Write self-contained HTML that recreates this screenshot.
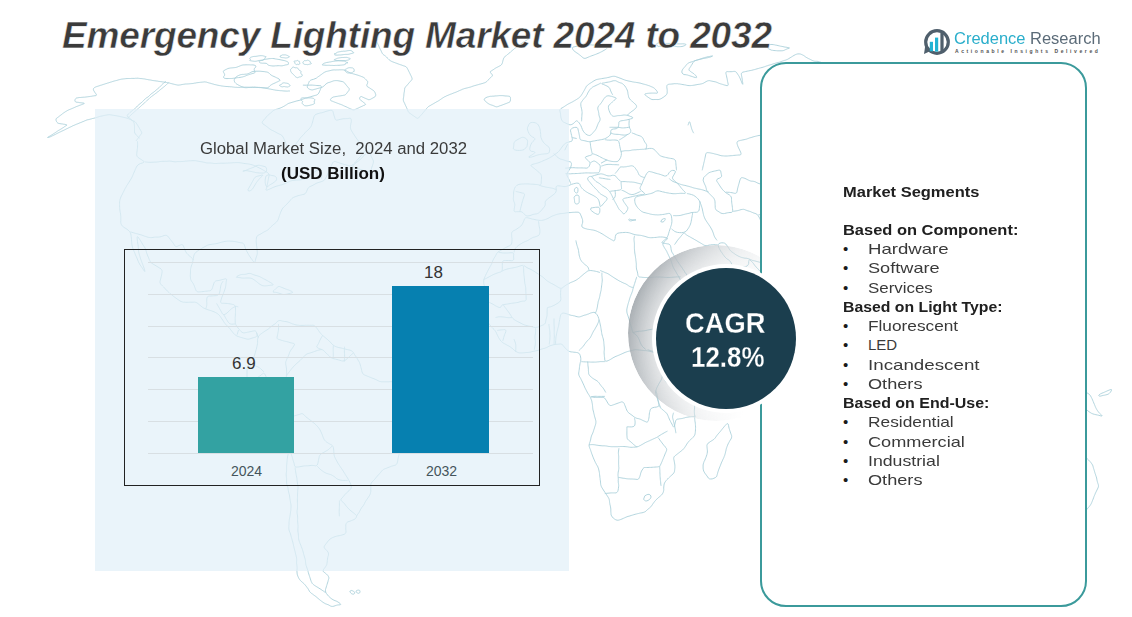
<!DOCTYPE html>
<html>
<head>
<meta charset="utf-8">
<style>
html,body{margin:0;padding:0;}
body{width:1132px;height:617px;position:relative;overflow:hidden;background:#ffffff;font-family:"Liberation Sans",sans-serif;}
.a{position:absolute;white-space:nowrap;}
#map{position:absolute;left:0;top:0;}
#panel{position:absolute;left:95px;top:109px;width:474px;height:462px;background:rgba(225,239,248,0.7);}
#title{left:62px;top:15px;font-size:37px;letter-spacing:-0.15px;-webkit-text-stroke:0.5px #fff;font-weight:bold;font-style:italic;color:#3b3b3b;}
#frame{position:absolute;left:124px;top:249px;width:414px;height:235px;border:1px solid #222;}
.grid{position:absolute;left:148px;width:385px;height:1px;background:#d8dfe3;}
.bar{position:absolute;}
#card{position:absolute;left:760px;top:62px;width:323px;height:541px;border:2px solid #3b9a9b;border-radius:26px;background:#fff;}
.seg{font-size:15px;color:#1a1a1a;}
.segb{font-weight:bold;}
.bul{display:inline-block;width:25px;}
.it{color:#3a3a3a;display:inline-block;transform-origin:0 50%;}
.it.b{color:#202020;}
#shade{position:absolute;left:628px;top:245px;width:176px;height:176px;border-radius:50%;background:linear-gradient(105deg, rgba(150,157,162,0.95) 0%, rgba(185,190,194,0.9) 25%, rgba(225,228,230,0.7) 50%, rgba(255,255,255,0) 72%);-webkit-mask-image:radial-gradient(circle at 98px 94px, rgba(0,0,0,0.45) 72px, rgba(0,0,0,1) 100px);}
#cagr{position:absolute;left:656px;top:268px;width:140px;height:141px;border-radius:50%;background:#1b3e4e;box-shadow:0 0 0 4px #fff;}
</style>
</head>
<body>
<svg id="map" width="1132" height="617" viewBox="0 0 1132 617"><path d="M302.9 85.2l.3 0 .7 0 1 0 1.3 0 1.3 0 1.2 0 1.2-.1 1.1 0 1.2 0 1.1 .1 1.2 .1 1.2 .1 1.2 .1 1.1 .1 1.2 0 1.1 0 .7 .3 .3 .6 0 .8 -.5 1.1 -.4 1.1 -.5 1.1 -.5 1.2 -.5 1.1 -.7 1 -.8 .7 -1 .5 -1.1 .3 -1.1 .3 -1.1 .3 -1.1 .3 -1.2 .4 -1.1 .3 -1.1 .3 -1.1 .3 -1 .3 -1.1 .3 -1 .4 -1.1 .4 -1 .4 -1 .4 -1.1 .4 -1.1 .2 -1.1 .3 -1.1 .2 -1 .3 -1 .3 -1 .3 -1 .3 -1 .3 -1 .3 -1 .3 -1 .3 -.8 .3 -.6 .4 -.6 .4 -.6 .5 -.8 .4 -.9 .6 -.9 .5 -1 .5 -.9 .5 -1 .4 -.9 .4 -1 .3 -1 .4 -1.1 .3 -1.2 .3 -1 .4 -1 .5 -.8 .6 -.7 .7 -.8 .7 -.8 .7 -.9 .7 -.9 .8 -.9 .8 -.8 .8 -.8 .9 -.7 .9 -.7 .9 -.8 .9 -.8 .8 -.7 .9 -.3 .8 .1 .8 .7 .8 1.2 .8 1.1 .8 1.1 .8 1.2 .9 1.1 .9 1 .8 1.1 .7 1 .6 1 .4 1 .5 1 .6 1 .5 1 .6 1 .5 1 .5 .9 .4 1 .4 .9 .6 .8 .9 .7 1 .6 1.2 .6 1.3 .5 1.2 .5 1.2 .4 1.2 .6 1.3 .8 1.4 1 1.5 1.2 1.7 1 1 .8 .3 .6-.3 .5-1 .5-1 .6-.9 .7-1 .7-.9 .8-.9 .7-.8 .6-.9 .7-.9 .6-.8 .6-.8 .6-.8 .5-.8 .6-.8 .7-.7 .7-.8 .8-.7 .7-.8 .7-.7 .6-.7 .6-.8 .7-.7 .7-.7 .8-.8 .8-.6 .8-.8 .7-.8 .6-.8 .6-.8 .5-1 .4-1.1 .4-1.2 .4-1.3 .3-1.3 .4-1.4 .3-1.3 .4-1.3 .5-1 .6-.8 .9-.6 1-.3 1.1-.4 1.1-.3 1.1-.3 1.2-.2 1.2-.3 1.1-.3 1.1-.4 1-.4 1.1-.3 1.1-.3 1.2-.3 1.3-.2 1.1 .1 .7 .3 .5 .7 .3 .9 .2 1 .3 .9 .2 1 .3 .9 .3 .9 .3 .9 .2 .8 .3 .7 .5 .5 .6 .2 .8 0 1-.2 .9-.3 1-.2 .9-.2 1-.2 .9-.2 .9-.1 .9 0 .9 0 1-.1 1 0 1-.2 1-.2 .8 .1 .6 .4 .2 .7 .1 1 0 1 -.1 .9 -.2 .8 -.2 .8 -.1 .8 -.2 .9 0 .9 -.1 .9 .2 1 .2 .9 .5 1 .5 1 .7 1 .6 1.1 .8 1.1 .8 1.2 .7 1.1 .7 1 .6 .9 .6 .8 .6 .8 .6 .7 .7 .8 .7 .8 .7 .8 .7 .8 .7 .8 .6 .7 .7 .7 .7 .7 .8 .7 .9 .6 .4 .7 0 .8 -.5 .8 -.9 .8 -.8 .8 -.7 .8 -.5 .7 -.5 .7 -.5 .7 -.8 .9 -.8 .9 -1 1 -.9 1 -.8 .8 -.7 .8 -.6 .8 -.7 .8 -.8 .8 -.9 .9 -1 1 -1 .6 -1 .3 -1.1 .1 -1-.3 -1.1-.3 -1.1-.3 -1.1-.3 -1.1-.3 -1.1-.3 -1.1-.3 -1.1-.4 -1.2-.4 -1.1-.4 -1.1-.3 -1.1-.4 -1.1-.4 -1 0 -.8 .4 -.7 .7 -.6 1.2 -.5 1.1 -.5 1 -.5 1.1 -.4 1 -.5 1 -.4 1 -.4 1 -.5 1 -.4 1 -.4 .9 -.4 .9 -.4 .9 -.4 .8 -.5 .9 -.4 .8 -.4 .9 -.6 .7 -.7 .6 -.8 .5 -.9 .4 -1 .4 -1 .3 -1 .3 -1 .3 -1.1 .4 -1 .4 -1 .6 -1 .6 -1.1 .6 -1 .5 -1.1 .5 -1.2 .5 -1 .8 -.8 1 -.7 1.4 -.6 1.6 -.8 1.3 -.8 1 -1 .5 -1.2 .2 -1.1 .3 -1.2 .3 -1.2 .3 -1.2 .3 -1.2 .4 -1.1 .4 -1 .4 -1.1 .4 -.9 .5 -.9 .7 -.8 .8 -.7 .9 -.8 .9 -.8 .9 -.8 .9 -.8 .9 -.9 .8 -.8 .9 -.9 .8 -.9 .8 -.8 .9 -.7 1 -.5 1 -.5 1.1 -.5 1.1 -.4 1.1 -.4 1.1 -.4 1.1 -.4 1.1 -.3 1.1 -.4 1 -.3 1 -.5 .9 -.6 .8 -.7 .8 -.8 .7 -.8 .7 -.8 .6 -.7 .6 -.7 .6 -.8 .7 -.8 .7 -.8 .9 -.9 1 -.9 .8 -.9 .7 -.9 .5 -.9 .5 -.9 .4 -.9 .5 -1 .6 -1 .6 -.9 .6 -1 .5 -.9 .5 -1 .4 -.7 .6 -.5 .9 -.4 1.2 -.1 1.4 -.1 1.3 0 1.1 .1 1.1 .1 1 .1 1 .1 1 .2 1 .1 1.1 .1 1.1 .1 1 .1 1.1 .1 1.2 0 1.1 -.2 1.1 -.3 1.1 -.4 1.1 -.4 1.1 -.3 1.2 -.3 1.2 -.3 1.3 -.4 .7 -.5 0 -.7-.6 -.9-1.2 -.8-1.2 -.9-1.2 -.8-1.2 -.7-1.1 -.8-1.2 -.7-1.3 -.7-1.3 -.7-1.3 -.6-1.4 -.6-1.3 -.4-1.4 -.5-1.4 -.5-1.1 -.7-.7 -.9-.5 -1-.1 -1-.1 -1-.2 -1-.2 -1-.3 -1.1-.2 -1-.2 -1-.1 -1.1-.2 -1-.1 -1.1 0 -1.2-.1 -1.2 0 -1.2 0 -1.1 .2 -1.2 .1 -1.2 .3 -1.1 .2 -1.2 .3 -1.2 .3 -1.2 .4 -1.1 .3 -1.2 .3 -1.2 .2 -1.1 .2 -1.2 .2 -1.1 .1 -1.2 .2 -1.2 .1 -1.2 .3 -1.2 .4 -1.2 .6 -1.2 .7 -1.2 .7 -1.2 .6 -1.1 .7 -1.2 .7 -1.2 .7 -1.1 .7 -1 .8 -1.1 .8 -.8 .8 -.6 .9 -.5 1 -.3 1 -.2 1.2 -.3 1.1 -.2 1.3 -.2 1.3 -.3 1.3 -.3 1.4 -.5 1.2 -.5 1.3 -.3 1.3 -.3 1.2 -.2 1.2 0 1.1 0 1.1 -.1 1.1 0 1.1 -.1 1 0 1 .1 1 .1 .9 .1 .9 .2 .8 .4 .9 .6 1 .7 .9 .6 .9 .5 1 .5 .9 .3 1 .4 1 .4 1 .4 1 .4 1.1 .6 .8 .8 .5 .9 .2 1 0 1.2-.1 1.2-.1 1.3-.1 1.4-.2 1.3-.2 1.4-.1 1.3-.2 1.3-.1 1.1-.4 .8-.7 .6-1 .4-1.2 .3-1.2 .4-1.2 .4-1.2 .4-1.2 .6-.9 .7-.6 .8-.4 .9-.1 1-.1 1-.2 1-.2 1-.3 1.1-.3 1-.2 1-.3 1.1-.3 .7 0 .5 .4 .1 .6 -.2 .9 -.2 1 -.1 .9 -.1 1 -.1 1 -.1 1 -.2 1.1 -.2 1.1 -.4 1.1 -.3 1.1 -.4 1.2 -.5 1.2 -.5 1.3 -.4 1.2 -.5 1.1 -.4 1 -.4 1 -.3 1 -.3 1 -.2 1 -.2 .9 .2 .7 .6 .5 .9 .2 1.2 0 1.3 0 1.3 .1 1.3 .1 1.4 .2 1.3 .2 1.2 .2 1.2 .3 1.1 .2 .8 .4 .6 .8 .4 .9 .1 1.2 0 1.2 0 1.2 0 1.2 0 1.1 -.1 1.2 0 1.2 -.1 1.1 -.1 1.2 0 1.2 0 1.2 0 1.2 0 1.2 .2 1.3 .4 1.2 .7 1.2 .9 1.2 .8 1.2 1 1.1 .9 1.1 1 1.2 1 .7 1.1 .5 1 .1 1.1-.2 1.2-.2 1.1-.3 1.2-.2 1.3-.3 1.1-.2 1.2-.3 1-.2 1.1-.2 .9 .2 .7 .6 .5 1.1 .5 1.5 0 1.2 -.5 .9 -.9 .7 -1.3 .4 -1.2 .4 -1.2 .3 -1.1 .4 -1 .4 -1 .2 -1 .1 -1-.1 -1-.3 -1-.3 -1.1-.3 -1-.3 -1.1-.3 -1.2-.3 -1.1-.4 -1.2-.4 -1.3-.5 -1.1-.7 -1-.7 -.9-.9 -.8-.9 -.8-1 -.8-1 -.8-1 -.8-1.1 -.8-.9 -.8-.9 -.8-.7 -.8-.7 -.8-.9 -.8-1 -.8-1 -.8-1.3 -.8-1.2 -.8-1.2 -.8-1.2 -.8-1.2 -.9-1.1 -.9-.9 -1-.8 -1.1-.7 -1.1-.6 -1.2-.6 -1.2-.4 -1.2-.5 -1.3-.4 -1.2-.4 -1.2-.3 -1.1-.4 -1.1-.4 -.9-.4 -.9-.4 -.7-.4 -.8-.5 -.7-.6 -.8-.6 -.7-.6 -.8-.6 -.7-.6 -.8-.7 -.8-.6 -.8-.4 -1-.3 -1-.2 -1.1 .1 -1.2 0 -1.2 0 -1.2 0 -1.3 .1 -1.3 0 -1.2 0 -1.2-.1 -1.2 0 -1.2-.3 -1.2-.4 -1.2-.6 -1.1-.8 -1.1-.7 -.9-.7 -.9-.6 -.8-.6 -.8-.6 -.8-.6 -.9-.7 -.9-.8 -.9-.7 -.9-.7 -.8-.8 -.9-.8 -.9-.8 -.9-1 -1-1 -.9-1.1 -1-1 -.9-.9 -.9-.9 -.8-.8 -.6-.9 -.3-.9 0-1.1 .3-1.2 .3-1.1 .3-1.1 .2-1.1 .3-1 .2-1 .2-1.1 .2-1.1 .1-1.2 -.1-1 -.4-.9 -.6-.7 -1-.6 -.9-.6 -1-.6 -1.1-.7 -1-.6 -1-.6 -1.1-.6 -.9-.6 -1-.6 -.9-.7 -.7-.9 -.6-1.1 -.6-1.3 -.5-1.2 -.4-1.1 -.5-1.1 -.4-1 -.4-1.1 -.4-1.1 -.3-1.2 -.4-1.4 -.4-1.1 -.5-1.1 -.5-1 -.7-.9 -.6-.9 -.7-1.1 -.7-1.3 -.8-1.3 -.7-1.2 -.8-1.2 -.7-1 -.7-1 -.6-.4 -.3 .2 -.1 .7 .1 1.2 .1 1.3 .2 1.4 .2 1.5 .3 1.6 .2 1.5 .1 1.4 .1 1.4 .1 1.3 .1 1.2 .2 1.2 .3 1.1 .3 1 .3 1 .3 1 .3 1.1 .3 1 .4 1 .3 1 .4 .9 .3 1 .4 1 .4 1 .4 1.1 .4 1.1 .4 1.1 .3 1.1 .3 1 .3 1 0 .4 -.3-.1 -.5-.6 -.8-1.2 -.8-1.1 -.7-1.2 -.8-1.1 -.8-1.1 -.6-1.1 -.6-1 -.5-1.1 -.4-.9 -.4-1 -.4-1 -.4-1 -.4-1 -.5-.9 -.4-1 -.4-.9 -.3-.9 -.4-1 -.5-1 -.4-1.1 -.5-1 -.3-1.1 -.4-1 -.2-1.1 -.2-1 -.2-1.1 -.1-1.3 -.1-1.4 -.1-1.6 -.1-1.5 -.2-1.5 -.2-1.4 -.2-1.3 -.5-1.2 -.6-1 -.8-.9 -.9-.8 -1-.7 -.9-.7 -1-.6 -1-.5 -.8-.7 -.8-.6 -.6-.8 -.5-.8 -.4-.9 -.2-1 -.1-.9 .1-1.1 0-1 0-1.1 0-1.2 0-1.1 -.1-1.1 -.1-1.1 -.2-1 -.2-.9 -.2-1.1 -.1-1.1 -.2-1.3 0-1.4 -.1-1.4 0-1.4 0-1.3 0-1.4 .2-1.3 .3-1.3 .4-1.1 .4-1.1 .5-1.1 .6-1 .5-1.1 .5-1.1 .6-1 .5-1.1 .5-1 .5-1 .6-1 .6-1.1 .6-1.1 .8-1.1 .7-1.2 .7-1 .6-1.1 .7-1 .6-1 .6-1.1 .6-1.1 .5-1.2 .5-1.2 .5-1.2 .5-1.2 .6-1.3 .5-1.2 .5-1.2 .6-1.2 .6-1.1 .9-1 1.2-.8 1.5-.7 1.9-.5 1.1-.5 .4-.7 -.3-.6 -1.1-.7 -1.1-.8 -1.1-.7 -1.1-.7 -1.1-.7 -.9-.9 -.4-.9 -.2-1.2 .1-1.2 .1-1.2 .2-1.3 .1-1.2 .2-1.3 .1-1.2 .1-1.3 0-1.3 0-1.3 -.1-1 0-.6 0-.4 M353.5 167.9l1.3 .1 1.2 .2 1.3 .2 1.1 .3 1.1 .4 1.2 .4 1.2 .4 1.2 .4 1.2 .4 1.2 .4 1.1 .2 1.1 .3 1.1 .1 1-.2 .7-.7 .6-1 .4-1.4 .4-1.3 .5-1.3 .4-1.3 .4-1.2 .2-1.1 0-1.1 -.3-1 -.5-.9 -.4-.9 -.5-.9 -.4-.9 -.4-.9 -.4-.9 -.5-.9 -.4-.9 -.4-.9 -.5-.4 -.7 0 -.7 .5 -.8 .9 -.9 .9 -.9 1 -.9 .9 -.9 1 -.9 .9 -.8 .8 -.8 .8 -.7 .7 -.8 .6 -.8 .7 -1 .7 -1 .6 -.9 .8 -.9 .9 -.8 .9 -.8 1Z M237.0 276.4l1.1-.6 1-.5 .9-.4 .7-.2 .6-.1 .7-.1 .7-.1 .8 0 .9 0 .8-.1 1-.2 .9-.2 1-.4 1.1-.1 1.1 .1 1.2 .3 1.2 .6 1.2 .4 1.1 .4 1.1 .3 1.1 .3 1 .3 1.1 .4 1.1 .5 1.1 .6 1.1 .6 1.1 .6 1.2 .6 1.1 .6 1.3 .7 1.4 .8 1.5 .9 1.7 1 .9 .8 .4 .5 -.4 .4 -1 0 -1.1 .1 -1 .2 -1.1 .1 -1.1 .2 -1.1 .1 -1 .1 -.9 0 -.8-.1 -.9-.1 -.9-.3 -.9-.5 -.9-.5 -.9-.6 -.9-.7 -.8-.7 -.9-.7 -.9-.7 -.9-.7 -.9-.6 -1-.7 -.9-.4 -.9-.4 -1-.1 -1-.1 -1.1 0 -1 0 -1.2 0 -1.2 .1 -1.2 0 -1.1 0 -1.2-.2 -1.2-.2 -1.1-.2 -.9-.1 -.8-.1 -.7 0Z M273.2 291.1l.8-.7 .8-.8 .8-.8 .9-.7 .8-.8 .8-.5 .8-.3 .7 0 .7 .3 .8 .4 .9 .3 1 .4 1.1 .5 1.1 .4 1.1 .4 1 .4 1.1 .3 1 .4 1 .5 1 .4 .9 .5 .4 .4 -.2 .5 -.8 .3 -1.3 .4 -1.4 .3 -1.3 .3 -1.2 .3 -1.3 .2 -1.1 .1 -1.1 0 -1.1-.3 -1-.4 -.9-.3 -1-.3 -.9-.3 -.8-.2 -.9-.2 -1-.2 -.9 0 -1 0Z M258.8 335.7l.9-.7 .9-.8 .9-.6 .9-.7 .9-.6 .9-.7 1-.6 .9-.6 1-.5 .9-.7 .9-.6 .9-.8 .8-.8 .8-.7 .9-.6 .8-.6 .9-.5 .8-.6 .9-.7 .8-.8 .8-1 1-.6 .9-.3 1.1-.1 1.1 .3 1.1 .3 1.1 .2 1.2 .2 1.2 .1 1.1 .2 1.1 .3 1.1 .4 1.1 .5 1.1 .4 1.1 .5 1.1 .3 1.1 .4 1.2 .3 1.2 .2 1.2 .1 1.2 .2 1.2 0 1.2 0 1.1 0 1.1 0 1.1-.1 1.1 0 1.1 0 1 0 1.1 0 1.1 0 1 0 1-.1 1 .2 .8 .4 .8 .6 .7 .9 .7 .8 .7 .8 .6 .9 .6 .8 .5 .8 .6 .8 .6 .8 .6 .7 .7 .8 .8 .7 .8 .8 .9 .7 1 .8 1 .9 1.1 .8 1 1 1.1 .9 .9 .9 .9 1 .8 .9 .9 .9 1 .7 .9 .6 1.1 .5 1 .4 1.1 .3 1 .3 1.1 .2 1.1 .2 1.2 .3 1.2 .3 1.3 .3 1.3 .4 1.4 .3 1.3 .3 1.3 .3 1.2 .5 1 .7 .8 .8 .7 1.1 .6 1 .6 1 .7 .9 .6 .9 .6 1 .6 1 .6 1.1 .7 1.1 .6 1.1 .5 1.3 .4 1.3 .4 1.4 .3 1.3 .4 1.4 .3 1.4 .3 1.4 .5 1.1 .5 .9 .7 .6 .7 .4 .8 .3 .8 .4 .8 .3 .9 .4 .8 .3 .9 .4 .9 .3 .9 .4 .9 .4 1 .3 .9 .4 1.1 .4 1 .5 .9 .4 .9 .5 .8 .4 .8 .4 1 .2 1 .2 1 0 1 0 1.1 0 1.1 0 1 0 1.1 0 1 0 1-.1 1 0 1 0 1 0 1.1 .1 1.1 .1 1 .3 1 .3 .8 .5 .7 .6 .9 .6 .8 .6 1 .6 1 .6 1 .6 .9 .6 .8 .7 .7 .6 .7 .7 .8 .6 .9 .7 .9 .6 .8 .7 .9 .6 .9 .6 .8 .7 .7 .8 .6 .9 .3 1.2 .2 1.3 .2 1.3 .2 1.2 .1 1.2 .1 1.2 .1 1.2 .1 1.2 0 1.2 -.1 1.3 -.2 1.2 -.4 1 -.5 .9 -.6 .7 -.7 .8 -.6 .9 -.6 .9 -.6 .9 -.6 .9 -.6 .9 -.6 .8 -.5 .8 -.5 .9 -.6 .8 -.5 .8 -.6 .8 -.6 .9 -.6 .9 -.6 1 -.5 1 -.5 1.1 -.2 1.1 -.1 1.1 0 1.1 .1 1.2 0 1.2 .1 1.2 0 1.3 .1 1.2 -.1 1.2 -.1 1.1 -.1 1.2 -.2 1.1 -.1 1.2 -.1 1.3 -.1 1.3 -.2 1.1 -.3 1.1 -.4 1 -.5 .8 -.4 .9 -.4 .9 -.3 1 -.2 .9 -.3 1 -.3 1 -.3 1.1 -.3 1 -.3 1.1 -.2 1 -.2 .9 -.1 1 -.1 .9 -.2 .9 -.3 .9 -.3 .8 -.5 .7 -.7 .6 -.9 .3 -1.1 .3 -1.1 .3 -1.1 .3 -1.2 .5 -1.2 .5 -1.2 .4 -1.1 .5 -1.1 .4 -1.1 .4 -1.1 .5 -.8 .6 -.8 .8 -.7 .9 -.7 .9 -.8 .9 -.7 .8 -.8 .8 -.7 .9 -.8 .8 -.8 1 -.7 .9 -.8 .9 -.8 .9 -.8 .8 -.9 .8 -.6 .9 -.4 1 -.2 1.1 .1 1.3 0 1.2 0 1.2 0 1.3 0 1.2 -.2 1.2 -.3 1.2 -.4 1.1 -.6 1 -.7 1.1 -.6 .9 -.7 1 -.6 .9 -.6 .9 -.6 .9 -.5 .9 -.4 1 -.5 .9 -.6 1 -.6 .9 -.8 .9 -.7 1 -.5 .9 -.6 .9 -.4 1 -.5 .9 -.5 .9 -.6 .8 -.6 .8 -.6 .9 -.4 .8 -.3 .8 -.2 .7 -.5 .8 -.7 .6 -1 .7 -1.3 .5 -1.2 .5 -1.3 .5 -1.2 .4 -1.3 .4 -.9 .7 -.6 .9 -.4 1.3 0 1.4 0 1.5 0 1.4 .1 1.3 .1 1.3 -.2 1.1 -.6 .8 -.9 .7 -1.3 .4 -1.3 .4 -1.2 .3 -1.3 .3 -1.3 .2 -1.4 .3 -1.3 .4 -1.4 .5 -1.4 .6 -1.3 .7 -1.1 .8 -1 .9 -.8 .9 -.9 1.1 -.8 1.1 -.9 1.1 -.9 1.3 -.5 1 0 .9 .3 .8 .7 .6 .7 .6 .7 .8 .7 .8 .7 1 .4 1 .1 1 -.1 1.2 -.4 1.2 -.3 1.2 -.2 1.4 -.2 1.4 -.1 1.5 -.2 1.4 -.2 1.1 -.4 .9 -.4 .7 -.5 .7 -.6 .9 -.7 .9 -.7 1 -.3 1 .1 .8 .5 .7 .9 .5 .8 .7 .9 .7 .8 .8 .8 .9 .5 .9 .3 .9 0 1 -.3 1 -.3 1.1 -.3 1.2 -.4 1.2 -.4 1.3 -.4 1.3 -.4 1.3 -.4 1.3 -.4 1.4 -.1 1.3 .4 1.4 .7 1.3 1.1 1.4 1.1 1.3 1.1 1 1.1 1 1 .7 1.1 .7 1 .5 1.1 .5 1 .3 1 .5 1 .6 1.1 .7 1 .8 .5 .6 -.1 .4 -.6 .2 -1.2 .1 -1.2 .1 -1.2 .3 -1.2 .4 -1.3 .5 -1.2 .2 -1 0 -1-.3 -.9-.5 -.9-.5 -.8-.4 -.9-.3 -.8-.3 -.8-.3 -.9-.5 -.8-.4 -.9-.6 -.8-.6 -.8-.6 -.8-.6 -.9-.7 -.8-.7 -1-.8 -1-.9 -1.1-.9 -1.1-.8 -1.1-.8 -1-.8 -1.1-.7 -.9-.8 -.7-.7 -.6-.8 -.4-.9 -.5-.8 -.4-.7 -.5-.7 -.5-.6 -.5-.7 -.5-.7 -.6-.7 -.6-.7 -.7-.8 -.8-.7 -.9-.8 -1-.8 -.9-.9 -.8-1 -.7-1 -.6-1.2 -.5-1.1 -.4-1.1 -.3-1 -.1-1.1 -.1-1.1 -.1-1.1 .1-1.1 .1-1.2 0-1 -.1-1.1 -.1-.9 -.1-.9 -.2-1 0-1 0-1 .1-1.1 0-1.1 -.1-1 -.1-1.1 -.3-1 -.2-1 -.3-1 -.2-.9 -.2-.9 -.2-.9 -.3-1 -.2-1 -.3-1.1 -.3-1 -.2-1.1 -.3-1.1 -.2-1.1 -.3-1.1 -.2-1.1 -.4-1.2 -.3-1.1 -.3-1.1 -.4-1.2 -.3-1.2 -.3-1.2 -.3-1.1 -.4-1.1 -.4-1 -.4-.9 -.3-1 -.1-1.1 -.1-1.1 .1-1.1 0-1.2 .1-1 0-1 0-1 .1-1 .1-1 .1-1 .2-1 .2-.9 .2-1 .1-.9 .2-1 .1-1 .2-1 .1-1.1 .2-1.1 .1-1.1 0-1.1 .1-1.1 0-1.1 0-1.1 -.2-1.2 -.2-1.1 -.2-1.1 -.2-1.2 -.2-1.1 -.2-1.1 -.1-1.1 -.1-1.1 -.2-1.1 -.3-1 -.3-1 -.2-1 -.2-1.1 -.2-1 -.1-1.1 -.2-1 -.2-.9 -.3-.9 -.4-.9 -.2-.9 -.2-1.1 0-1.1 0-1.2 0-1.1 0-1.2 -.2-1.1 -.1-1.1 -.1-1.2 0-1.1 .1-1.2 .2-1.1 .1-1.1 0-1 0-1 0-.9 0-.9 0-.9 .1-1 .1-1 .1-1.1 .1-1.1 .1-1.1 .1-1.2 .2-1.1 .1-1.2 .2-1.1 .3-1.1 .1-1.1 .2-1.1 .1-1 .1-1 -.2-.9 -.5-.7 -.8-.5 -1.1-.3 -1.1-.5 -1-.5 -1.1-.6 -1.1-.6 -1.1-.7 -1-.6 -1.1-.7 -1-.6 -1-.6 -.9-.7 -.9-.7 -.8-.7 -.9-.7 -1-.6 -1-.5 -1-.5 -1-.6 -.8-.6 -.6-.8 -.6-.8 -.5-.9 -.6-.9 -.6-.9 -.6-1 -.6-.9 -.5-1 -.5-1 -.5-.9 -.4-1 -.4-1.1 -.4-1 -.4-1.1 -.4-.9 -.4-.9 -.4-.8 -.4-.8 -.5-.8 -.4-.9 -.5-1 -.5-1.1 -.5-1.1 -.6-1.1 -.6-1 -.7-1.1 -.7-1.1 -.6-1.1 -.7-1.2 -.6-1.2 -.7-1.1 -.6-1 -.6-.9 -.7-.9 -.6-.8 -.6-.9 -.6-.8 -.7-.9 -.5-.9 -.5-.8 -.3-.8 -.3-.7 -.3-.8 -.3-.8 -.4-.9 -.3-.9 -.1-.9 .1-.9 .3-.9 .6-.9 .4-1 .4-1.1 .1-1.2 .1-1.2 .1-1.3 .1-1.2 .1-1.2 .2-1.2 .1-1.1 .1-1.2 0-1.2 0-1.1 0-1.2 0-1.1 0-1 0-1 0-1 .1-1.1 0-1.1 .1-1.1 .2-1 .5-1 .5-1 .8-.8 .8-.9 .7-.9 .8-.9 .7-1 .6-.9 .6-1 .4-1 .4-1 .4-1.2 .4-1.3 .4-1.4 .4-1.5 .4-1.5 .4-1.4 .3-1.4 .3-1.4 .3-1.5 .1-1.4 0-1.5 0-1.6Z M351.3 590.5l1.5 .4 1 .6 .7 .5 .2 .7 -.2 .7 -.3 .4 -.5 .3 -.6 .1 -.8-.2 -.7-.3 -.7-.6 -.6-.8 -.5-1Z M357.6 590.2l1.1-.1 .8 .2 .4 .5 .1 .7 -.2 .9 -.3 .6 -.5 .3 -.7 0 -.8-.3 -.7-.3 -.4-.5 -.3-.5 -.1-.6Z M525.8 217.7l.6 0 .7 0 .9 .2 1 .2 1.2 .3 1.1 .4 1.2 .3 1.3 .2 1.2 .3 1.3 .3 1.3 .2 1.3 .2 1.4 .1 1.3 0 1.3-.2 1.3-.3 1.3-.5 1.3-.5 1.2-.5 1.1-.6 1-.6 1-.6 1.1-.5 1.1-.4 1.1-.4 1-.4 1-.3 .9-.3 .9-.2 .9-.2 1-.2 1.1-.1 1.1-.1 1-.1 1-.1 .9-.2 .9-.1 .9-.2 1-.1 1-.1 1.1 0 1.1-.1 1-.1 1-.1 1 0 .9-.1 1 0 1 0 1 0 .9 .3 .7 .5 .5 .8 .5 1 .4 1.1 .5 1.1 .4 1.2 .5 1.3 .2 1.3 0 1.3 -.3 1.4 -.5 1.4 -.1 1.2 .3 .9 .9 .7 1.2 .5 1.2 .4 1.1 .3 1 .3 .8 .1 1 .2 1.1 .1 1.1 .2 1.2 .2 1.1 .2 1.1 .3 .9 .3 .8 .3 .9 .4 1 .5 1.2 .5 1.2 .7 1.2 .6 1.1 .7 1.1 .7 1 .7 1 .6 1 .7 1.1 .6 1.1 .7 1 .6 1 .6 1 .5 .9 .6 .8-.1 .5-.7 .4-1.4 .2-2 .5-1.6 .8-1.1 1.3-.7 1.5-.3 1.6-.2 1.5-.1 1.5-.1 1.4-.1 1.4 .1 1.4 .1 1.3 .3 1.3 .4 1.1 .4 1.1 .4 1 .3 .9 .2 1 .2 1 .2 1.1 .1 1.2 .1 1.1 .1 1.1 .2 1.2 .3 1.2 .3 1.1 .3 1.1 .3 1.1 .4 1.1 .3 1.1 .2 1.3 .1 1.3 0 1.4-.1 1.4-.1 1.5-.1 1.4-.2 1.4-.2 1.5 0 1.7 0 1.7 .2 1.9 .3 1.1 .4 .6 .5 -.2 .6 -.8 .8 -.8 .7 -.7 .8 -.8 .7 -.7 .8 -.5 .8 -.1 .8 .1 .7 .4 .7 .4 .8 .5 .9 .6 1 .7 1 .6 1 .6 1 .4 1 .5 1 .5 1 .5 1.1 .6 1.2 .7 1.3 .5 1.2 .5 1.1 .3 1 .3 1 .3 .9 .3 1 .3 1.1 .4 1 .4 1 .5 1 .5 .9 .6 .9 .6 1 .6 1 .6 1.1 .7 1.2 .7 1.1 .6 1.1 .7 1.2 .5 1.1 .6 1.1 .6 1.2 .5 1.1 .6 1.2 .5 1.2 .5 1.1 .4 1 .5 1 .5 1 .5 1 .6 .9 .6 1 .6 1 .6 1.1 .5 1.3 .4 1.3 .5 1.3 .5 1.4 .6 1.4 .6 1.3 .6 1.4 .7 1.2 .6 1.2 .8 1.1 .7 1 .9 .9 .8 .8 1 .7 .9 .8 .8 .8 .9 .8 .8 .8 .8 .7 .9 .7 1 .6 1 .5 1.1 .4 1.1 .3 1 .2 1.2 .1 1 .2 1.1 .1 1.1 .2 1.1 .1 1.1 .2 1.1 .2 1.1 .2 1.2 .2 1.1 .3 1.1 .2 1 .3 1 .3 .9 .3 1.1 .2 1 .1 1 .1 1 .1 1 .1 1 .2 .9 .2 1 .1 1 .1 1.1 0 1.1 0 .9 .3 .5 .6 .3 1 .1 1.3 -.1 1.1 -.2 1.1 -.3 1 -.4 .8 -.4 .9 -.5 .9 -.5 .9 -.5 1 -.5 1 -.5 1.1 -.5 1.1 -.5 1.1 -.5 1.1 -.5 1.1 -.5 1.1 -.5 1.1 -.5 1.1 -.4 1.1 -.3 1 -.3 1 -.4 1 -.4 1 -.4 1 -.5 1 -.6 .9 -.6 .8 -.6 .6 -.6 .6 -.7 .6 -.7 .7 -.8 .8 -.8 .8 -.8 .8 -.8 .7 -.7 .7 -.7 .7 -.8 .7 -.7 .9 -.8 .9 -.9 1 -.7 .9 -.7 .9 -.7 .9 -.5 .8 -.6 .8 -.5 .8 -.4 .8 -.5 .9 -.4 .8 -.5 .9 -.5 .9 -.6 .9 -.6 .9 -.7 .9 -.7 .9 -.8 .8 -.8 .9 -.9 .8 -.8 .9 -.9 .8 -.8 .8 -.6 .8 -.5 .8 -.3 .7 -.3 .8 -.4 .9 -.5 1 -.5 1 -.4 1 -.5 .9 -.5 .9 -.4 .8 -.5 .9 -.6 .8 -.6 .7 -.7 .8 -.4 .8 -.2 .9 .1 1.1 .4 1.1 .3 1.1 .4 1.2 .3 1.2 .3 1.2 .2 1.3 .3 1.3 .2 1.3 .1 1.4 .1 1.2 0 1.2 -.1 1.2 -.1 1 -.1 1 0 1 .1 1 .1 1 .1 1 .1 1.1 0 1.1 0 1.1 .1 1.1 .1 1.2 .2 1.2 .2 1.2 .1 1.3 .1 1.3 .1 1.4 -.1 1.4 0 1.3 -.1 1.3 -.1 1.3 -.2 1.2 -.3 1.1 -.5 1 -.6 .9 -.8 .7 -.8 .8 -.8 .8 -.8 .8 -.9 .8 -.8 .8 -.7 .9 -.6 .8 -.6 .9 -.6 .9 -.5 .9 -.6 .9 -.6 .9 -.6 .8 -.7 .8 -.7 .7 -.8 .6 -.8 .7 -.8 .6 -.9 .7 -.9 .7 -.9 .7 -.9 .7 -.9 .7 -.9 .7 -.7 .8 -.3 .9 -.1 1 .2 1.1 .3 1.1 .1 1 .2 1 .2 1 .1 1 .1 .9 0 .9 0 .9 -.1 .9 -.1 .9 -.1 1 -.1 .9 -.3 .9 -.5 .9 -.7 .9 -.9 .8 -.9 .8 -.9 .8 -.8 .8 -.9 .8 -.8 .8 -.8 .8 -.7 .8 -.7 .9 -.6 .9 -.5 .9 -.3 .9 -.2 1 -.1 1 -.1 1 -.1 1.1 .1 1.2 -.1 1.1 -.2 1 -.3 1 -.4 .8 -.5 .9 -.7 .8 -.9 .8 -.9 .8 -1 .8 -.9 .8 -.8 .8 -.9 .8 -.7 .8 -.8 .9 -.6 .8 -.6 .8 -.6 .8 -.5 .8 -.5 .7 -.5 .8 -.6 .7 -.6 .6 -.7 .6 -.8 .6 -.7 .6 -.7 .6 -.7 .6 -.6 .7 -.8 .6 -.9 .4 -1.1 .4 -1.3 .3 -1.2 .2 -1.1 .2 -1.1 .3 -1 .2 -1.1 .3 -1.3 .3 -1.3 .4 -1.3 .4 -1.3 .4 -1.2 .4 -1 .3 -1 .2 -1 .4 -1.1 .4 -1.3 .6 -1.3 .6 -1.3 .6 -1.3 .5 -1.2 .4 -1.2 .3 -1.2 0 -1.3-.4 -1.2-.7 -1.3-1 -1-1.1 -.7-1.1 -.5-1.1 -.1-1.2 -.1-1.2 -.1-1.1 0-1.1 0-1.1 -.1-1.1 -.2-1.1 -.2-1.1 -.3-1.1 -.2-1.1 -.2-1.1 -.1-1 -.1-1 -.2-1.1 -.4-1 -.6-1.1 -.7-1.1 -.7-1 -.7-1.1 -.7-1 -.6-1 -.7-1 -.7-1.1 -.7-1.1 -.7-1.1 -.6-1.1 -.4-1.2 -.3-1.1 -.1-1.2 -.1-1.1 -.1-1.2 -.2-1.2 -.1-1.2 -.2-1.2 -.1-1.3 -.2-1.2 -.1-1.3 -.2-1.2 -.2-1.2 -.3-1.1 -.2-1.1 -.4-1 -.3-1 -.5-.9 -.5-.8 -.5-.8 -.4-.9 -.5-.8 -.4-.9 -.4-.9 -.4-.9 -.5-1 -.4-1.1 -.4-1 -.4-.9 -.3-1 -.4-.9 -.3-.9 -.3-.9 -.3-.9 -.3-.9 -.3-.9 -.4-.9 -.3-.9 -.4-1 -.2-1 .1-1 .2-1.2 .4-1.2 .4-1.1 .3-1.2 .3-1.1 .1-1 .3-1.1 .3-1 .4-1 .5-1 .4-.9 .3-.9 .3-.8 .2-.7 .2-.7 .3-.8 .3-.9 .3-1 .3-1 .3-.9 .3-1 .2-.9 .1-1 0-1.1 -.2-1 -.3-1.1 -.3-1.1 -.3-1 -.3-.9 -.2-1 -.2-.9 -.3-1.1 -.2-1 -.3-1.2 -.3-1.1 -.2-1.1 -.1-1.1 -.1-1.1 -.1-1.1 -.1-1.1 -.2-1.1 -.2-1 -.2-1.1 -.3-1 -.4-1 -.4-1 -.4-.9 -.5-.9 -.5-.9 -.5-.8 -.6-.9 -.6-.9 -.5-1 -.6-1.1 -.5-1 -.5-1 -.5-.9 -.4-.9 -.4-1 -.4-.9 -.5-1.1 -.5-1 -.4-1 -.5-1 -.4-.8 -.4-.8 -.4-.9 -.5-.8 -.5-.8 -.5-.9 -.3-.9 -.2-1 0-1.2 .2-1.2 .2-1.3 .2-1.3 .1-1.3 .2-1.4 .2-1.3 .2-1.3 .3-1.3 .4-1.2 .1-1.4 0-1.4 -.2-1.5 -.4-1.6 -.6-1.3 -.8-.9 -1.1-.5 -1.2-.2 -1.3-.2 -1.3-.1 -1.4-.2 -1.4-.1 -1.3-.3 -1.2-.6 -1.1-.7 -1-.9 -.9-.9 -.9-1 -.8-1 -.7-1 -.9-.8 -.9-.5 -.9-.2 -1.1 .1 -1.1 .1 -1 .1 -1.1 .1 -1.1 .1 -1.1 .2 -1 .2 -1 .3 -1 .3 -1 .3 -.9 .4 -.9 .5 -.9 .5 -1 .5 -.9 .3 -1 .4 -1.1 .2 -1 .3 -1.1 .3 -1 .4 -1.1 .4 -1 .3 -1 .3 -1.1 .2 -.9 .2 -1 .2 -1 .2 -1 .2 -.9 .3 -1 .3 -.9 .1 -.8 .1 -.9 .1 -.9 0 -1 .1 -1 .1 -1.1 .1 -1.1 .1 -1 0 -1 0 -.9 0 -1-.2 -1-.4 -1-.5 -1-.6 -1-.7 -.9-.8 -1-.8 -.9-.9 -1-.7 -1-.7 -1-.6 -1.1-.5 -1-.6 -1.1-.6 -1.1-.6 -1.1-.6 -1-.7 -.8-.7 -.8-.7 -.6-.9 -.5-.8 -.6-.9 -.6-1 -.5-1 -.5-1.1 -.5-1 -.5-1 -.4-1.1 -.6-.9 -.7-1 -.8-.9 -.9-.8 -.8-.9 -.9-.9 -.7-1 -.8-.9 -.7-1 -.8-.8 -.7-.8 -.8-.8 -.7-.7 -.7-.7 -.6-.8 -.5-.8 -.5-.8 -.3-.9 -.3-.9 -.1-1 -.2-1 -.1-1 -.1-1 -.2-1 0-1.1 0-1.1 0-1.1 .2-1.1 .1-1 .2-1.1 .2-.9 .3-1 .2-1 .2-1 .1-1.2 .2-1.2 .1-1.2 0-1 .1-.9 .1-.8 0-.9 .1-1 0-1.1 .1-1.3 -.1-1.3 -.1-1.5 -.3-1.6 -.5-1.7 -.1-1.6 0-1.5 .3-1.5 .5-1.3 .5-1.2 .5-1.2 .5-1.1 .5-1 .5-1 .5-1 .5-1 .6-1 .5-1 .6-1 .5-1 .6-1 .5-1 .5-1 .4-1.1 .4-1 .4-1.1 .5-.9 .5-1 .6-.9 .6-.9 .5-1 .5-.9 .4-.9 .6-.8 .8-.8 .9-.7 1.2-.6 1.1-.7 1.1-.6 1.1-.6 1.1-.7 1.1-.6 1.3-.6 1.3-.6 1.3-.6 1.1-.7 .8-.9 .4-1.2 .1-1.3 .1-1.2 0-1.1 0-1 -.2-.9 -.1-.9 0-1 -.1-1 0-1.1 .2-.9 .6-.9 .8-.7 1.2-.6 1.2-.7 1.3-.8 1.3-.9 1.5-1 1.2-1 .9-1.1 .7-1.1 .5-1.1 .5-1 .4-1 .3-.9 .2-.8Z M728.4 424.4l.2 1.3 .2 1.3 .3 1.3 .4 1.2 .4 1.3 .4 1.2 .4 1.2 .4 1.1 .5 1.2 .1 1.1 -.2 1.2 -.5 1.2 -.8 1.2 -.8 1.3 -.6 1.2 -.7 1.2 -.5 1.3 -.5 1.2 -.4 1.2 -.4 1.1 -.2 1 -.2 1.1 -.3 1 -.2 1 -.2 .9 -.3 1 -.3 .9 -.4 .9 -.3 .9 -.4 .9 -.5 .9 -.4 1 -.4 .9 -.5 1 -.4 1 -.4 1 -.4 1.1 -.4 1 -.4 .9 -.4 1 -.3 .9 -.4 .9 -.3 1 -.3 .9 -.3 1 -.2 .9 -.3 .9 -.2 .8 -.2 .8 -.6 .8 -.9 .6 -1.4 .7 -1.7 .6 -1.5 .1 -1.3-.2 -1-.7 -.7-1.1 -.8-1.1 -.7-1 -.8-1 -.7-1 -.6-1 -.4-.9 -.3-1 -.2-.9 -.1-1 0-1 0-1 0-1.1 .2-1.1 .4-1.2 .4-1.2 .7-1.3 .5-1.3 .6-1.4 .5-1.4 .5-1.5 .3-1.3 .2-1.3 0-1.1 -.1-1.1 -.1-1 -.1-1 -.1-1.1 -.1-1 .2-.9 .4-.8 .6-.8 .9-.6 .9-.7 .9-.6 1-.6 1-.6 1-.7 .8-.8 .8-.9 .7-1.1 .7-1 .7-.9 .7-.8 .7-.8 .7-.8 .7-.8 .7-.9 .8-1 .7-.9 .8-.9 .6-.8 .7-.8 .6-.7 .7-.7 .6-.7 .6-.6Z M515.1 187.1l-.1 .3 -.2 .5 -.3 .7 -.3 1.1 -.3 1 -.2 1.2 -.1 1.1 0 1.2 -.1 1.1 0 1.1 -.1 1.1 -.1 1 .1 1 .2 1 .3 1 .4 1 .3 .9 .2 1 0 1 -.2 1 -.1 1 -.2 1 -.1 1 -.2 1 .2 .8 .5 .4 .8 .2 1.1-.1 1.2 0 1 0 1.1 0 1.1 0 1 .3 .9 .6 .8 .8 .8 1 .8 .8 .8 .5 1 .3 .9-.1 1-.1 1-.2 1.1-.4 1-.4 1.1-.4 1.1-.2 1-.2 1.1-.1 1.1-.3 1.1-.6 1-.8 1-1 1-1.1 .9-1.1 .9-1.1 .9-1 .6-1.1 .3-1 .1-.9 -.2-1 .1-.9 .3-.9 .6-.8 1-.8 .9-.8 1-.8 1-.7 1-.7 1-.8 1.1-.8 1-.8 1-.9 .7-1.1 .4-1.2 .1-1.4 -.3-1.6 .2-1.1 .5-.7 .9-.3 1.4 .1 1.2 .1 1.3 .2 1.2 .2 1.2 .2 1.3 0 1.4-.3 1.6-.5 1.8-.8 1.7-.7 1.7-.5 1.7-.4 1.6-.3 1.4 .1 1 .4 .7 .8 .4 1.1 .5 1.1 .7 .9 .7 .9 .8 .8 .9 .8 .9 .7 .8 .6 .9 .6 .9 .5 .9 .6 .9 .4 .9 .5 1 .5 .9 .4 1 .5 .9 .5 1 .6 .8 .5 .9 .6 .8 .7 .6 .7 .6 .9 .4 1 .4 1.2 .2 1.1 .2 1 .2 1 .1 1 .3 .5 .5-.1 .6-.5 .9-1 .9-1.1 1-1.1 1.1-1.3 1.1-1.2 .6-1.1 .1-1 -.4-.7 -.9-.6 -1-.5 -1-.6 -1.1-.6 -1.1-.6 -1.1-.7 -.9-.8 -.8-.8 -.7-.9 -.7-.9 -.8-.8 -.8-.8 -.8-.8 -.8-.8 -.8-.8 -.7-.8 -.7-.8 -.8-1 -.9-1.1 -1-1.2 -1.1-1.3 -.5-1.2 0-1 .6-.8 1.1-.7 1.1-.2 1.1 .4 1.1 .9 1 1.4 1.1 1.2 1 1 1 .7 1 .5 1 .6 .9 .6 .9 .7 .8 .8 .8 .7 .9 .6 .9 .6 .9 .5 .9 .6 .9 .6 .9 .8 .9 .8 .8 .9 .7 .9 .7 1.1 .6 1.1 .6 1.2 .6 1.2 .6 1.2 .6 1.2 .5 1.2 .6 1.1 .6 1.1 .6 1 .5 1 .6 1 .5 1 .5 1 .5 .9 .6 .9 .7 .7 .7 .6 .7 .7 .7 .7 .6 .8 .6 .8 .7 .2 .8-.4 1-1 1.1-1.6 .8-1.4 .2-1.2 -.1-1 -.5-.7 -.6-.8 -.6-.8 -.5-.8 -.6-.8 -.6-.8 -.5-.8 -.5-.9 -.4-.9 0-.7 .6-.6 1-.4 1.4-.3 1.6-.3 1.5-.3 1.7-.4 1.6-.4 1.6-.4 1.6-.3 1.4-.3 1.4-.4 1.3-.2 1.4-.3 1.4-.1 1.5-.2 .6-.4 -.1-.7 -.9-1 -1.7-1.3 -1.2-1.2 -.5-1.1 0-1.1 .5-1.1 .6-1.2 .7-1.4 .7-1.7 .7-1.8 .8-1.7 .8-1.7 .8-1.7 .9-1.6 .9-1.2 .9-.7 1-.3 .9 .2 1 .2 .9 .2 .9 .3 .9 .3 1 .3 1.1 .3 1.3 .4 1.4 .3 1.4 .4 1.4 .5 1.4 .5 1.5 .6 1.3 0 1.2-.5 1.1-1.1 1-1.7 1.1-1.2 1.2-.8 1.2-.3 1.4 .1 .9 .4 .5 .5 0 .7 -.5 .9 -.5 1 -.5 .9 -.6 1 -.6 1 -.2 .9 .2 1 .6 .9 1.1 .9 1 .9 1 .9 .9 1 .9 .9 .9 1 .9 1 .8 1.1 .8 1 .9 1 .8 1 .9 .9 .9 .9 .3 .7 -.2 .4 -.7 .2 -1.2-.1 -1.1-.1 -1.1 0 -.9 0 -.9 .1 -.9 .1 -1 0 -1 .1 -1.1 .1 -1.1 0 -1.1 0 -1.1-.1 -1.2-.2 -1.2-.1 -1.3-.3 -1.4-.2 -1.4-.3 -1.5-.4 -1.5-.3 -1.5-.4 -1.6-.4 -1.4-.2 -1.3 .2 -1.3 .4 -1.2 .8 -1.1 .6 -1.2 .4 -1.2 .4 -1.2 .2 -1.1 .3 -1.2 .3 -1.2 .2 -1.3 .3 -1.1 .2 -1.1 .2 -1 .2 -.9 .2 -1 .2 -1 .3 -1.2 .4 -1.1 .4 -.9 .7 -.5 1 -.2 1.2 .1 1.4 .2 1.3 .4 1.3 .6 1.2 .6 1.1 .8 1.1 .9 1.1 1.1 1.1 1.1 1 1.1 .9 1.2 .6 1.1 .5 1.2 .2 1.1 .3 1.1 .3 1.1 .2 1 .3 1 .3 1 .2 1 .2 .9 .1 1 .1 1 .1 1 0 1 .1 1.2 0 1.2-.1 1.5-.1 1.5-.2 1.5-.2 1.5-.3 1.5-.3 1.5-.3 1.2 .2 .9 .9 .6 1.6 .3 2.1 .2 1.9 0 1.7 -.2 1.4 -.2 1.1 -.3 1.1 -.4 1.1 -.3 1.1 -.4 1.1 -.4 1.3 -.5 1.5 -.5 1.7 -.6 2 -.7 1.6 -.7 1.2 -.8 1 -.9 .6 -.7 .6 -.8 .6 -.7 .6 -.7 .6 -.2 .5 .3 .4 .8 .3 1.2 .1 1.2 .2 1.2 .2 1.1 .2 1.2 .2 .9 .6 .6 .9 .4 1.3 .2 1.6 .2 1.4 .3 1.2 .4 1 .5 .9 .6 .8 .5 .9 .6 1 .5 1 .6 .9 .5 .9 .6 .9 .5 .9 .6 .9 .6 .8 .6 .9 .6 .9 .6 .8 .5 .8 .6 .8 .6 .8 .6 .8 .5 .9 .6 .9 .7 1 .6 .9 .5 .9 .6 .8 .6 .8 .5 .8 .5 .9 .5 .8 .5 .9 .5 .9 .6 1 .5 1 .6 1 .5 1.1 .5 1.1 .5 1.1 .5 1.1 .4 1.2 .4 1.1 .3 1.2 .3 1.1 .4 1.2 .3 1.2 .4 1.1 .4 1.2 .4 1.2 .4 1.1 .5 1.2 .4 1.1 .6 1 .6 1 .7 .9 .8 .8 .7 .9 .7 .9 .7 .9 .6 .9 .5 .9 .6 .8 .5 .9 .5 .8 .5 .8 .4 1 .3 .9 .3 1.1 .5 .7 .8 .4 .9 0 1.3-.2 1.1-.3 1.2-.2 1.2-.3 1.1-.2 1.1-.2 1.2-.2 1.2-.2 1.2-.2 1.2-.2 1.2-.3 1.2-.3 1.2-.4 1.1-.5 1-.5 .9-.5 .8-.6 .8-.7 .9-.7 .9-.8 1-.8 1-.7 1-.7 1-.6 1.1-.6 1-.6 1.1-.6 1-.6 1.1-.6 1-.6 1.1-.5 1-.5 1-.5 1.1-.6 1-.5 .9-.6 1-.5 1-.7 1-.7 1.1-.8 1-.8 1.1-.9 1-.9 1-.8 1-.9 .8-.9 .7-.9 .5-.9 .3-1 .4-.9 .3-.9 .4-.9 .3-.9 .4-.9 .3-1 .3-1 .4-1 .3-1.1 .3-1.1 .4-1.1 .3-1.2 0-1.2 -.5-1.2 -.8-1.2 -1.2-1.2 -1.1-1.2 -.9-1 -.9-.9 -.7-.7 -.7-.8 -.6-.8 -.6-.9 -.6-.8 -.7-.9 -.8-.8 -.8-.9 -1-.9 -.7-.2 -.4 .4 -.3 1.2 0 1.9 -.5 1.5 -1 1.1 -1.4 .7 -1.9 .3 -1.7 .2 -1.4 .1 -1.2 0 -.9 0 -1-.1 -1-.1 -1.1-.2 -1.2-.2 -1-.5 -.9-.8 -.7-1 -.6-1.4 -.7-1.1 -.8-1 -1-.8 -1.1-.7 -1-.7 -.9-.9 -.9-.9 -.8-1.1 -.8-1 -.8-1.2 -.8-1.2 -.9-1.2 -.7-1.3 -.7-1.3 -.6-1.4 -.5-1.4 .1-1.1 .6-.9 1.2-.6 1.7-.3 1.6 .1 1.2 .3 1.1 .7 .8 1.1 .8 1 .7 1.1 .7 1.1 .6 1 .8 1 .8 .9 .9 .8 1 .7 1 .7 1 .7 1.1 .7 1.1 .7 1.1 .6 1.1 .5 1.2 .5 1.1 .4 1.2 .3 1.2 .3 1.1 .2 1.1 0 1.1 .2 1.1 .3 1.1 .4 1 .5 1.1 .4 .9 .4 1 .2 .9 .2 .9 .2 1 .3 1.1 .3 1.1 .3 1.1 .3 1.1 .2 1.1 .1 1.1 .1 1 .1 1.1 .1 1 .2 .9 .1 1 .1 1.1 .1 1-.1 1.1-.1 1.2-.1 1.1-.2 1.2-.2 1.2-.2 1.2-.2 1.2-.1 1.3-.1 1.3 0 1.2 0 1.3-.1 1.2-.1 1.2-.1 1 .2 .9 .6 .7 .9 .6 1.2 .6 1.1 .7 1.1 .7 .9 .8 .9 .7 .9 .8 .9 .7 .8 .7 .9 .8 .8 .7 .9 .8 .8 .8 .8 .8 .9 .7 .9 .6 1.1 .6 1.1 .5 1.2 .6 1.1 .5 1.1 .6 1 .5 1.1 .7 .9 .6 1 .7 .9 .7 .9 .7 .9 .8 .9 .8 1 .7 .8 .7 .8 .6 .7 .6 .7 .6 .7 .5 .8 .6 .9 .5 .9 .6 .8 .5 .9 .4 .8 .5 .8 .4 .8 .5 .9 .5 .8 .4 .9 .6 .9 .5 .8 .5 .9 .6 .8 .5 .9 .4 .9 .4 .9 .3 .9 .3 .9 .3 1 .4 1.1 .4 1 .4 1.1 .4 1 .3 1 .2 1 .3 1 .3 .9 .3 1 .3 .9 .4 .9 .3 1 .4 1 .3 1 .4 1 .4 1 .4 1.1 .4 1 .6 1 .6 .7 .8 .6 .9 .4 .9 .5 .9 .5 .9 .6 .9 .6 .7 .1 .5-.3 .3-.9 .1-1.3 .2-1.3 .3-1.1 .4-1 .4-.8 .3-1 .3-1.1 .2-1.1 .1-1.3 .1-1.2 .2-1.1 .2-1 .2-1 .1-1 .2-1 0-1 .1-1.1 .1-1 .2-1 .2-.9 .4-.9 .2-.9 .3-.9 .2-.9 .2-.9 .1-1 0-1 -.1-1.2 -.2-1.2 .1-1.1 .2-1.1 .3-1 .6-.9 .6-.9 .6-.8 .7-.8 .7-.8 .7-.8 .6-.7 .5-.7 .5-.6 .6-.6 .6-.7 .8-.6 .8-.6 .7-.6 .8-.7 .7-.8 .6-.8 .8-.7 .9-.8 1.1-.7 1.1-.8 1.1-.7 .9-.7 .9-.7 .8-.7 .8-.8 .8-.7 .7-.8 .8-.8 .9-.6 .9-.6 1-.4 1-.3 1.1-.3 1.1-.3 1.2-.3 1.2-.4 1.2-.1 1.1 .1 1 .4 1 .5 1.1 .5 1.2 .6 1.2 .5 1.3 .4 1.1 .6 1 .8 .8 .9 .7 1.1 .6 1 .5 1.1 .4 1.1 .4 1.1 .4 1.2 .4 1.2 .4 1.2 .4 1.2 .4 1.3 .5 1.1 .4 1.2 .5 1.1 .5 1.2 .5 1.1 .5 1.1 .5 1.2 .8 .8 .9 .4 1.1 .1 1.3-.2 1.2-.3 1.3-.3 1.3-.3 1.2-.3 1.2-.3 1.3-.4 1.2-.3 1.3-.3 .9 0 .7 .2 .2 .6 0 .9 0 .9 .1 1 .2 1.1 .2 1.1 .2 1.1 .2 1.1 .2 1.1 .2 1.1 .1 1.1 .1 1.2 .1 1.2 .1 1.3 0 1.2 .1 1.1 0 1 0 .8 .1 .9 0 .9 0 1 0 .9 0 1 0 1 .1 1 0 1 0 1.1 0 1.2 -.1 1.2 -.1 1.2 0 1.3 -.1 1.2 -.1 1.1 0 1.2 .1 1 .3 .8 .5 .7 .6 .5 .7 .5 .6 .7 .8 .7 .7 .8 .7 .8 .7 .8 .7 .8 .7 .9 .7 .9 .6 1 .5 1.1 .5 1.1 .6 1.1 .6 1.1 .6 1 .6 1 .7 1 .6 .9 .7 .9 .6 .8 .7 .9 .7 .8 .7 .9 .7 .8 .7 .8 .6 .9 .6 .8 .6 .7 .7 .7 .7 .5 .8 .3 .9 .2 .5-.1 .2-.4 -.2-.7 -.5-.9 -.6-1 -.5-1 -.6-1.1 -.7-1.1 -.6-1 -.5-1.1 -.5-1 -.4-1 -.5-1 -.7-1.1 -.7-1.1 -.8-1.2 -.8-1.1 -.6-1.1 -.6-1.1 -.5-1 -.5-1 -.4-1.1 -.4-1 -.3-1.1 -.2-1.1 -.2-1.1 0-1 .1-1.1 0-1 -.1-1.1 -.1-1.1 -.2-1 -.2-1.1 -.1-1 0-1 0-1 0-.9 0-.9 0-1 0-.9 .1-.9 -.1-.8 0-.9 0-.9 -.1-1 -.1-1 -.2-1 -.2-1.2 -.2-1.1 -.2-1.1 -.2-1.2 -.2-1.1 -.1-.7 .2-.1 .3 .4 .6 1 .6 .9 .6 .9 .8 .9 .7 .8 .9 .9 .8 .9 .8 .9 .8 1 .9 .9 .9 .8 .9 .9 1 .8 .9 .8 .9 .9 .9 .9 .8 1 .8 1 .8 1 .8 1.1 .7 1 .7 .6 .7 .2 .8-.3 .7-.8 .7-.8 .8-.9 .8-.9 .8-.9 .8-1 .9-1 .8-1 .8-1.1 .8-1 .9-1 .8-1 .9-.9 .5-1 .3-1.1 -.1-1.1 -.4-1.2 -.5-1.2 -.5-1.1 -.6-1.1 -.7-1 -.6-1 -.4-1 -.4-1.1 -.3-1 -.3-1.1 -.4-1 -.4-1 -.4-1 -.3-1 -.3-1 -.3-1 -.2-.9 -.3-1.1 -.3-1.1 -.3-1.1 -.4-1.3 -.4-1.1 -.4-1.1 -.4-1 -.5-1 -.4-1 -.4-1.1 -.4-1.1 -.4-1.2 -.1-1 .2-.8 .6-.7 .8-.5 .8-.5 1-.5 1-.6 1-.5 1.1-.5 1-.5 1-.5 1-.5 1.1-.4 1-.4 1.1-.4 1-.3 1.1-.3 1-.3 1-.3 1-.2 .9-.3 1-.3 .9-.3 .9-.4 .9-.4 .9-.3 1-.3 .9-.2 1-.3 1-.2 .9-.2 1-.3 .9-.2 .9-.2 .9-.2 .9-.2 .8-.4 .7-.7 .7-.9 .5-1.1 .6-1.2 .5-1.1 .5-1.2 .4-1.2 .5-1.1 .5-1.1 .5-1.1 .5-1.1 .5-1 .5-1 .4-.9 .4-.9 .3-1 .3-1.1 .3-1.2 .2-1.3 .3-1.2 .3-1.3 .2-1.3 .3-1.2 .2-1.3 .3-1.3 .3-1.2 .3-1.3 .1-1.2 -.3-1.1 -.5-1 -.7-.9 -.8-.9 -.8-.8 -.7-.9 -.8-.8 -.7-.9 -.8-.8 -.8-1 -.7-.9 -.8-.9 -.7-.8 -.6-.8 -.6-.6 -.6-.7 -.6-.7 -.7-.7 -.8-.7 -.7-.7 -.8-.8 -.7-.7 -.8-.7 -.4-.7 -.1-.6 .3-.5 .6-.5 .5-.5 .6-.6 .6-.7 .5-.7 .6-.8 .5-.7 .6-.8 .6-.8 .2-.7 -.2-.6 -.6-.6 -.9-.6 -.9-.5 -.9-.4 -.9-.5 -.9-.3 -.9-.4 -.9-.3 -.9-.3 -.9-.3 -1-.3 -1.1-.2 -1.2-.1 -1.3-.1 -.9-.3 -.4-.5 .1-.8 .6-.9 .5-1 .5-.9 .5-1 .5-1 .5-1.1 .6-1 .6-1.1 .7-1.1 .7-.7 .9-.3 .9 .2 1.1 .6 1.1 .6 1.1 .6 1.1 .6 1.2 .6 1.1 .5 1.1 .6 1.1 .6 1.1 .5 1.2 .5 1.2 .4 1.2 .3 1.3 .2 1.1 .4 .9 .7 .7 .8 .5 1.1 .6 1.1 .6 1 .6 .9 .7 .8 .7 .9 .7 1 .7 1 .6 1 .7 1.1 .7 1 .7 1.1 .8 1 .8 .7 1 .5 1 .3 1.1-.1 1.1-.1 1.1-.1 1.1-.3 1.1-.3 .7-.5 .3-.6 -.1-.8 -.5-.9 -.4-1 -.5-1 -.5-1 -.5-1 -.5-1 -.5-1 -.6-.9 -.6-.9 -.6-.9 -.6-1 -.5-1.1 -.5-1.1 -.5-1.1 -.5-1.1 -.4-1.1 -.4-1.1 -.1-1 .2-.9 .6-.8 .8-.7 .8-.7 .7-.6 .8-.7 .7-.6 .7-.7 .7-.6 .8-.6 .8-.6 .7-.7 .8-.6 .8-.7 .7-.8 .7-.8 .5-.8 .5-1 .4-1.1 .4-1 .3-1.1 .2-1.1 .1-1.2 .2-1 .2-1.1 .4-.9 .4-.9 .3-1 .3-1 .3-1 .3-1.1 .3-1.2 .2-1.1 .3-1.2 .3-1.2 0-1.1 -.1-1 -.4-1 -.7-.9 -.6-.8 -.7-.8 -.7-.7 -.8-.7 -.6-.7 -.7-.7 -.6-.7 -.5-.6 -.6-.7 -.6-.8 -.7-.8 -.7-.8 -.6-.8 -.7-.8 -.6-.8 -.5-.9 -.7-.8 -.6-.8 -.7-.8 -.8-.8 -.8-.7 -1-.5 -1-.3 -1.1-.3 -1.1-.3 -1.1-.3 -1.1-.4 -1.1-.5 -1-.4 -1-.3 -1-.4 -.9-.2 -.9-.3 -.9-.4 -.9-.3 -1-.4 -.9-.4 -1-.4 -1-.3 -1-.3 -1.1-.3 -1-.4 -1-.5 -1-.4 -.7-.7 -.4-.8 -.1-.9 .1-1.2 .3-1.1 .2-1.1 .4-1 .4-1.1 .3-1 .3-1 .2-1 .2-.9 .3-1 .2-.9 .3-.9 .4-1 .3-.8 .2-.8 .3-.8 .2-.8 .4-.5 .7-.4 .8-.1 1.2 .1 1.1 .1 1.3 .1 1.3 .1 1.4 .1 1.3 .1 1.3 0 1.2 0 1.2-.1 1.2 0 1.1 0 1.2 0 1.1 0 1.2 0 1-.1 1-.1 1-.2 1.1-.1 1.1-.1 1.1-.1 1.2-.1 1.2-.1 1.2-.1 1.2-.1 1.2-.1 1.1-.1 1.1-.1 1-.1 1-.1 .9 .2 .7 .3 .5 .6 .4 .7 .5 .8 .5 .7 .5 .7 .7 .8 .7 .7 .7 .7 .9 .7 .9 .8 .9 .7 1 .7 1 .7 1 .7 1.1 .7 .9 .8 1 .8 .9 .8 .9 .8 .8 .8 .6 .9 .6 .9 .7 .8 .8 .7 .8 .7 .9 .6 .9 .6 1 .6 .9 .6 .9 .6 .9 .7 .9 .6 1 .7 1 .7 .9 .8 .8 .8 .8 .9 .6 .9 .6 .8 .7 .9 .6 .8 .7 .8 .8 .8 .7 .8 .8 .7 .8 .7 .6 .2 .4-.2 .2-.6 -.1-1.1 -.1-1.1 -.1-1.1 -.2-1.2 -.2-1.1 -.1-1.1 -.3-1.1 -.2-1.1 -.2-1 -.2-1 -.2-1 -.2-.8 -.1-.9 -.2-.9 -.1-.9 -.1-1.1 -.1-1.1 -.2-1.1 -.4-1 -.4-.9 -.5-.8 -.5-.9 -.6-.9 -.6-.9 -.6-1 -.6-.9 -.7-.9 -.7-.7 -.7-.7 -.8-.6 -.8-.7 -.9-.6 -.9-.7 -.9-.7 -.8-.8 -.7-.8 -.8-.9 -.2-.7 .2-.4 .7-.2 1.2 .1 1.2 .1 1.1-.1 1-.1 1-.2 1-.1 1 0 1 0 1.1 .2 1 0 1.1 .1 1.1 0 1.1-.1 1.2 0 1.2 0 1.2 0 1.2 0 1-.3 .8-.6 .4-.9 .2-1.2 .1-1.2 .2-1.2 .1-1.2 0-1.2 .1-1.2 .1-1.3 .1-1.2 .2-1.3 .2-1.3 .2-1.1 .2-1.2 .2-1 .2-.8 .2-.6 0-.2 M515.1 187.1l.2-.2 .4-.3 .6-.6 .7-.7 .9-.5 1-.4 1.1-.2 1.1-.1 1.2-.1 1.1 0 1.1-.1 1.1 0 1.2 0 1.1 0 1.3 .1 1.3 .1 1.2 .1 1.2 0 1.2 .1 1.1 .1 1.1 .1 1.1 .1 1.1 .2 1 .3 .8-.2 .6-.5 .3-1 0-1.4 .1-1.3 .1-1.4 .1-1.3 0-1.3 -.2-1.2 -.4-1.1 -.7-.9 -.9-.9 -1-.8 -.9-.8 -.9-.8 -1-.7 -.9-.8 -1-.8 -1-.8 -1.1-.8 -.5-.7 .2-.6 .6-.4 1.3-.4 1.2-.3 1.2-.3 1.1-.3 1.1-.3 1.2-.4 1.2-.5 1.4-.5 1.4-.7 1.4-.6 1.4-.6 1.2-.5 1.2-.6 1.2-.6 1.2-.7 1.2-.7 1.2-.8 1.1-.8 1-.7 1.1-.7 .9-.7 1-.7 .8-.9 .9-1 .8-1.2 .8-1 .7-1.1 .8-1 .7-1 .8-.8 .9-.7 1-.6 1.1-.4 1-.3 1-.3 1-.3 1-.2 .7-.5 .3-1 0-1.2 -.4-1.7 -.3-1.6 -.4-1.5 -.3-1.5 -.4-1.5 .2-1.2 .8-1 1.3-.8 1.9-.5 1.4-.1 1.1 .4 .7 1 .3 1.4 .3 1.3 .3 1.2 .2 1 .2 1 .2 1 .2 .9 .1 1 .2 1 .3 .8 .6 .6 .8 .3 1.1 .2 1.1 .2 1.1 .2 1.2 .3 1.1 .3 1.2 .2 1.2 .1 1.2-.1 1.2-.3 1.2-.2 1.4-.2 1.4-.3 1.4-.3 1.5-.2 1.4-.3 1.4-.2 1.3-.3 1.4-.4 1.5-.7 1.4-.8 1.5-1.1 1.1-1.1 .7-1.2 .3-1.3 -.2-1.4 .3-1.1 .9-.7 1.3-.5 1.8-.1 1.4-.3 1.1-.5 .6-.7 .3-.8 .2-.9 .1-1 .1-1 0-1 .3-.8 .7-.6 1-.4 1.3-.2 1.3-.2 1.2-.2 1.1-.2 1.1-.2 1.2-.3 1.3-.3 1.3-.4 1.5-.4 .7-.5 -.1-.5 -.7-.5 -1.6-.6 -1.3-.5 -1.3-.4 -1.1-.3 -.9-.1 -.9-.1 -1 0 -.9 .1 -.8 .2 -.9 .1 -.9 .1 -1 .1 -.9 0 -1 .1 -1 .2 -1 .2 -1 .2 -1 0 -.9-.3 -.8-.6 -.8-.9 -.7-1.1 -.6-1.3 -.6-1.5 -.5-1.7 -.2-1.5 .1-1.3 .5-1 .8-.7 .8-.7 .7-.6 .7-.7 .6-.7 .7-.6 .7-.7 .8-.6 .9-.7 .4-.6 -.2-.6 -.7-.4 -1.3-.4 -1.2-.4 -1.2-.4 -1.3-.2 -1.2-.3 -1.1 0 -.9 .2 -.9 .4 -.7 .6 -.7 .8 -.6 .7 -.6 .9 -.6 .9 -.5 .9 -.5 .7 -.5 .8 -.5 .6 -.5 .7 -.6 .7 -.7 .8 -.7 .7 -.4 .9 -.2 1 0 1 .3 1.1 .3 1.1 .2 1 .2 1 0 .9 .2 .9 .2 1 .4 1 .4 1 .1 1 -.1 1.1 -.4 1 -.7 1 -.6 1.1 -.5 1.2 -.5 1.3 -.5 1.3 -.5 1.3 -.7 1.2 -.7 1 -.9 1 -.8 .9 -.8 .9 -.9 .9 -.8 .8 -1 .4 -1.1-.1 -1.4-.5 -1.5-1 -1.3-1.2 -1.1-1.5 -.9-1.7 -.7-1.9 -.7-1.8 -.9-1.5 -.9-1.4 -1-1.1 -.9-.7 -.8-.3 -.7 .3 -.6 .7 -.7 .7 -.7 .7 -.9 .6 -.9 .6 -.9 .3 -1 .1 -1-.2 -1.1-.5 -1-.4 -1.1-.5 -1.1-.5 -1.1-.5 -.9-.7 -.7-.7 -.5-.9 -.3-1.1 -.3-1 -.2-1 -.1-1 -.1-1.1 -.1-.9 -.2-1 -.2-1 -.3-.9 .1-.9 .4-.8 .7-.7 1.1-.6 1.2-.7 1.1-.7 1-.7 1.1-.7 1.1-.7 1-.6 1-.5 1-.5 1-.5 1-.5 1-.6 .9-.5 1-.6 1-.6 1-.7 1-.6 .9-.8 .9-.8 .8-1 .6-1 .7-1 .6-1.1 .6-1 .6-1 .5-1 .5-.9 .5-.9 .4-.9 .6-.8 .8-.8 .9-.7 1.1-.8 1.1-.7 1.1-.7 1.2-.8 1.1-.7 1.1-.6 1.1-.5 1.1-.3 1-.2 1.1-.2 1.1-.2 1.2-.2 1.3-.2 1.2-.2 1.3-.2 1.2-.2 1.1-.3 1.2-.2 1.1-.3 1.1-.3 1.1-.3 1-.1 1 0 1 .1 .9 .4 .9 .3 1 .3 .9 .4 1 .3 1 .4 1 .4 .9 .4 1 .4 .9 .3 1.1 .4 1 .2 1.1 .3 1 .2 1.1 .2 1.1 .2 1.1 .3 1.1 .2 1.1 .2 1.1 .1 1.2 .2 1.1 .2 1.1 .2 1.1 .2 1 .3 1 .3 1.1 .3 1.2 .3 1.1 .3 1.1 .3 1.1 .4 .9 .3 1 .3 .9 .4 .9 .4 1 .4 1 .5 1 .7 .9 .9 .9 1 .9 1.2 .4 1 0 .5 -.5 .3 -.9 0 -.8-.1 -.9 0 -.9 0 -.9 0 -.8 0 -.9 0 -.9 .1 -.8 0 -.9 .1 -.9 .1 -1 .2 -1 .2 -.5 .3 0 .5 .4 .6 1 .7 .9 .7 1 .7 .9 .6 1 .7 .9 .5 1 .4 1.1 .1 1-.1 1.1 0 1 0 .9 0 1 .1 1-.2 1-.3 1-.4 1-.7 1.1-.6 .9-.7 .9-.7 .9-.6 .6-.8 .5-.9 .2-1 0-1.1 0-1.2 -.1-1.2 -.2-1.3 -.1-1.3 .1-1 .6-.8 .8-.4 1.2-.2 1.2-.1 1.2-.1 1.2-.1 1.1-.2 1.1 0 1.1 0 1.1 0 1 .2 1.1 .1 1.1 .2 1.1 .2 1.2 .2 1.3 .2 1.2 .2 1.2 .3 1.2 .2 1.2 .1 1.2 0 1.2-.1 1.2-.1 1.2-.2 1.1-.2 1.1-.2 1-.2 1-.2 1.1-.1 1-.2 1.1-.2 1.1-.3 1.2-.5 1.2-.7 1.3-.8 1.2-.6 1.1-.3 1-.1 .9 .2 .9 .2 .9 .2 1 .2 1 .2 1.1 .2 1 .3 1 .4 1.1 .5 1 .4 1.1 .4 1.1 .3 1.1 .3 1.1 .4 1.1 .3 1.1 .3 1.1 .3 .7-.1 .4-.5 .1-.9 -.3-1.4 -.3-1.2 -.2-1.3 -.2-1.1 -.2-1.1 -.3-1.1 -.2-1.2 -.3-1.2 -.3-1.3 .1-.9 .4-.6 .9-.2 1.3 .1 1.2 0 1.3 0 1.3-.1 1.2-.2 1.1 0 .9 .3 .8 .6 .6 .8 .5 .8 .6 .9 .5 .7 .5 .8 .4 .9 .5 .9 .4 .9 .4 1.1 .4 1 .4 .9 .4 1 .4 .9 .3 .4 .1-.1 0-.6 -.1-1.1 -.2-1.1 -.2-1.1 -.1-1.2 -.2-1.2 -.2-1.1 -.2-1 -.2-1 -.1-.9 .2-.7 .6-.6 .9-.5 1.4-.3 1.3-.3 1.5-.3 1.5-.3 1.5-.3 1.5-.3 1.5-.4 1.3-.3 1.3-.4 1.3-.4 1.2-.3 1.3-.4 1.2-.3 1.2-.3 1.1-.3 1.2-.4 1.1-.4 1-.4 1.1-.3 1.1-.4 1.1-.3 1-.3 1.1-.3 1-.4 1-.3 1-.3 1-.3 1.1-.3 1.1-.3 1-.2 1-.3 .9-.3 .9-.4 .9-.3 .9-.3 .9-.3 .9-.2 1-.4 1.2-.5 1.2-.7 1.3-.8 1.3-.8 1.3-.8 1.3-.8 1.3-.7 1.3-.5 1.3-.3 1.2 0 1.2 .1 1.1 .4 1.1 .5 1.2 .6 1.1 .8 1 .8 1 .6 1 .5 .9 .5 1 .4 .9 .5 1 .5 1 .5 .9 .3 1 .3 .8 .1 .9 0 .9 0 1 .2 1.1 .3 1.1 .3 1.2 .4 1.2 .3 1.2 .3 1.2 .3 1.1 .4 1.2 .5 1.2 .7 1.2 .7 1.1 .6 1.1 .5 1 .4 .9 .3 .9 .3 .9 .2 .8 .2 .9 .1 .9 .1 1 0 1-.1 1-.1 1.1-.1 1 0 1 .1 1 .2 1.1 .2 1.1 .2 1.1 .2 1.3 .2 1 .1 1 .2 .8 .1 .7 0 .8 .1 .9 .1 .9 .1 1.1 .1 1 .1 .9 .1 .9 .1 .8 .2 1 .1 1.1 .2 1.2 .1 1.4 .2 1.3 .1 1.2 .1 1.2 0 1.2 0 1.1 .1 1.1 0 1.2 0 1.1 0 1 0 1.1 0 1 0 1.1 0 1-.1 1.1 0 1.1 0 1.1 .1 1.1-.1 1 0 1-.2 1-.1 1-.2 .9-.1 1 0 .9-.1 .9 0 .8 .1 .7 0 .7 .1 .8 0 .9 .1 .9 .1 1.1 0 1.1 .1 1.1 0 1.1 .1 1.2 .1 1.2 0 1.2-.1 1.3-.2 1.2-.3 1.3-.2 1.1 0 1.1 0 1.1 .2 1 .2 1.1 .2 1.2 .3 1.1 .2 1.2 .2 1.2 .3 1.1 .2 1.2 .3 1.2 .2 1 .1 1.1 .2 .9 .1 .9 .1 1 .1 1 .1 1 0 .9 .1 1 .2 1 .2 1 .2 1 .2 1.1 .2 1.1 .1 1.1 .2 1.2 .1 1.1 .1 1.1 .1 1 .1 1 .1 1.1 .1 1.1 .2 1.2 .1 1.1 .1 1.2 .2 1.2 .1 1.2 .1 1.2 .1 1.2 .2 1.2 .2 1.2 .1 1.1 .2 1.1 .1 1 .2 1 .1 1.1 .1 1.1 .2 1.1 .1 1.2 .2 1.2 .1 1.1 .2 1.1 .1 1.1 .2 1.1 .1 1.1 .2 1.1 .1 1.1 .2 1 .1 1 .1 1 .1 1 0 1 0 1.1-.1 1-.1 1.1-.1 1.1-.1 1.1 0 1.1 0 1.1 0 1.2 0 1.1-.1 1.3-.1 1.2-.2 1.2-.2 1.2-.1 1.1 0 1.1 .1 1.1 0 1.2 0 1.2 0 1.2 0 1.1 .1 1 .2 1 .3 .9 .4 1 .4 .9 .3 1 .3 1 .2 1 .2 1 .1 1 .1 1 .1 1 .1 1 0 1.1 0 1 0 1 0 1 0 .9 0 .9 .1 .9 .1 1 .2 .9 .2 1 .2 .9 .2 1 .2 1 .1 .9 .1 1 .1 1 .1 1.1 .1 1.1 .1 .8 .1 .6 0 .3 0 M529.1 157.4l1.3-.2 1.3-.2 1.2-.4 1.2-.3 1.1-.5 1.1-.4 1-.3 1.1-.3 1.1-.2 1.1-.2 1-.2 1-.1 1-.1 1.1-.1 1-.1 1-.1 1-.2 .9-.4 .6-.8 .3-1.2 .2-1.4 -.2-1.3 -.6-1.2 -.9-.9 -1.2-.8 -1.2-1 -1.2-1.1 -1.1-1.3 -1-1.5 -.7-1.5 -.6-1.5 -.3-1.5 0-1.6 -.1-1.5 -.2-1.4 -.2-1.5 -.3-1.4 -.4-1.4 -.6-1.2 -.6-1.1 -.8-1 -1-.7 -1.2-.5 -1.4-.3 -1.6-.1 -1.2 .2 -1 .4 -.7 .6 -.4 .7 -.4 .8 -.4 .9 -.3 .8 -.4 .9 -.1 1.1 .3 1.4 .5 1.5 .8 1.7 1 1.5 1.2 1.2 1.3 .9 1.5 .6 .7 .8 .2 .8 -.6 1 -1.3 1.2 -1.1 1.3 -.9 1.6 -.7 1.8 -.5 2 0 1.5 .6 1.1 1.2 .7 1.8 .1 1.1 .4 .4 .5 -.3 .6 -1.1 .8 -1.1 .8 -1.1 .7 -1.2 .7 -1.2 .7Z M526.9 146.6l.3-1.4 .2-1.3 .1-1.1 .1-1.1 -.1-.9 -.3-.8 -.5-.8 -.9-.8 -1.1-.6 -1.1-.4 -1.1-.1 -1.1 .3 -1 .5 -1.1 .6 -1.2 .6 -1.1 .7 -1.2 .6 -.9 .8 -.6 .9 -.4 .9 0 1 -.1 1.1 -.1 1 -.2 1 -.2 1 .3 .8 .8 .6 1.4 .5 1.9 .2 1.8 0 1.7-.1 1.6-.3 1.4-.5Z M683.9 74.6l1.2 0 1.2 .2 1.1 .2 1.2 .4 1.2 .4 1.3 .4 1.3 .4 1.4 .5 1.5 .4 1 .2 .4-.3 -.1-.5 -.5-.9 -.7-.8 -.7-.7 -.7-.7 -.8-.5 -.9-.6 -.8-.5 -.9-.7 -.9-.6 -.6-.7 -.1-.8 .3-.9 .7-1 .7-1 .7-1.2 .8-1.2 .7-1.4 .9-1.1 1-.8 1.2-.5 1.3-.3 1.3-.3 1.2-.3 1.2-.3 1.2-.3 1.2-.3 1.3-.2 1.3-.3 1.3-.2 1.3-.3 1.2-.3 1.2-.4 1-.5 .5-.2 0-.2 -.7 .1 -1.2 .2 -1.2 .3 -1.2 .2 -1.3 .3 -1.2 .3 -1.3 .4 -1.3 .3 -1.3 .5 -1.3 .4 -1.4 .5 -1.3 .4 -1.4 .5 -1.3 .4 -1.4 .5 -1.3 .4 -1.3 .4 -1.3 .4 -1.1 .5 -1.1 .7 -.9 .9 -.8 1 -.8 1 -.8 .9 -.8 .9 -.7 .9 -.5 .9 -.4 1 0 .9 .1 1Z M575.3 52.0l.8 .5 .9 .5 .9 .6 .8 .6 .9 .7 .9 .7 .9 .7 .8 .8 .8 .7 .9 .4 1 .2 1-.2 1.2-.5 1.1-.5 1.2-.5 1.3-.5 1.2-.5 1.3-.4 1.2-.5 1.2-.4 1.2-.5 1.2-.5 1.2-.5 1.2-.6 1.2-.6 1.3-.7 1.2-.7 1.3-.7 1.2-.9 .7-.7 0-.5 -.5-.5 -1.2-.3 -1.2-.3 -1.1-.2 -1.1-.2 -1.1-.2 -1-.2 -1-.1 -1-.1 -1-.1 -.9-.1 -1-.1 -.9 0 -.9-.1 -.9 0 -1-.1 -1.1-.1 -1-.1 -1.1-.1 -1.1 0 -1 0 -1.1 .1 -1.1 .2 -1 .1 -1.1 .2 -1 .2 -1 .2 -1 .2 -1 .2 -.9 .2 -1 .2 -1 .2 -.9 .3 -1 .2 -.5 .4 -.2 .6 .2 .8 .5 .9Z M771.3 50.1l1.3 .2 1.3 .2 1.3 .1 1.3 .1 1.2 .1 1.2 0 1 0 1.1 0 .9 0 .9-.1 .9-.2 .9-.4 .8-.4 .8-.4 .9-.4 .9-.3 .9-.2 .5-.3 0-.2 -.5-.2 -.9-.1 -.9-.2 -1-.2 -1-.1 -1.1-.2 -1.1-.3 -1.1-.2 -1.2-.2 -1.2-.3 -1.3-.3 -1.2-.3 -1.3-.2 -1.2-.3 -1.2-.2 -1.2-.1 -1 0 -1.1 .2 -1 .1 -.9 0 -.9 .1 -.8 0 -.8 0 -.8-.1 -.8 0 -.8 0 -.3 .1 .1 .2 .6 .3 1 .4 1 .5 .9 .6 .9 .7 .8 .9Z M658.2 46.4l1.1-.1 1-.1 1-.2 .9-.1 1-.1 1-.1 1.1 0 1.1 0 1.2 .1 1.1 0 1.1 .1 1.2 0 1.1 .1 1 0 1.1 .2 1 .1 1.1 .2 1 .2 1.2 0 1.1 0 1.2-.1 1.2-.1 1.1-.3 1.1-.4 1.1-.6 .6-.4 .1-.3 -.3-.3 -.8-.2 -.8-.1 -.9-.1 -.9 0 -1 .1 -1 0 -1.1 0 -1.2 0 -1.2-.1 -1.1-.1 -1.1-.1 -1.1-.1 -1.1 0 -1.1-.1 -1.1 0 -1.2 0 -1.3 0 -1.3 0 -1.2 0 -1.1-.2 -1.2-.1 -1.1-.1 -1.1-.1 -1.2 0 -1.1 0 -.9 .2 -.5 .5 -.3 .7 0 .9Z M591.1 207.9l1.6-.2 1.4-.2 1.5-.2 1.4-.1 1.3 0 .9 .5 .6 1 .1 1.5 -.2 2.1 -.6 1.3 -.8 .7 -1.1 0 -1.5-.7 -1.3-.7 -1.3-.9 -1.3-1 -1.2-1.1Z M575.7 195.3l1.3-.2 1 .1 .6 .4 .4 .7 .1 1 0 1 .1 1.1 0 1.1 0 1.2 -.2 1 -.5 .7 -.8 .4 -1.1 .2 -.8-.2 -.6-.4 -.4-.8 -.2-1.1 -.1-1 -.1-1.1 -.2-1.1 -.1-1.1Z M575.9 187.5l.9 0 .6 .3 .4 .8 .2 1.1 -.1 1.5 -.2 1.1 -.5 .6 -.7 .1 -.9-.4 -.6-.6 -.5-.7 -.1-1 .1-1.1Z M629.6 219.1l1.1 .4 1.1 .2 1.1 .2 1.2 0 1.1 0 .7 0 .1 0 -.3 0 -.9 .1 -.9 .2 -.9 .2 -.9 .2 -1 .3 -.8 0 -.7-.2 -.6-.4 -.4-.7Z M661.7 219.8l1.7-1 1.2-.3 .6 .1 0 .8 -.6 1.2 -.7 .9 -.9 .5 -1 0 -1.2-.3Z M843.5 329.8l.7 .5 .7 .6 .7 .6 .7 .8 .6 .8 .7 .9 .7 1 .7 1 .7 1.1 .3 1.3 0 1.4 -.4 1.5 -.8 1.8 -.9 1 -1 .4 -1.2-.3 -1.3-1 -.9-1.1 -.7-1.3 -.4-1.5 -.1-1.6 0-1.5 0-1.6 0-1.6 .1-1.5Z M1009.4 236.3l.1-1.4 .1-1.3 .1-1.5 .1-1.4 .1-1.5 .5-1.2 .8-.9 1.2-.6 1.6-.4 1.6-.3 1.6-.2 1.4-.2 1.5-.2 1.3-.2 1.3-.2 1.1-.2 1-.2 1-.2 1-.2 1-.2 1.1-.1 1-.2 1-.2 1-.3 .9-.4 .9-.3 .9-.2 .9-.2 .8-.2 .6-.4 .1-.6 -.1-.9 -.6-1 -.4-1 -.5-1.1 -.3-1 -.4-.9 -.3-1 -.2-1 -.2-1 -.2-1 -.1-1.1 -.2-1.1 -.1-1.2 0-1.3 -.1-1.2 -.1-1.3 -.1-1.2 -.1-1.2 -.1-1.1 -.3-1 -.4-1 -.4-.9 -.5-.8 -.4-.8 -.4-.8 -.5-.7 -.4-.8 -.5-.8 -.5-.8 -.5-.8 -.6-.9 -.6-.9 -.6-.9 -.7-.9 -.6-.8 -.7-.8 -.7-.7 -.8-.6 -.7-.7 -.6-.7 -.7-.8 -.6-.8 -.7-.8 -.7-.8 -.7-.8 -.8-.8 -.4-.5 .2-.2 .6 0 1.1 .4 1 .3 1.1 .3 .9 .2 1 .2 1 .3 1 .3 1.2 .5 1.1 .6 1.1 .5 1 .4 .9 .4 .9 .3 .5 .4 .3 .7 -.2 .7 -.4 .9 -.5 .9 -.7 .8 -.7 .8 -.9 .8 -.7 .7 -.6 .7 -.6 .8 -.5 .7 -.3 1 -.2 1.2 0 1.5 .1 1.7 .3 1.5 .3 1.5 .5 1.4 .6 1.2 .6 1.3 .6 1.3 .5 1.4 .6 1.5 .1 1.2 -.3 .9 -.7 .7 -1.1 .4 -1.1 .4 -1 .4 -1.1 .4 -1 .5 -1.1 .5 -1.1 .5 -1.2 .6 -1.3 .6 -1.2 .7 -1.2 .6 -1.2 .7 -1.1 .7 -1.1 .7 -1.1 .7 -1 .7 -.9 .8 -1 .7 -1 .7 -1.1 .8 -1 .7 -.7 .9 -.3 .9 .2 .9 .5 1.1 .5 1 .4 1.1 .4 1 .4 1.1 .3 1.1 .4 1.2 .4 1.3 .3 1.4Z M959.5 466.8l-.1 .9 -.1 1 -.1 1 -.1 1 0 1.1 0 1.1 0 1.2 .1 1.3 .1 1.4 .1 1.4 0 1.2 -.1 1.1 -.1 .9 -.1 1 -.2 1.1 -.2 1 -.2 1.1 -.3 1.1 -.3 1.1 -.3 1 -.4 1 -.3 1 -.2 1.1 -.2 1 -.1 1 -.1 1.1 -.3 1 -.2 1.1 -.4 1 -.3 1 -.2 1 -.3 1 -.2 1 -.3 1 -.3 1.1 -.3 1.1 -.3 1.2 -.3 1.2 -.3 1.1 -.2 1.2 -.2 1.1 -.2 1.1 -.3 1 -.3 1 -.4 .9 0 .9 .4 .7 .7 .6 1.1 .5 1.1 .6 1.1 .5 1.1 .7 1 .6 1.1 .5 1.1 .3 1.2 0 1.1-.1 1.1-.2 1.1-.2 1.1-.2 1.1-.2 1-.3 1.1-.4 1.1-.4 1.2-.4 1.1-.5 1.1-.4 1.1-.3 1.1-.4 1.1-.3 1-.4 1.1-.3 1-.3 1-.3 .9-.3 .9-.2 .9-.1 .9-.2 .9-.2 .9-.2 1-.3 .9-.2 1-.3 .9-.4 1-.3 1-.4 1-.3 1.1-.3 1.1-.3 1.2-.4 1.1-.4 1.1-.5 1.2-.5 1.2-.4 1.2-.5 1.2-.4 1.2-.4 1.1-.2 1 .1 .8 .3 .7 .5 .7 .6 .7 .5 .7 .6 .8 .6 .8 .6 .7 .6 .8 .6 .8 .7 .8 .6 .7 .7 .8 .7 .8 .7 .8 .7 .7 .6 .6 .7 .5 .7 .7 .6 .7 .6 .8 .5 .9 .4 1 .4 1 .3 1 .4 1.1 .2 .9 .5 .7 .8 .5 1.1 .4 1.4 .3 1.3 .3 1.3 .2 1.3 .2 1.2 .5 1 .8 .9 1 .6 1.4 .4 1.2 .5 1.2 .4 1.2 .5 1 .6 1.2 .5 1.1 .5 1.2 .5 1.3 .5 1.2 .4 1.2 .4 1.2 .4 1.2 .4 1.1 .1 1.1-.1 1.1-.5 1.1-.6 1.1-.7 1.1-.6 1.1-.6 1.1-.6 1-.5 1.1-.5 1-.5 1-.4 1-.4 1-.4 1-.4 .9-.4 .9-.5 .9-.6 .8-.7 .7-.8 .8-.8 .7-.8 .7-.8 .7-.8 .7-.9 .8-.7 .8-.8 .9-.7 .8-.7 .7-.7 .6-.7 .4-.7 .5-.7 .6-.7 .6-.7 .6-.7 .6-.7 .6-.7 .6-.8 .6-.7 .6-.8 .7-.7 .7-.8 .7-.7 .8-.7 .7-.8 .8-.8 .7-.8 .7-.9 .7-.8 .7-.8 .7-.9 .6-.9 .6-1 .5-1.1 .5-1.2 .4-1.1 .5-1.2 .5-1.3 .4-1.2 .5-1.2 .5-1.1 .4-1.1 .5-1 .5-1 .5-1.1 .6-1.1 .5-1.1 .4-1.1 .1-1.1 -.2-1.1 -.4-1.1 -.3-1 -.3-1.1 -.3-1.2 -.2-1.1 -.2-1.1 -.3-1.1 -.4-1.1 -.3-1 -.4-1.1 -.3-1 -.3-1 -.3-1 -.3-1.1 -.4-1.1 -.3-1.1 -.3-1.2 -.4-1.1 -.6-1 -.6-.9 -.7-.9 -.7-.8 -.7-.7 -.7-.8 -.7-.6 -.8-.7 -.8-.8 -.9-.7 -.9-.8 -.8-.8 -.9-.8 -.8-.8 -.7-.9 -.5-1 -.2-1.1 0-1.1 .3-1.3 .3-1.1 .3-1.1 .3-1 .3-1 .3-1 .3-.8 .2-.9 .2-.8 .1-.9 .1-.9 -.1-.9 -.2-1 -.3-1 -.4-1 -.5-1.1 -.6-1.1 -.5-1.1 -.5-1.2 -.4-1.2 -.4-1.2 -.4-1.1 -.4-1.1 -.5-.9 -.4-.9 -.6-.6 -.8-.1 -.8 .2 -1 .6 -.9 .6 -1 .6 -1 .6 -1 .5 -.8 .7 -.5 .8 -.4 .9 -.1 1 -.2 1 -.1 1.1 -.2 1 -.1 1.1 -.2 1.1 -.2 1.1 -.3 1.1 -.4 1.2 -.3 1.1 -.3 1 -.3 1 -.2 1 -.4 .7 -.6 .7 -.7 .4 -.9 .4 -.9 .3 -1 .3 -.9 .3 -1 .2 -.9 0 -.8-.3 -.7-.6 -.6-.9 -.7-.9 -.7-1 -.9-.9 -.9-1 -1-1 -1-.9 -.9-1 -1.1-.8 -.7-1 -.4-1 -.1-1.1 .2-1.1 .2-1.1 .3-1.1 .4-1.1 .4-1 .4-1.1 .5-1 .5-1.1 .6-1 .2-.8 -.2-.6 -.7-.3 -1-.2 -1.1-.1 -1.2-.1 -1.1-.1 -1.3-.1 -1.2-.2 -1.2-.3 -1.3-.4 -1.2-.5 -1.2-.4 -1.2-.3 -1.3-.2 -1.2-.1 -1 .1 -.9 .5 -.8 .7 -.5 1 -.6 1.1 -.6 1.1 -.5 1.2 -.6 1.2 -.6 1.1 -.6 1.1 -.6 .9 -.6 .9 -.6 .9 -.7 .8 -.7 .9 -.8 .9 -.8 .5 -.9 .2 -1-.2 -1.1-.4 -1-.5 -1.1-.3 -1.1-.4 -1.1-.2 -1.1-.3 -1-.4 -1-.3 -1-.3 -1-.1 -1 .2 -.9 .5 -.9 .7 -.9 .7 -.9 .7 -.9 .7 -.9 .6 -.9 .7 -.8 .8 -.9 .8 -.7 .8 -.8 .9 -.8 .8 -.8 .9 -.8 .9 -.8 .8 -.7 .8 -.7 .7 -.7 .6 -.7 .7 -.8 .8 -.8 .8 -.9 .9 -.8 .9 -.8 .9 -.7 .8 -.6 .9 -.7 .9 -.6 1 -.7 1.1 -.7 1.2 -.7 1 -.9 .7 -.9 .4 -1 .2 -1.1 .2 -1.1 .3 -1.2 .3 -1.3 .4 -1.3 .3 -1.2 .3 -1.2 .2 -1.2 .3 -1.2 .3 -1.1 .4 -1 .4 -1 .5 -1 .5 -1 .4 -1 .4 -1 .4 -1 .4 -1 .3 -1.1 .4 -1.2 .2Z M1036.0 376.7l1.4-.5 1.5-.4 1.5-.4 1.6-.2 1.5-.2 1.5 0 1.3 .1 1.2 .1 1.1 .3 1.1 .3 1 .4 1 .4 1 .4 1 .4 1.1 .5 1.1 .4 1.2 .4 1.1 .3 1.1 .3 .9 .3 .9 .3 .9 .2 1 .2 .9 .2 1.1 .2 1 .1 .9 .3 .8 .3 .8 .3 .8 .4 .9 .5 .9 .5 .9 .7 .9 .6 .9 .8 .9 .7 .8 .8 1 .8 1 .7 1.1 .6 1.1 .7 1.1 .5 1 .5 1 .5 .9 .4 .9 .4 1 .5 1.1 .5 1.2 .5 1 .7 .9 .9 .8 1.1 .7 1.3 .7 1.4 .6 1.4 .6 1.4 .6 1.5 .6 1.4 .5 1.2 .4 1 .4 .9 .5 1 .5 .9 .6 1 .7 1 .7 .9 .9 1 .9 .9 1.1 .9 .5 .6 -.1 .3 -.7 0 -1.2-.3 -1.3-.4 -1.4-.3 -1.5-.3 -1.6-.4 -1.4-.4 -1.4-.6 -1.3-.8 -1.2-.8 -1.1-.9 -1.1-.9 -1-.8 -.9-.9 -.8-.8 -.8-1 -.6-.9 -.6-1 -.7-.7 -.7-.2 -.8 .2 -.9 .6 -.9 .5 -.9 .6 -.8 .5 -.9 .6 -.9 .6 -1 .6 -1.2 .8 -1.2 .8 -1.3 .5 -1.2 .1 -1.2-.2 -1.2-.6 -1.2-.6 -1.3-.6 -1.4-.5 -1.4-.5 -1.2-.6 -.8-.9 -.5-1.1 -.3-1.3 -.2-1.2 -.3-1.2 -.3-1 -.3-1.1 -.3-1 -.4-1 -.3-1 -.3-1 -.5-.9 -.7-.7 -.9-.6 -1.2-.4 -1.1-.3 -1.2-.4 -1.2-.3 -1.2-.3 -1.2-.3 -1-.3 -1.1-.4 -.9-.4 -1-.3 -.9-.3 -1-.1 -1-.1 -.9-.4 -.7-.8 -.6-1.1 -.4-1.4 -.5-1.4 -.5-1.3 -.6-1.4 -.7-1.2Z M1100.5 393.8l1.4-.6 1.4-.5 1.3-.6 1.1-.5 1.1-.5 1.1-.5 1-.4 1-.4 1-.3 .6 .1 .1 .4 -.4 .9 -.8 1.4 -1 1 -1.1 .8 -1.2 .5 -1.3 .3 -1.3 .3 -1.2 .2 -1.2 .3 -1.1 .3 -.9 .2 -.7-.1 -.5-.3 -.2-.5Z M1042.9 545.6l1.4 .1 1.4 .2 1.5 0 1.5 .1 1.6 0 1 .2 .4 .4 -.2 .6 -.7 .9 -.7 .8 -.8 .8 -.7 .8 -.7 .7 -.7 .8 -.8 .8 -.7 .8 -.7 .9 -1 .6 -1.1 .4 -1.4 .2 -1.6 0 -1-.4 -.6-.7 -.1-1 .4-1.3 .4-1.3 .5-1.3 .4-1.2 .4-1.3Z M703.8 177.4l.8-.8 .8-.8 .9-.8 .9-.8 .9-.8 1-.7 1.2-.5 1.3-.4 1.4-.4 1.4-.3 1.4-.3 1.4-.3 1.3-.3 1.1 0 .7 .3 .4 .5 .1 .9 .2 .9 .2 1 .2 .9 .2 1.1 -.2 .9 -.7 .8 -1.1 .6 -1.6 .6 -1 .7 -.4 .9 .3 1 .8 1.2 .8 1.2 .7 1.1 .7 1.1 .7 1.1 .8 1.1 .8 1.1 .9 1 1 1 1.1 1 1.2 .9 1.4 .9 1.5 .8 1.1 1 .8 1.1 .3 1.2 0 1.4 .1 1.3 .1 1.3 .1 1.3 .2 1.2 .2 1.3 .2 1.4 .1 1.4 .2 1.5 -.1 1.1 -.5 .8 -.9 .4 -1.2 0 -1.2 .1 -1.4 .2 -1.3 .3 -1.5 .4 -1.3 .1 -1.2-.1 -1.2-.4 -1.1-.7 -.9-.6 -1-.6 -.8-.5 -.8-.5 -.5-.8 -.4-.9 -.2-1.2 0-1.5 -.1-1.3 0-1.3 -.1-1.3 -.1-1.1 -.4-1.1 -.5-1.1 -.8-1.1 -1-1 -1-1 -1-1 -1-1 -1-1 -.8-1 -.6-1 -.4-1.1 -.2-1.1 -.3-1 -.3-1.1 -.5-1 -.5-1 -.4-1 -.4-1 -.4-1.1 -.3-1Z M242.9 171.2l1.1-.3 1-.2 .9-.4 .9-.3 .9-.4 .9-.5 .9-.3 1.1-.4 1.1-.4 1.1-.4 1.1-.5 1.1-.6 1-.6 1.1-.4 1.2-.2 1.1 0 1.2 .3 1.2 .2 1.1 .3 1.2 .3 1.1 .3 .8 .6 .4 .9 .2 1.2 -.1 1.5 -.7 1.1 -1 .7 -1.6 .4 -2-.1 -1.8 0 -1.6-.2 -1.2-.1 -1.1-.2 -1-.3 -1.1-.2 -1-.2 -1.1-.3 -1.1-.2 -1.1-.2 -1.1-.2 -1-.2 -1.1 0 -1 0 -1.1 .2 -1 .2Z M247.9 189.9l.5-1 .5-.9 .5-1 .5-.9 .6-.9 .5-1 .5-.9 .5-.9 .5-.9 .5-.9 .4-.9 .6-.9 .5-.8 .6-.7 .8-.5 .9-.4 1-.3 1.1-.2 1.1-.3 1-.3 1.1-.3 .6 0 .1 .2 -.4 .6 -1 .9 -.9 1 -.9 .9 -.8 .9 -.8 1 -.8 1 -.8 1.1 -.7 1.1 -.7 1.2 -.7 1.2 -.7 1.1 -.6 1 -.7 1 -.8 .7 -.8 .6 -1 .4 -1 .2Z M268.3 174.8l1.1 .2 1.2 .2 1.2 .3 1.2 .2 1.2 .2 1 .4 .7 .6 .5 .8 .2 .9 0 .8 -.3 .8 -.6 .8 -.9 .7 -.9 .7 -.9 .6 -.9 .6 -.9 .5 -.9 .5 -.9 .6 -.7 .6 -.8 .7 -.7 .2 -.6-.2 -.5-.6 -.4-1.1 -.3-1.1 -.2-1.1 0-1.2 0-1.2 .1-1.1 .2-1.1 .2-1 .4-1.1Z M667.5 372.2l1.9 .1 1.3 .5 .9 .8 .4 1.1 -.1 1.4 0 1.5 .1 1.4 0 1.3 .1 1.4 -.4 .9 -.8 .6 -1.4 .2 -1.8-.3 -1.3-.6 -.9-.8 -.4-1.2 .1-1.5 .1-1.5 -.1-1.3 0-1.3 -.2-1.2Z M644.8 495.9l1.7-1 1.4-.5 1.2 0 1 .5 .8 1.1 .1 1.1 -.4 1.1 -.9 1.1 -1.6 1.1 -1.3 .5 -1.3 0 -1-.6 -.9-1.1Z M144.8 161.9l.3 0 .6 .1 .9 .1 1.1 .1 1.1 .1 1.1 0 1.1 0 1-.1 1 0 1-.1 1 0 1 0 .9-.1 .9-.1 .9-.1 .9-.2 1-.1 1.1-.1 1.2-.1 1.3 0 1.3 0 1.2 0 1.1-.1 1-.1 1 0 1.1 .1 1 .1 1 .3 1 .1 1 .1 .9 0 1-.1 .9-.1 1 0 .9 0 1 0 .9-.1 1 0 1-.1 1-.1 1-.2 1 0 1-.1 .9-.1 1-.1 1.2 0 1.1-.1 1.3 0 1.2 0 1.2 0 1.1 .2 1.1 .2 1.1 .2 1.1 .2 1 .2 1 .1 1 .2 .9 .2 1 .2 .9 .3 .9 .2 1 .1 .9 0 1 0 1 0 1 .1 1 .1 1 .2 1 .1 1 0 1.1 0 1-.1 1.1-.1 1.1 0 1.1-.1 1.1 0 1.1 0 1.1 0 1.2 0 1.2-.1 1.1 0 1.1-.1 .9 0 .8-.1 .9 0 1-.1 1-.1 1.1 0 1-.1 1 0 1 0 .9 0 .9 .1 1.1 .1 1.2 .2 1.2 .2 1.2 .2 1.2 .2 1.2 .1 1.1 .1 1.1 .2 1.2 .2 1.2 .3 1.2 .3 1.2 .4 1 .4 1 .4 .9 .4 .9 .5 .9 .5 1 .4 1 .5 1 .5 .9 .5 .9 .5 .8 .5 1 .6 .9 .6 1.1 .6 1.2 .7 .8 .8 .4 1 .1 1.1 -.3 1.3 -.3 1.2 -.2 1.2 -.2 1.1 -.2 1.1 -.2 1.1 -.2 1 -.2 1 -.2 1 -.2 1 -.3 .9 -.2 1 -.4 .9 .1 .5 .4 .2 .9-.2 1.2-.5 1.2-.5 1.1-.5 1.1-.5 .9-.5 1.1-.4 1-.4 1.1-.4 1.1-.3 1.1-.3 1-.3 1.1-.3 1-.2 1-.3 1-.4 1-.4 1.1-.4 1-.5 1-.5 1-.5 1-.5 1-.4 1.1-.3 1.1-.2 1.2-.2 1.2-.1 1.2-.1 1.2 0 1.2-.1 1.2-.1 1.3-.2 1.2-.2 1.3-.3 1.3-.5 1.2-.6 1.3-.9 1.2-1 1.2-.9 1.1-.9 1-.8 1-.7 1-.7 1-.6 1-.7 1-.7 1-.4 .9-.2 .8 .1 .8 .4 .6 .5 .4 .6 .2 .8 0 .9 0 1 0 1 0 1 -.1 1.1 0 .8 0 .6 0 .2 M165.9 81.1l-.2 .2 -.3 .3 -.6 .5 -.8 .6 -.7 .7 -.7 .7 -.7 .6 -.6 .7 -.7 .7 -.7 .7 -.8 .8 -.8 .7 -.8 .7 -.8 .6 -.8 .7 -.8 .7 -.7 .6 -.9 .7 -.8 .6 -.8 .5 -.8 .6 -.6 .6 -.7 .6 -.5 .6 -.6 .6 -.7 .5 -.8 .6 -.9 .5 -.8 .7 -.8 .6 -.7 .8 -.7 .7 -.8 .8 -.8 .8 -.9 .7 -.9 .7 -.9 .8 -.8 .7 -.8 .7 -.6 .8 -.7 .7 -.8 .7 -.8 .7 -.9 .6 -.8 .6 -.8 .7 -.7 .6 -.7 .6 -.7 .6 -.7 .7 -.8 .7 -.8 .8 -.4 .7 .2 .8 .5 .7 1.1 .7 1 .8 .9 .8 1 .8 .8 .8 .7 .8 .5 .9 .3 .9 .1 1 .1 .9 .1 1 0 1 0 1 0 1 0 .9 0 .9 0 .8 .3 1 .7 1.1 1 1.2 1.3 1.2 1 1 .6 .6 .4 .4 M130.4 231.9l.3 0 .5 .2 .8 .2 1 .4 .9 .2 .9 .3 .8 .2 .7 .2 .8 .2 .9 .2 1 .3 1.1 .3 1.1 .3 .9 .3 .9 .4 .8 .2 .9 .4 1 .3 1.2 .4 1.3 .4 1.2 .2 1.2 .1 1.2 0 1.2-.2 1.3-.2 1.3-.1 1.3 0 1.4 0 1.5-.2 1.5-.3 1.4-.5 1.5-.6 1.4-.2 1.1 .2 1 .6 .9 1.1 .8 1 .8 1.1 .8 1 .8 1 .8 1 .7 1.1 .7 1 .6 1.1 .7 .7 .8 .4 .8-.1 .9-.4 .9-.4 .9-.4 .9-.3 .9-.4 .9 .1 .6 .4 .6 .9 .4 1.2 .5 1.2 .4 1.2 .5 1.2 .6 1.1 .6 1 .7 .9 .8 .8 .9 .8 .9 .7 .8 .8 .9 .9 .9 .9 .6 .7 .5 .5 .2 .2 M205.7 309.0l.1-.3 .1-.4 .3-.8 .3-.9 .2-1 .1-1.1 0-1.1 0-1.1 -.1-1.1 .1-1.1 0-1.2 .2-1.1 .4-.9 .8-.6 1.1-.3 1.5 0 1.4-.1 1.5-.1 1.4-.1 1.4-.1 1.2-.4 .9-.7 .7-1 .4-1.3 .3-1.3 .2-1.3 .2-1.4 .2-1.3 .2-1.2 .4-1.2 .4-1 .6-1 .4-.7 .3-.4 .2-.3 M216.6 303.4l.1 .2 .3 .5 .4 .7 .5 .9 .5 .9 .6 1 .6 1 .6 1.1 .6 1.1 .6 1 .5 1 .6 1.1 .6 .6 .8 .2 1-.3 1.1-.7 1-.7 .9-.8 .9-.9 .9-.9 .9-.9 1-.8 1.1-.8 1.2-.7 1.1-.5 .9-.3 .8 0 .6 .2 .5 .1 .4 .1 .1 0 M223.7 314.5l.1 .3 .3 .5 .5 .8 .6 1.1 .6 1.2 .8 1.2 .8 1.3 .9 1.4 1 1 1.1 .6 1.3 .3 1.4-.1 1-.1 .7 0 .4 0 M237.1 334.7l1.4-4.7 M258.2 337.7l-1.7-5.2 M273.6 388.2l.3 .1 .6 .1 .9 .1 1.2 .2 1.2 .1 1.3 .1 1.4 .1 1.4 .1 1-.2 .8-.5 .4-.7 .1-.9 .2-1.1 .3-1.1 .3-1.1 .4-1.3 .3-1.2 .2-1.2 .2-1.2 0-1.2 .3-1.1 .4-1.1 .6-1.1 .8-.9 .8-1 .7-.9 .7-.9 .6-.8 .7-.9 .7-.8 .8-.9 .8-.9 .9-.9 .9-.9 1.1-1 1.1-.9 1.1-1 1-.9 .9-.9 .9-.9 .8-.9 .9-.9 .8-.9 .8-.8 .9-.7 1-.6 1.1-.4 1.2-.3 1.3-.4 1.2-.4 1.4-.5 1.4-.5 1.4-.5 1.4-.5 1.4-.4 1.5-.3 1.3-.1 1.1 .3 .9 .6 .7 .8 .8 .9 .8 .8 .8 .7 .8 .8 .8 .7 .8 .7 .7 .7 .7 .7 1 .6 1.1 .5 1.3 .4 1.5 .3 1.5 .4 1.5 .4 1.5 .4 1.5 .5 1.3 .2 1.2-.2 1.1-.4 1-.8 .9-.8 .8-.7 .7-.7 .6-.6 .7-.6 .7-.7 .8-.7 .8-.7 .6-.5 .4-.3 .2-.2 M273.6 388.2l.1 .4 .2 .6 .2 1 .4 1.4 .2 1.2 .2 1.2 .1 1.2 0 1.1 0 1 0 1.1 .1 1.1 .2 1 .1 1.1 .2 1.1 .1 1.1 .1 1.1 .2 1.2 .1 1.2 .1 1.3 .1 1.3 .4 1.1 .7 1.1 .9 1 1.2 .8 1.2 .9 1.2 .8 1.1 .8 1.1 .9 1.1 .5 1.1 .3 1.1-.1 1.2-.2 1.1-.3 1.1-.4 1.1-.4 1.1-.4 1.1-.3 1.1-.4 1.1-.3 1.1-.3 1-.3 1-.3 .9-.3 .9-.4 .9 0 .8 .2 .8 .6 .7 .8 .8 .8 .8 .8 1 .8 1 .7 .9 .8 1 .7 1 .7 1 .8 .9 .8 .9 .7 1 .8 .9 .8 .8 .8 .8 .9 .8 .9 .8 1 .7 1 .6 .9 .5 1.1 .5 1 .4 1 .5 1.1 .4 1.1 .4 1.1 .4 1 .4 .9 .4 .9 .4 .7 .6 .7 .7 .7 .8 .7 .9 .6 1 .6 1 .6 1 .5 1.1 .6 .9 .7 .6 1 .4 1.1 .2 1.3 .1 1.3 .1 1.3 .1 1.3 .1 1.3 .2 1.2 .3 1.1 .4 .9 .4 1 .5 .9 .5 .9 .5 .9 .5 .9 .5 .9 .5 .9 .6 .9 .6 .9 .6 .9 .6 .9 .7 .9 .6 .9 .6 1 .7 1 .6 1 .7 1.1 .7 1.2 .7 1.1 .8 1.2 .7 1.1 .8 1.4 .8 1.5 .8 1.6 .8 1.8 .5 1.6 .1 1.3 -.2 1.1 -.6 .9 -.7 .8 -.8 .8 -.9 .8 -.9 .8 -.9 .8 -.8 .8 -.7 .8 -.7 .9 -.7 .8 -.7 .9 -.7 .7 -.7 .8 -.4 .8 .1 .7 .5 .7 .9 .7 .9 .7 .7 .8 .8 .9 .6 .9 .7 .9 .7 .8 .8 .9 .7 .9 .9 .8 .8 .8 1 .8 1 .8 .9 .7 .9 .7 .8 .7 .8 .7 .6 .5 .3 .3 .2 .2 M295.1 467.5l0 .3 .1 .6 .1 1 .2 1.2 .2 1.3 .2 1.2 .2 1.3 .3 1.4 .3 1.2 .2 1.3 .1 1.2 .1 1.2 .2 1.1 .1 1.2 .2 1.1 .2 1.2 .2 1.1 0 1 0 1.1 -.2 .9 -.1 1 0 1 -.1 .9 0 .9 -.1 1 0 1 0 1.2 0 1.1 -.1 1.2 0 1.2 0 1.1 0 1.2 .1 1.1 0 1.2 0 1.1 0 1.1 0 1.1 -.1 1 -.1 1 -.2 .9 0 1 0 1 .1 1 .2 1.1 .2 1.1 0 1.2 .1 1.2 -.1 1.2 0 1.3 .1 1.2 .1 1.2 .1 1.2 .1 1.1 0 1.2 0 1.1 -.1 1.1 0 1.1 0 1 .1 1.1 .2 1 .1 1 .1 1.1 .1 1.1 0 1.2 .1 1.2 .3 1.3 .3 1.2 .5 1.3 .5 1.4 .6 1.3 .5 1.4 .6 1.5 .5 1.4 .4 1.3 .4 1.3 .3 1.3 .3 1.2 .4 1.3 .3 1.2 .4 1.1 .3 1.2 .2 1.1 .1 1 .1 1 .1 1.1 .2 1.1 .3 1.1 .4 1.1 .4 1.2 .4 1.1 .4 1.2 .3 1.2 .3 1.2 .4 1.2 .4 1.3 .4 1.2 .4 1.2 .4 1.3 .4 1.2 .4 1.2 .5 1 .5 1 .7 .7 .7 .6 .8 .6 .9 .6 .9 .6 .9 .5 1 .6 .9 .6 1 .6 1 .6 .9 .7 .9 .6 .8 .5 .8 .6 .6 .4 .4 .3 .2 .2 M290.1 447.4l0 .2 0 .5 .1 .8 .1 1.1 .1 1 .2 .9 .2 1 .3 .8 .3 .9 .3 1 .3 .9 .3 1 .3 1 .3 1.1 .3 1 .4 1.1 .3 1.1 .3 1 .2 1 .2 1 .4 .7 .7 .4 .9 .2 1.1-.1 1.1-.1 1.1-.2 1.1-.2 1-.2 1.1-.2 1.2-.2 1.1 0 1.2-.1 1.1 0 1.2-.1 1.1-.1 1.1-.2 1.1 0 1.1 .1 1.1 .1 1.1 .3 .9-.3 .8-.6 .5-1.2 .4-1.6 .3-1.6 .3-1.4 .3-1.3 .2-1.3 .5-1.1 .7-1 1-.8 1.2-.7 1.1-.6 1.1-.6 1-.6 .9-.5 1-.6 .9-.7 1-.9 1.1-1 .7-.7 .6-.5 .2-.2 M288.5 449.9l0-.2 0-.4 .1-.7 0-.8 .1-.9 .1-1 0-1 .1-1 .1-1 .1-1 .2-1 .2-.9 .1-.9 .2-.9 .2-.9 .2-.9 .1-.9 .1-.9 .1-.9 0-1 0-1 .1-1 .1-1 .1-1 .1-1.1 0-1.2 .1-1.1 .1-1.2 -.3-1.2 -.6-1.1 -1-1.1 -1.3-1 -1-.7 -.6-.5 -.3-.3 M247.5 385.7l.2-.2 .4-.2 .6-.4 .8-.6 .9-.6 .9-.7 .9-.8 .9-.8 .9-.8 .9-.8 .8-.8 .9-.7 .8-.6 .9-.7 .9-.6 .8-.6 .9-.5 .7-.6 .7-.7 .7-.6 .6-.2 .6 .2 .6 .6 .5 1 .5 1.1 .5 1 .6 1.1 .6 1 .6 1.1 .7 1 .7 1.1 .8 1.1 .7 1 .7 .9 .6 .8 .5 .8 .4 .6 .3 .4 .1 .2 M264.0 372.0l-.3-.4 -.7-.6 -1-1 -1.3-1.3 -1.4-1 -1.5-.9 -1.7-.6 -1.7-.5 -1.3-.3 -.9-.2 -.4-.1 M286.4 375.4l0-.3 .1-.6 0-1 .1-1.2 0-1.2 0-1.1 -.1-1 -.1-1 -.2-1 -.1-.9 -.2-1 -.2-.9 0-.9 0-1 .2-.9 .4-.9 .3-.9 .4-.9 .5-1 .5-.9 .4-1 .4-1 .4-1 .3-1.1 .5-1 .5-.9 .5-.9 .7-.9 .7-.9 .6-.9 .6-1 .6-1 .3-.8 -.1-.5 -.5-.4 -.8-.2 -.9-.2 -1-.2 -1.1-.3 -1.2-.4 -1.1-.3 -1.2-.3 -1-.2 -1-.2 -1-.3 -1-.3 -.9-.2 -.9-.4 -.9-.2 -.8-.3 -.7-.2 -.7-.2 -.4-.4 -.3-.7 .1-.9 .2-1.2 .3-1.2 .2-1.1 .2-1.1 .2-1 .2-1.1 .1-1.3 .1-1.4 -.1-1.5 0-1.1 0-.8 0-.3 M322.5 335.5l-.1 .3 -.3 .5 -.4 .7 -.6 .9 -.5 1.1 -.6 1 -.5 1.2 -.5 1.2 -.5 1.1 -.6 1 -.5 .9 -.5 .8 -.1 .7 .5 .7 1 .6 1.5 .6 1.1 .4 .8 .3 .4 .2 M333.4 345.4l0 .3 -.1 .5 0 .9 -.1 1.1 0 1.2 0 1.1 0 1 .1 1.1 0 1.1 0 1 0 1 -.1 1 0 .8 -.1 .5 0 .2 M344.5 346.7l0 .3 0 .5 0 .9 -.1 1.1 0 1.3 0 1.3 .1 1.3 .1 1.4 0 1.4 0 1.3 -.1 1.2 -.1 1.2 -.1 .9 0 .6 0 .3 M317.2 466.2l.2 .2 .4 .4 .6 .6 .8 .9 .8 .7 .8 .8 .8 .6 .9 .6 .8 .6 .8 .5 .9 .5 .8 .4 .8 .4 1 .3 1 .3 1 .3 1 .3 1 .4 .9 .5 .8 .5 .8 .5 .8 .6 .7 .6 .7 .6 .8 .6 .9 .4 .9 .4 1.1 .3 1.1 .2 1.3 .2 1.4 0 1.6 0 1.1 0 .8 0 .4-.1 M339.4 516.3l0-.3 -.1-.7 0-1.1 -.1-1.5 0-1.4 0-1.3 .1-1.2 0-1.2 .1-1.2 0-1.2 0-1.3 0-1.4 0-1 0-.7 0-.3 M538.5 221.2l0 .3 .1 .6 .2 1 .1 1.3 .2 1.3 .2 1.2 .3 1.3 .2 1.2 .1 1.1 0 1.2 -.1 1 -.2 1 -.3 .9 -.5 .7 -.8 .5 -.8 .3 -.9 .4 -1 .3 -.9 .3 -1 .2 -.9 .4 -.9 .5 -1 .5 -.9 .6 -.9 .6 -1.1 .6 -1 .5 -1.2 .4 -1.1 .5 -1 .5 -1 .5 -.9 .6 -.9 .5 -.8 .5 -.8 .5 -.7 .5 -.7 .6 -.7 .6 -.7 .7 -.7 .8 -.5 .8 -.4 .8 -.2 .7 -.1 .8 -.1 .6 0 .3 0 .2 M498.7 252.4l.3 .1 .8 .1 1.1 .1 1.4 .2 1.4 .1 1.3 0 1.3 0 1.1 0 1.2-.1 1.2-.1 1.2 0 1.1-.1 .9 .2 .6 .5 .2 .7 -.1 .9 -.1 .9 0 1.1 .1 1 .1 1.1 -.3 .8 -.7 .6 -1.2 .2 -1.6-.1 -1.6-.1 -1.4 0 -1.4 0 -1.3 0 -1 .3 -.6 .8 -.4 1 0 1.4 0 1.4 0 1.4 0 1.4 0 1.3 -.3 1.1 -.5 .8 -.9 .6 -1.1 .3 -1.2 .4 -1 .3 -1.1 .4 -1 .4 -1 .4 -.9 .4 -.8 .4 -.9 .5 -.8 .4 -.9 .5 -.9 .5 -1 .5 -.9 .5 -.9 .5 -.8 .4 -.8 .4 -.6 .3 -.4 .2 -.2 .1 M501.8 271.3l.2-.1 .4-.2 .6-.4 .8-.4 .9-.4 1.1-.3 1.1-.4 1.2-.3 1.2-.3 1.2-.2 1.2-.2 1.3-.2 1.2-.3 1.2-.2 1.1-.3 1.2-.3 1.1-.4 1-.3 1-.3 1-.4 .7 0 .6 .4 .3 .7 .1 1.1 .1 1.1 .1 1.2 0 1.1 0 1.2 .1 1.1 .1 1.1 .1 1.2 .2 1.1 .1 1.1 .1 1.1 .1 1.2 .1 1.1 .1 1.1 .1 1.1 .3 1 .2 1 .2 1 .2 1.2 .1 1.3 0 1.3 0 1.3 .1 1.1 0 1.1 .1 1 .1 1.1 0 1.1 0 1.1 .1 1.3 -.3 .9 -.5 .6 -.8 .3 -1.1 0 -1.1 .1 -1.1 .2 -1.1 .3 -1.2 .4 -1.1 .3 -1.2 .2 -1.2 .2 -1.3 .2 -1.3 .1 -1.3 .2 -1.3 .2 -1.4 .3 -1.3 .2 -1.3 .2 -1.3 .2 -1.3 .1 -1 .3 -.8 .5 -.6 .6 -.3 .9 -.4 .5 -.6 .2 -.8 0 -1-.4 -.9-.4 -.8-.4 -.8-.4 -.8-.5 -.8-.5 -1-.6 -1.1-.6 -1.3-.6 -1.2-.6 -1.1-.4 -1.1-.3 -1-.2 -.8-.2 -.5-.1 -.3 0 M523.7 265.3l.3 .2 .4 .3 .7 .5 .9 .7 1 .6 1 .6 1 .4 1 .4 1 .5 1 .5 .9 .6 1 .6 1 .6 1 .7 1.1 .7 1.1 .7 1 .7 1.1 .7 1.1 .7 1 .7 .9 .7 .9 .8 .8 .7 .7 .7 .7 .6 .8 .6 .7 .5 .8 .5 .9 .5 .8 .5 .9 .5 .9 .4 .9 .5 .9 .5 .9 .5 .9 .6 .9 .5 1 .6 1 .6 1 .5 .9 .3 .9 0 .8-.3 .8-.6 .8-.7 .9-.6 1-.7 1-.7 1.1-.6 1-.5 .9-.5 .9-.5 1-.4 .9-.4 .8-.3 .9-.4 .9-.4 .9-.5 .8-.5 .8-.5 .8-.6 .8-.6 .7-.6 .6-.6 .8-.6 .8-.7 .8-.7 .9-.8 .9-.7 .9-.7 .8-.6 .9-.7 1-.5 1.2-.2 1.3-.1 1.4 .2 1.5 .2 1.5 .3 1.4 .3 1.4 .4 1.1 .3 .7 .3 .3 .1 M560.9 288.8l0 .4 -.1 .7 -.1 1 -.1 1.4 0 1.5 0 1.5 .1 1.6 .2 1.6 -.1 1.4 -.6 1.2 -.8 1 -1.2 .8 -1.2 .7 -1.1 .7 -1 .6 -1 .5 -1.1 .5 -1.1 .5 -1.2 .4 -1.3 .3 -.9 .3 -.6 .2 -.4 .1 M575.9 240.4l0 .3 .1 .5 .2 .8 .2 1.1 .3 1.1 .3 1.2 .4 1.2 .4 1.2 .4 1.3 .3 1.3 .2 1.5 .2 1.5 .2 1.4 .3 1.4 .4 1.2 .3 1.1 .5 1.1 .6 1 .7 1 .9 .9 .8 .9 .9 .8 .9 .7 1 .6 .8 .8 .7 .8 .4 .9 .4 .9 .2 .8 .2 .5 .1 .2 M634.5 235.7l-.1 .2 0 .5 -.1 .6 -.2 .8 -.1 .9 0 .9 .1 1 .1 1 .1 .9 .1 1.1 0 1 0 1 0 1.1 0 1 0 1 .1 1.1 .1 1 .1 1.1 .1 1.1 .2 1.1 .2 1.1 .2 1.1 .1 1.1 .2 1.1 .1 1 .1 1.1 .2 1.1 .1 1 .1 1.1 0 1 0 1 0 1.1 .1 1 .1 1.1 .3 1 .3 1 .3 1 .2 1.1 .2 1 .1 1.1 .4 .9 .5 .6 .7 .3 1 .1 .9 .1 .8 .1 .9 .1 .8 0 .8 .1 1 0 1 0 1 0 1.1 0 1.2-.1 1.1 0 1.2-.1 1.1-.1 1.1-.1 1.2-.1 1.1 0 1.1 0 1.1 0 1 0 1.1 .1 1.1 0 1.1 .1 1.1 .1 1.2 .1 1.1 0 1.2 0 1.2 0 1.3 0 1.2-.1 1.3-.1 1.2-.1 1.3-.1 1.1-.1 1 0 1 0 .8 0 .6 0 .4-.1 .2 0 M633.5 287.6l-.3-.1 -.4-.1 -.7-.1 -.9-.2 -.9-.4 -.9-.4 -.8-.5 -.9-.7 -.8-.5 -.8-.5 -.8-.4 -.6-.2 -.8-.3 -.8-.4 -.9-.4 -1-.5 -.9-.5 -1.1-.5 -1-.6 -1.1-.7 -1.1-.6 -1.1-.7 -1.1-.7 -1-.7 -1-.6 -1-.7 -.9-.6 -.9-.6 -.9-.6 -.9-.4 -.9-.4 -.9-.3 -.9-.4 -.9-.4 -1-.4 -1-.4 -.8-.3 -.5-.3 -.2-.1 M636.7 276.8l-.1 .4 -.2 .8 -.4 1.1 -.4 1.4 -.5 1.5 -.4 1.4 -.5 1.4 -.4 1.4 -.4 1.2 -.3 1.1 -.3 1 -.1 .9 -.3 .9 -.3 .8 -.3 .9 -.3 .8 -.4 .8 -.3 .9 -.4 .9 -.3 .9 -.3 .9 -.3 1 -.3 1.1 -.3 1.1 -.4 1.1 -.3 1.1 -.3 1.1 -.3 1.1 -.3 1.1 -.2 1.1 -.2 1 -.1 1 0 1 .1 1 .1 1 .3 .9 .3 1 .4 1 .3 1 .4 1.1 .3 1.1 .3 1.1 .3 1.1 .3 1.2 .2 1.1 .4 1.1 .3 1 .4 1 .3 1.1 .4 1 .2 1.1 .3 1 .2 .8 .1 .6 .1 .2 M602.0 272.6l-.1 .2 0 .4 0 .7 0 .9 0 .9 .1 1 .1 1 .1 1.1 .1 1.1 -.1 1.2 -.1 1.2 -.2 1.2 -.1 1.2 -.2 1.2 -.1 1.2 -.2 1.2 -.1 1.2 -.2 1.2 -.3 1.1 -.2 1 -.3 1.1 -.2 .9 -.1 1 -.2 .8 -.2 .8 -.2 .8 -.2 .8 -.3 .7 -.2 .8 -.3 .8 -.2 .9 -.1 1 -.2 .9 -.2 1 -.1 1 -.2 1 -.2 1.1 -.3 1.1 -.3 1.1 -.4 1.1 -.4 .9 -.2 .6 -.1 .3 M555.5 344.1l.1-.3 0-.8 0-1 .1-1.4 .1-1.4 .1-1.2 .1-1.1 .2-1 .2-1 .2-1.1 .2-1 .2-1.1 .3-1 .3-1 .2-1.1 .3-1 .3-1.1 .3-1.2 .2-1.2 .2-1.4 .3-1.4 .3-1.7 .3-1.8 .4-1.9 .6-1.5 .8-.9 1-.4 1.1 0 1.1 .2 1.1 .3 1.1 .4 1.1 .4 1.1 .4 1 .3 1.1 .3 1.1 .1 1.1 .3 1.1 .2 1.2 .4 1.1 .3 1.2 .2 1.2 0 1.1-.3 1.1-.4 1.1-.4 1-.4 1-.3 1-.2 .9-.3 1-.4 1-.3 1-.5 1-.4 1.1-.3 1-.2 1.1-.2 1.1 .3 1 .8 1.1 1.4 1 1.8 .6 1.7 .3 1.5 -.2 1.4 -.5 1.2 -.6 1.3 -.5 1.2 -.6 1.2 -.7 1.1 -.6 1.1 -.5 1 -.6 .9 -.5 .7 -.5 .9 -.4 .8 -.5 1 -.4 .9 -.5 1 -.4 .8 -.4 .8 -.5 .8 -.5 .6 -.5 .7 -.6 .5 -.6 .6 -.6 .5 -.5 .6 -.6 .7 -.5 .7 -.5 .7 -.5 .7 -.6 .8 -.6 .9 -.7 .8 -.8 .9 -.8 .8 -.9 .9 -.6 .6 -.5 .4 -.2 .2 M503.1 304.7l.2 .3 .4 .5 .6 .9 .8 1.1 .9 1.1 .8 1.1 .8 1.1 .9 1.1 .8 1.2 .8 1.1 .7 1.2 .7 1.2 .7 1 .8 .9 .8 .8 .9 .6 1 .6 1 .6 1.1 .6 1.1 .5 1.1 .6 1.1 .5 1.1 .6 1 .5 1.2 .5 1.2 .4 1.4 .4 1.5 .3 1.5 .3 1.3 .3 1.3 .3 1.3 .3 1.3 .2 1.2-.1 1.3-.2 1.2-.4 1.2-.5 1.2-.5 1.2-.5 1.2-.5 .9-.7 .7-.8 .3-.9 .1-1.1 .2-1 .2-1 .3-1 .3-1 .2-1 .2-1 0-1 0-1.1 0-1 0-1 .1-1 0-.9 .1-.8 0-.5 0-.2 M513.9 339.0l.1 .3 .3 .6 .3 .9 .5 1.2 .3 1.2 .3 1.1 .1 1.1 0 1 0 1 0 1 0 1 -.1 1 0 .7 0 .5 0 .2 M534.3 349.7l.1-.3 .1-.5 .1-.8 .2-1 .2-1.1 .2-1.1 .1-1.1 .1-1.1 0-1.2 -.1-1 -.1-1.1 -.2-1 0-1.1 0-1.1 .1-1.1 .3-1.2 .1-1.1 .1-1.1 0-1 0-1 -.1-.7 0-.5 0-.2 M549.2 344.5l.1-.3 0-.6 .2-1 .1-1.2 .2-1.2 .1-1.1 0-1.1 .1-.9 0-1 0-1 -.1-1 0-1.1 0-1 -.1-.9 -.1-.8 -.1-.8 -.2-.9 -.1-.9 -.1-1 -.2-1.1 -.1-.8 0-.6 -.1-.2 M554.1 344.1l0-.2 0-.5 0-.8 0-1 .1-1 0-1.1 0-1.2 .1-1.2 0-1.2 0-1.2 -.1-1.1 0-1.1 0-1.1 0-1.1 0-1.1 0-1.1 0-1.1 -.1-1 0-1 -.1-.9 0-1 0-1 0-1 0-1.1 0-.8 0-.5 0-.3 M495.5 317.5l.2 0 .5-.1 .7-.2 .9-.2 .9-.2 1.1 0 1.1 0 1.2 .1 1.2 .1 1.1 .1 1 .2 1.1 .2 1 .1 1 .1 1.1 0 1-.1 .8 0 .5 0 .3-.1 M502.7 341.1l.1-.3 .2-.7 .3-1.1 .4-1.4 .4-1.4 .5-1.5 .6-1.5 .6-1.4 .1-1.1 -.3-.7 -.8-.4 -1.2 .1 -1.2 .1 -1.2 .1 -1.2 .1 -1.1 .2 -.8 .1 -.6 .1 -.3 0 M599.2 319.7l.1 .3 .1 .6 .2 .9 .2 1.1 .3 1.2 .2 1.2 .3 1.2 .2 1.2 .2 1.2 .2 1.3 .2 1.2 .2 1.3 .2 1.3 .3 1.3 .4 1.3 .4 1.4 .4 1.2 .2 1.2 .2 1.2 .1 1.1 .1 1.2 .1 1.1 .1 1.1 .1 1.1 .1 1 0 1 0 1 -.1 .9 -.1 1 0 1.1 .1 1.2 .1 1.2 .1 1.3 .2 1.2 .1 1.2 .1 1.2 .4 .7 .7 .3 1-.1 1.3-.5 1.2-.6 1.3-.7 1.1-.7 1.1-.7 1.1-.6 1-.5 1-.5 .9-.3 .9-.4 1-.4 1-.4 1-.5 1-.4 1.1-.5 1.1-.5 1.1-.5 1.1-.4 1.2-.4 1.1-.3 1.2-.3 1.1-.3 1.1-.3 1-.2 1-.3 1-.1 1-.1 1 .1 1 .1 1 .1 .9 .1 1 .1 1 .1 .9 .1 1 .1 .9 .1 1 0 1 .1 1.1 .2 1.1 .2 1.1 .2 1.1 .3 1.1 .3 1 .4 .9 .3 .9 .5 1 .4 .9 .5 .9 .6 .6 .8 .4 1 .1 1.2 -.3 1.4 -.1 1.4 0 1.2 0 1.2 .2 1.1 .2 1.1 .3 1.1 .4 1.1 .5 1 .4 1.2 .5 1.1 .5 1.3 .4 1.3 .3 1.2 .1 1.1 0 1.1 -.2 1 -.3 1.1 -.4 1 -.5 1 -.6 1 -.6 .9 -.5 .9 -.4 .8 -.4 .7 -.4 .8 -.5 .9 -.4 .9 -.5 1.1 -.3 1 -.1 .9 .1 1 .3 .9 .3 1 .2 1.1 .2 1.1 .2 1.2 .2 1.1 .2 1.1 .2 1.1 .3 1 .3 1 .2 1 .1 1 .2 1.1 -.5 .8 -.9 .6 -1.4 .5 -2 .2 -1.6 .4 -1.3 .6 -.8 .9 -.5 1.1 -.3 1.2 -.3 1.2 -.2 1.3 -.1 1.4 -.1 1.3 -.2 1.4 -.3 1.3 -.3 1.3 -.4 .8 -.6 .5 -.7 .1 -.9-.4 -.9-.4 -1-.4 -1.1-.5 -1.1-.6 -1.1-.5 -1.1-.4 -1.1-.3 -1.1-.2 -1-.3 -1.1-.5 -1-.7 -1-.8 -1-.8 -1-.7 -1-.7 -1-.7 -.9-.8 -.8-1.1 -.7-1.3 -.6-1.5 -.5-1.4 -.6-1.4 -.5-1.3 -.5-1.2 -.7-.8 -.8-.4 -1-.1 -1.1 .4 -1.2 .4 -1.1 .4 -1.1 .4 -1.1 .4 -1.1 .4 -1.1 .4 -1.2 .4 -1.1 .4 -1.1 0 -.9-.4 -.8-.8 -.7-1.1 -.7-1.2 -.6-1.1 -.7-1 -.6-1 -.7-.8 -.8-.5 -1-.2 -1 0 -1.1 0 -1 .1 -1.1 0 -1.1 0 -1.1 0 -1.1-.1 -1.3-.1 -1.2-.2 -1-.1 -.6-.1 -.3-.1 M581.3 361.7l.4 0 .8 0 1.1 .1 1.6 .1 1.5 0 1.4 .1 1.3 0 1.2 .1 1.2 0 1.2 0 1.3 0 1.2 0 1.1-.1 1.1-.1 1.1-.1 1-.1 .9-.1 1 0 1 0 1 0 .7 0 .5 .1 .2 0 M587.6 361.7l0 .3 .1 .6 .1 .9 .1 1.2 .1 1.2 .2 1.1 .1 1.1 .1 1.2 0 1 .1 1.1 .1 1 0 1 .3 .9 .6 1 .8 1 1.1 .9 1.1 .9 1.2 .8 1.2 .7 1.2 .7 1.1 .7 .9 .8 .8 .9 .7 1 .7 1 .7 .9 .7 .9 .8 .8 .7 .9 .6 .9 .6 .9 .6 1 .4 .8 .3 .5 .1 .2 M632.8 332.5l.2 .2 .5 .3 .7 .5 1 .7 .9 .7 .8 .9 .7 .9 .6 1 .5 1 .4 .9 .4 .9 .3 .9 .4 1 .4 .9 .5 1 .6 1 .7 1 .7 .8 .8 .8 .9 .7 .6 .6 .4 .3 .2 .2 M647.5 349.7l.3 .1 .5 .1 .8 .3 1 .3 1.1 .3 1.1 .4 1.1 .4 1.1 .4 1.2 .4 1.3 .5 1.2 .4 1.3 .5 1.3 .5 1.2 .4 1.1 .5 1.1 .5 1 .3 1 0 1-.3 .9-.5 .9-.4 .9-.5 .9-.4 .9-.4 1-.5 1.3-.4 1.5-.5 1.6-.5 1.3-.6 1-.8 .5-1 .3-1.1 .1-1.1 .2-1.2 .1-1.1 .1-1 .1-1.1 .1-1.1 .1-1.1 .2-1.1 -.1-1 -.3-1 -.4-.9 -.8-.9 -.7-1 -.7-1 -.7-1 -.6-1.1 -.7-1.1 -.7-1.1 -.8-1.1 -.7-1.1 -.7-1 -.7-1.1 -.7-1 -.7-1 -.7-1 -.7-1 -.6-.9 -.6-1 -.2-.9 .2-.8 .7-.7 1-.6 1.1-.7 1.1-.6 1-.7 1-.7 1.1-.6 1-.6 .9-.6 1-.5 .9-.5 .9-.4 .9-.4 .9-.3 1-.3 .9-.4 .9-.4 1-.4 .9-.5 1-.6 1-.5 .9-.7 .8-.4 .5-.3 .2-.2 M632.8 332.5l.3 0 .6-.2 .9-.2 1.2-.3 1.1-.2 1-.2 .9-.1 .8-.1 .8 0 .9-.1 .8-.1 1-.1 .9-.1 .9-.1 1-.2 .9-.2 1-.3 1.1-.2 1.1-.2 1.2-.2 1.2-.2 1.2-.3 1.1-.2 1.2-.2 1-.4 .9-.5 .8-.7 .7-.8 .7-.9 .8-.9 .8-.9 .8-.9 .8-.9 .9-.9 1-.9 1-.9 .8-.7 .5-.4 .3-.3 M700.4 321.8l.2 .3 .3 .5 .5 .7 .6 1 .7 .9 .6 1 .6 .9 .7 1 .7 .9 .7 1 .8 1 .8 1 1 .8 1 .5 1.2 .3 1.2 .1 1.3 .1 1.3 .2 1.2 .2 1.3 .3 1.3 .3 1.3 .3 1.2 .3 1.3 .3 .7 .4 .3 .6 -.2 .7 -.7 .9 -.7 .8 -.7 .9 -.7 .8 -.8 .9 -.8 .8 -.9 .9 -.9 .8 -.9 .8 -.8 .8 -.7 .8 -.6 .8 -.5 .8 -.6 .7 -.7 .7 -.8 .6 -.8 .6 -.9 .5 -.9 .6 -1 .5 -.9 .5 -1 .5 -1.1 .4 -1.2 .5 -1.2 .4 -1 .5 -.8 .7 -.5 .7 -.3 .9 -.2 .9 -.1 .9 0 .9 0 1 0 1 0 .9 0 1 0 .9 0 1 0 1 0 .9 -.1 1 0 1 -.1 .9 -.1 .9 -.1 .9 -.1 1 -.1 .9 -.1 1.1 -.1 1.1 -.1 .8 -.1 .6 0 .3 M672.1 351.8l.2 .4 .3 .7 .4 1.1 .5 1.4 .6 1.5 .6 1.4 .5 1.4 .5 1.3 .4 1.3 .1 1.3 0 1.1 -.3 1.1 -.3 1.1 -.3 1.2 -.4 1.1 -.3 1.2 -.4 1.1 -.4 1 -.3 .9 -.4 .8 -.1 .8 .2 .8 .6 .7 .8 .6 .9 .7 .8 .6 .8 .6 .8 .7 .7 .6 .7 .8 .8 .9 .6 .9 .8 .8 .7 .7 .8 .7 .8 .5 .7 .5 .8 .5 .8 .6 .8 .5 .8 .5 .9 .6 .9 .6 .9 .5 .7 .5 .5 .3 .3 .1 M695.7 416.1l-.2 0 -.4 .1 -.6 .1 -.9 .2 -.9 .1 -1.1 .1 -1.2 .1 -1.3 .1 -1.2 .2 -1.2 .2 -1.1 .2 -1.1 .4 -1 .2 -1 .3 -1.1 .2 -.9 .1 -1 .1 -.8 .2 -.8 .1 -.8 .1 -.6 .4 -.5 .5 -.3 .8 -.3 1 -.2 1 -.3 1.1 -.2 1.2 -.2 1.2 -.4 .6 -.4 0 -.6-.6 -.6-1.2 -.6-1.2 -.7-1.2 -.6-1.2 -.7-1.3 -.6-1.3 -.5-1.2 -.5-1.3 -.5-1.2 -.6-1.2 -.7-1 -.9-.9 -1-.8 -1-.9 -1.1-.8 -1-1 -1.1-1 -.8-.7 -.5-.5 -.3-.3 M655.4 390.4l0 .3 .1 .6 0 .8 .2 1.2 .2 1.1 .3 1.2 .4 1 .4 1.1 .4 1 .4 1.1 .2 1 .3 1 .2 1 .4 1 .5 1 .5 1.1 .4 .8 .2 .5 .2 .3 M673.6 412.7l-.1 .2 -.2 .6 -.2 .8 -.3 1 -.2 1.1 0 1.1 .2 1 .3 1.1 .3 1.1 .2 1 .3 1.1 .2 1 .3 1 .2 1.1 .2 1 .2 1 .2 1 .2 .9 .1 1 .2 1 .1 .7 .1 .5 0 .2 M588.9 444.8l.3 0 .5-.1 .9 0 1.1-.1 1 0 1.1 .1 1 .1 1 .2 1 .2 1.1 .1 1 .2 1.1 .1 1.1 .1 1.1 .1 1 0 1.1 0 1.1 .1 1 .1 1 .2 .9 .2 1 .1 1.1 .1 1 .1 1.1 0 1.1 0 1.1 0 1 0 1 0 1 0 .9-.1 1 0 1-.1 1.1 0 1 0 1.2 0 1.2 .1 1.1 .1 1.2 .1 1.1 .2 1.1 .2 1.3 .1 1.3 0 1.4-.1 1.5-.1 1.2-.1 .7 0 .4-.1 M619.0 448.2l-.1 .3 -.1 .6 -.1 .8 -.2 1.2 -.1 1.1 0 1.2 .1 1.1 .1 1.1 .1 1 0 1 0 1 -.1 .9 0 .9 0 1 0 .9 0 1.1 0 1 .1 1 0 1 .1 1 0 1.1 -.1 1.1 -.2 1.2 -.3 1.3 -.1 1.2 -.1 1.1 0 1.1 .1 1 .1 1.1 .1 1.1 0 1.1 -.1 1 .1 1.1 0 .9 .2 .9 .1 .8 .1 1 -.1 1.3 -.2 1.6 -.3 1.8 -.5 1.4 -.8 .9 -.9 .4 -1.2 0 -1.2 0 -1.1 0 -1.2 0 -1.1 .1 -1.1 .1 -1 .1 -1 .1 -.9 .1 -.6 .1 -.5 .1 -.2 0 M626.9 426.8l0 .3 0 .5 0 .9 0 1.1 0 1.2 0 1.1 0 1.1 0 1.1 0 1 .1 1 0 .9 .1 .8 .2 .8 .5 .8 .7 .7 .9 .7 .8 .6 .9 .8 .8 .7 .8 .7 .8 .8 .8 .6 .7 .7 .8 .6 .9 .3 .9 0 1-.2 1-.6 1.1-.5 1-.6 1.1-.6 1-.6 1-.6 .9-.5 .9-.4 .9-.4 .9-.4 1-.4 .9-.5 1-.4 1.1-.5 1-.5 1-.4 1-.5 1.1-.5 1.2-.7 1.2-.8 1.3-.8 1.4-.9 1.3-.7 1.3-.8 1.3-.7 1-.5 .6-.3 .4-.2 M643.9 467.5l.3 0 .6 0 .8 0 1.1 0 1.3 0 1.2-.1 1.4 0 1.5-.1 1.4-.1 1.4-.1 1.4-.1 1.3-.1 1-.2 .7 0 .3-.1 M618.1 477.3l.3 .1 .5 .1 .9 .1 1.1 .2 1.1 .2 1.1 .2 1.1 .1 1 .2 1.1 .2 1 .1 1 .1 .9 0 1 .1 1 0 1 0 1 .1 .9 0 1 .1 1 .1 1 .2 .8-.2 .7-.4 .5-.7 .4-.9 .4-1 .3-1.1 .3-1 .2-1 .4-1.1 .4-1 .6-1.1 .8-1 .5-.7 .3-.6 .2-.2 M659.6 466.6l.2-.2 .2-.6 .5-.9 .5-1.1 .5-1.1 .5-1.1 .4-1.1 .4-1 .5-1 .4-1.1 .5-1.2 .5-1.2 .4-1.1 .5-1.1 .5-1.1 .4-1 .2-1 -.2-1 -.5-1 -.9-.9 -.8-.9 -.7-1 -.8-.9 -.7-1 -.7-.9 -.7-1 -.8-1 -.7-1.1 -.6-.7 -.4-.5 -.2-.3 M661.0 485.9l0-.3 -.1-.6 -.1-.9 -.1-1.2 -.1-1.2 -.2-1.3 -.1-1.2 -.1-1.3 -.1-1.3 -.1-1.2 0-1.3 -.1-1.2 0-1.2 0-1.1 -.1-1.2 -.1-1.1 0-.8 0-.6 -.1-.3 M590.9 396.8l.2 0 .4-.1 .6-.1 .9-.1 .9-.1 1.1-.1 1.2 0 1.3 .1 1.4 0 1.3 0 1.4 0 1.4 0 1 0 .7 0 .3 0 M634.5 418.2l0 .3 .1 .5 .2 .7 .2 1 .1 1.1 0 1.1 -.1 1.1 -.2 1.2 -.6 .9 -1.1 .6 -1.5 .2 -1.9 0 -1.4-.1 -.9 0 -.5 0 M539.4 185.4l.3 .1 .6 .1 .8 .3 1.1 .3 1.1 .3 1 .2 1.1 .3 1 .2 1 .2 1.1 .1 1 .2 1.1 .2 1.1 .2 1 .2 1.1 .4 1 .4 .8 .2 .5 .2 .3 .1 M515.6 191.3l.3 .1 .6 .2 .9 .2 1.2 .3 1.2 .3 1.2 .3 1.2 .3 1.2 .2 .8 .5 .3 .8 -.1 1 -.5 1.3 -.4 1.3 -.5 1.3 -.3 1.2 -.4 1.3 -.4 1.4 -.4 1.7 -.5 1.8 -.5 2 -.4 1.5 -.2 1 -.2 .5 M553.5 153.2l.3 .3 .7 .7 1 1 1.3 1.4 1.2 1 1.2 .8 1.1 .6 1.1 .3 1.1 .3 1 .3 1.1 .4 1.1 .4 1.1 .3 1.2 .3 1.1 .3 1.2 .2 .7 .6 .4 .9 0 1.2 -.3 1.5 -.6 1.5 -.7 1.5 -.9 1.5 -1.1 1.5 -.7 1.5 -.2 1.3 .3 1.3 .7 1.2 .6 1.1 .6 1.2 .5 1.2 .5 1.2 .3 .8 .2 .6 .1 .3 M564.7 150.3l2.9-6.1 M572.3 137.6l4.4 .9 M590.1 141.7l0 .4 .1 .7 .2 1 .1 1.4 .2 1.4 .2 1.3 .3 1.2 .2 1.2 .3 1.1 .2 .9 .2 .8 .2 .7 -.1 .5 -.4 .4 -.6 .4 -1 .3 -1 .3 -1.1 .3 -1 .4 -1.1 .3 -.6 .5 0 .6 .4 .7 .9 .8 .8 .7 .8 .7 .7 .7 .6 .7 .4 .8 0 1 -.3 1.2 -.6 1.3 -.8 .9 -1 .6 -1.1 .3 -1.4-.2 -1.4 0 -1.3-.1 -1.3 0 -1.2 0 -1.3 0 -1.4 0 -1.4-.1 -1.5-.1 -1.5 0 -1.6 0 -1.6 .1 -1.6 .2 -1.2 .1 -.9 0 -.4 .1 M565.4 173.6l.3 0 .5 0 .9 .1 1.1 0 1.2 .1 1.3 0 1.3-.1 1.4-.1 1.3 0 1.4-.1 1.2 0 1.3-.1 1.3-.1 1.4-.1 1.5-.1 1.6-.1 1.5-.1 1.4 0 1.4 0 1.3 .1 1.2 0 1.1 0 1 0 1-.1 1 0 .9 0 1 0 .9 .1 .8-.5 .6-.9 .4-1.4 .3-1.8 .1-1.6 -.3-1.3 -.5-1 -.9-.6 -.8-.7 -.8-.6 -.8-.6 -.9-.6 -.8-.3 -.9 0 -.8 .3 -.9 .5 -.7 .4 -.5 .3 -.2 .1 M592.7 153.6l.3 .1 .6 .3 .9 .3 1.1 .4 1.3 .5 1.2 .6 1.4 .7 1.4 .8 1.4 .7 1.3 .7 1.3 .5 1.2 .5 1.1 .5 1.1 .4 1.1 .3 .9 .2 .9 .2 .9 .1 .8 .1 .7 .1 .8 0 .9 0 .8 0 1 0 .9-.5 .9-.8 .9-1.3 .9-1.7 .5-1.8 .2-1.8 -.2-1.9 -.6-1.9 -.4-1.8 -.4-1.8 -.3-1.7 -.3-1.6 -.4-1.3 -.7-.9 -.9-.5 -1.2-.2 -1.2-.1 -1.2 0 -1.2 0 -1.3 .1 -1.2 .1 -1.2-.1 -1.1 0 -1.1-.2 -.8-.1 -.5-.1 -.3 0 M601.0 163.2l6.2-3.4 M601.2 166.1l.4-.1 .7-.2 1-.3 1.3-.5 1.3-.3 1.1-.2 1.1-.1 1 0 .9 0 .9 0 1 .1 .8 .1 1 0 1.1 .1 1.2 0 1.2 .1 1 0 .6 0 .3 0 M615.1 173.6l.2-.2 .3-.4 .5-.6 .7-.8 .6-.8 .7-.8 .6-.9 .7-.9 .5-.6 .3-.5 .1-.2 M620.3 166.9l.3 0 .6 0 .9 0 1.1 .1 1.2-.1 1.1-.1 1-.1 1-.3 1.1-.1 1-.2 1-.2 .9-.1 .9 .1 .8 .3 .8 .5 .6 .7 .6 .7 .6 .8 .6 .9 .6 .8 .6 .9 .4 1 .4 .9 .3 .9 .6 .8 .8 .7 1.1 .7 1.4 .5 1 .4 .7 .3 .3 .1 M621.0 181.6l.3 0 .6 0 .9 0 1.2 0 1.2 0 1.1 .1 1.1 .1 1.1 0 1 .1 1 .1 1 0 .9 .1 1 .1 .9 .1 .8 .2 .8 .2 .9 .2 .9 .3 1 .2 1.1 .3 .8 .2 .6 .2 .2 0 M621.5 190.1l.2 .1 .5 .2 .7 .2 1 .4 1 .5 .9 .5 1 .6 1 .6 1 .6 1 .4 1 .2 1 .2 1.3-.1 1.4-.4 1.6-.6 1.8-.9 1.4-.6 .9-.5 .5-.2 M591.1 176.5l.6-.2 1.2-.3 1.7-.6 2.4-.7 1.9-.5 1.6-.3 1.2 0 .9 .2 .9 .2 1 .4 1.1 .4 1.2 .5 1.2 .3 1.4 0 1.4-.1 1.5-.5 1.4 0 1.2 .3 1 .7 .8 1.1 .8 1 .8 .9 .8 .7 .8 .6 .5 .5 .4 .3 .2 .2 M610.1 191.3l.3 0 .7-.1 1.1-.2 1.3-.1 1.5-.2 1.4-.2 1.5-.2 1.5-.2 1.1-.4 .7-.6 .4-.7 -.1-1 -.1-.9 -.1-1.1 -.1-1 -.1-1.1 0-.9 -.1-.5 0-.3 M598.9 177.8l.4 0 .7 .1 1.1 .2 1.4 .2 1.5 .2 1.4 .3 1.4 .2 1.5 .2 1 .1 .8 .1 .3 .1 M615.1 190.5l0 .4 .1 .8 .1 1.1 .1 1.6 -.1 1.3 -.3 1.2 -.5 1 -.8 .7 -.6 .6 -.4 .4 -.2 .2 M610.3 132.8l.2 .1 .5 .2 .7 .3 .9 .3 1 .3 1.1 .2 1.1 .1 1.2 0 1.2 .1 1.2 .1 1.2 .2 1.2 .2 1.2 .1 1.2 .1 1.3-.1 1.2-.2 1.2-.4 .9-.5 .9-.6 .7-.8 .3-.9 .1-.9 -.3-1.1 -.7-1.2 -.4-1.4 -.3-1.5 -.1-1.6 .1-1.9 .1-1.3 0-1 .1-.4 M609.5 127.3l.3 0 .6 0 .9 0 1.2 0 1.2 0 1.2 0 1.1 0 1.1 0 1 0 1 .1 1 .2 1 .2 1.1 .1 1.4 0 1.5-.1 1.6-.2 1.3-.2 .8-.1 .5 0 M619.1 140.1l.2-.2 .5-.3 .8-.4 1-.6 1-.7 1.1-.7 1.1-.7 1.1-.8 .8-.6 .5-.5 .3-.2 M620.7 151.6l.3-.1 .5-.1 .8-.2 1.1-.2 1-.2 1.1-.1 .9 0 1 0 1 0 1-.1 1-.1 1.1-.3 1-.2 1.1-.1 1.1-.1 1.1 0 1-.1 .9-.1 .9 0 .9-.1 .8-.1 1 0 1-.1 1.1 0 1.2-.2 1.5-.2 1.7-.2 1.9-.3 1.7 0 1.5 .3 1.2 .7 1.1 1 .9 1 .9 1 .9 1 .7 1 1 .8 1 .7 1.2 .5 1.2 .4 1.3 .3 1.3 .3 1.3 .3 1.3 .3 1.2 .2 1.3 .2 1.4 .2 1.3 .3 1 .5 .8 .7 .4 1.1 .2 1.4 .1 1.3 .1 1.4 .2 1.4 .1 1.4 .1 1.1 .1 .7 0 .4 M631.8 132.8l.4 .2 .6 .2 1 .4 1.3 .5 1.3 .6 1.3 .5 1.4 .4 1.3 .5 1.2 .7 .9 .8 .6 1 .5 1.1 .5 1.1 .6 1.1 .6 .9 .7 .9 .5 .9 .2 1 -.1 1.1 -.3 1.1 -.2 .9 -.1 .5 -.1 .3 M612.9 95.1l-.1-.2 -.3-.4 -.4-.7 -.5-.8 -.4-.9 -.4-1 -.4-1 -.3-1 -.5-1 -.7-.8 -.9-.7 -1.1-.6 -1.1-.5 -1.1-.5 -1.1-.5 -1.2-.3 -.6-.4 0-.3 .5-.3 1.2-.2 1.1-.2 1.2-.3 1.2-.2 1.3-.2 1.2-.2 1.2-.3 1.2-.4 1.3-.4 1.2-.1 1 0 1.1 .4 .9 .5 1 .5 1 .4 1.1 .4 1.1 .3 1 .6 1.1 .9 1.1 1.2 1 1.5 .8 1.4 .6 1.2 .4 1.2 .2 1 .1 1.1 .2 1.1 .3 1.2 .2 1.1 .4 1.2 .7 1 .8 1 1.1 .9 1 1 1.1 .9 1 1 1.1 .9 .6 1 .2 .9 -.3 .9 -.7 .9 -.8 .8 -.9 .8 -.9 .7 -1 .7 -.9 .6 -.9 .8 -1 .7 -.9 .8 -.6 .6 -.5 .4 -.2 .2 M581.6 121.3l0-.4 0-.6 .1-1.1 0-1.3 .1-1.4 .1-1.3 .1-1.2 .1-1.3 -.1-1.3 -.2-1.5 -.4-1.7 -.4-1.7 -.2-1.6 0-1.4 .4-1.1 .7-1 .7-1 .7-.9 .8-1 .9-.9 .8-1 .7-1.1 .7-1.1 .5-1.3 .7-1.2 .7-1.1 .7-1.1 .9-.9 .9-.9 1-.8 1.1-.6 1.2-.5 1.2-.6 1.1-.5 1.1-.5 1.1-.6 .8-.4 .5-.3 .3-.1 M669.2 178.6l.2 .2 .4 .3 .6 .5 .8 .7 .8 .6 1 .5 1 .5 1 .3 1.1 .4 1.1 .4 1 .4 1.1 .5 1.1 .4 1.1 .3 1.1 .3 1.2 .3 1.1 .2 1.2 .3 1 .3 1.1 .2 1 .3 1 .3 1.1 .3 1 .4 1 .3 1.1 .3 1.1 .2 1.2 .3 1.2 .3 1.2 .2 1.2 .2 1.2 .3 1.2 .3 1.3 .4 1.3 .5 1.4 .5 1.1 .5 .7 .2 .3 .2 M686.9 193.4l.5 .2 1 .2 1.4 .3 1.9 .5 1.8 .7 1.6 1 1.5 1.2 1.4 1.4 1.1 1.4 .6 1.4 .3 1.3 -.2 1.4 -.1 1.4 -.2 1.4 -.2 1.4 -.2 1.5 -.6 1.1 -.9 .7 -1.2 .4 -1.6 0 -1.4 .1 -1.3 .1 -1.1 .2 -1 .3 -.9 .3 -1 .2 -.9 .2 -1 .2 -.9 .2 -1.1 .3 -1 .3 -1.2 .3 -1.1 .3 -1 .2 -1.1 .1 -1 0 -1 .1 -.9 0 -.8 0 -.8-.1 -.6 0 -.4 0 -.2 0 M692.8 212.2l-.1 .3 -.1 .7 -.1 1 -.3 1.4 -.2 1.4 -.3 1.4 -.2 1.4 -.3 1.5 -.3 1.4 -.4 1.3 -.5 1.3 -.6 1.1 -.6 1.2 -.8 1.2 -.8 1.1 -.9 1.2 -1.3 .8 -1.5 .5 -1.9 .3 -2.1-.1 -2-.2 -1.6-.5 -1.5-.7 -1.1-.9 -.9-.7 -.6-.5 -.3-.2 M684.0 232.7l.1 .2 .4 .3 .5 .4 .7 .6 .7 .6 .9 .6 .9 .6 1.1 .5 1 .6 .9 .5 .9 .5 .9 .5 .9 .5 .9 .6 1 .5 1 .6 1 .6 1 .6 1 .5 .9 .6 .9 .5 .9 .6 .8 .5 .8 .5 1 .3 1.1 .1 1.4-.1 1.5-.4 1.6-.2 1.5-.2 1.6-.1 1.5 .1 1.1 0 .8 0 .4 0 M699.7 201.1l.1 .2 .2 .6 .3 .7 .3 1.1 .4 1 .4 1.1 .3 1 .3 1.1 .3 1.1 .2 1 .2 1 .2 .9 .2 1 .2 .9 .2 .8 .2 .9 .3 .8 .3 .9 .4 .9 .4 .9 .5 .9 .6 .9 .6 1 .7 1 .7 1 .7 1 .7 1.1 .7 1 .6 1.1 .6 1 .5 1 .5 1.1 .4 1 .4 1.1 .3 1 .3 1 .4 1 .5 1 .6 .9 .6 .9 .5 .7 .4 .5 .1 .2 M674.5 244.7l.2-.3 .4-.5 .5-.8 .8-1.1 .7-1.1 .7-.9 .8-1 .7-.8 .8-.9 .8-1 .8-1 .9-1 .7-.8 .4-.5 .3-.3 M748.1 273.8l-.2 .2 -.6 .4 -.7 .5 -1.1 .7 -.9 .7 -.8 .9 -.7 1 -.6 1.1 -.6 1.1 -.7 1 -.7 1 -.8 .9 -.9 1 -.8 .9 -.8 .9 -.8 .9 -1 .8 -1 .7 -1.2 .5 -1.3 .4 -1.2 .5 -1.2 .4 -1.2 .4 -1.2 .4 -1.1 .4 -1.1 .4 -1.1 .4 -1 .5 -1 .4 -1 .4 -1 .4 -.9 .4 -1 .4 -1 .4 -1 .5 -1.1 .5 -1.1 .5 -1 .4 -1.1 .4 -1.1 .3 -1.1 .3 -1.1 .4 -1.1 .4 -1 .4 -.8 .4 -.6 .2 -.2 .1 M736.3 289.7l.1 .3 .3 .7 .5 1 .6 1.4 .6 1.3 .6 1.2 .5 1.2 .4 1.1 .4 .8 .2 .6 .1 .3 M749.1 268.3l-1 5.5 M702.2 170.3l.1-.4 .1-.6 .3-1 .2-1.3 .3-1.2 .3-1.1 .2-1.1 .2-.9 .3-1.1 .2-1 .3-1.2 .2-1.1 .3-1.2 .2-1.1 .2-1.1 .2-1 .4-.7 .6-.5 .8-.1 1 .1 1.1 .1 1 .2 1 .2 1 .2 .9 .2 .9 .3 .9 .2 .9 .2 .9 .2 1 .3 .9 .3 1 .3 1 .3 1.1 .1 1.2 .1 1.3 .1 1.3 0 1.2 0 1.3-.1 1.4-.1 1.3-.1 1.3-.1 1.3-.2 1.3-.1 1.3-.1 1.2-.1 1.2-.1 1.1 0 .8-.3 .3-.6 0-.8 -.4-1.2 -.5-1.1 -.5-1 -.5-1.1 -.5-1 -.5-1 -.4-1.2 -.4-1.2 -.3-1.2 .1-1.1 .4-.7 .8-.5 1.1-.3 1.1-.3 1.2-.2 1.2-.3 1.2-.2 1.2-.3 1.2-.3 1.1-.4 1-.4 1.1-.4 1.1-.3 1.1-.3 1.2-.4 1.1-.3 1.2-.3 1.2-.3 1.2-.3 1.2-.2 1.1-.1 1.2 .1 1.2 .1 1.1 .2 1.2 .1 1.1 0 1 .1 1.2 .1 1.1 .1 1.1 .2 1.2 .3 1.2 .3 1.2 .4 1.2 .4 1.2 .4 1.2 .4 1.2 .4 1.1 .3 1.1 .4 1.1 .3 1.1 .3 1 .2 1 .1 1 .3 1 .3 .9 .5 .9 .5 .9 .5 .9 .5 1 .6 1 .6 .9 .5 1 .5 1 .5 1 .4 1 .4 .9 .3 1 .2 .9 .2 .9 .2 .9 .3 .9 .3 .8 .4 .9 .4 1 .3 .9 .4 1.1 .3 .9 .4 .9 .4 .9 .5 .8 .5 .8 .4 1 .5 1 .3 1 .3 1 .4 1 .5 .8 .7 .8 .7 .8 .6 1 .6 1.1 .6 1.2 .5 1.2 .6 1.1 .5 1 .6 1 .6 .7 .4 .5 .3 .2 .2 M725.8 192.2l.4 0 .7 0 1 .1 1.4 0 1.3 .2 1.4 .2 1.3 .3 1.3 .3 1 0 .8-.4 .5-.7 .2-1 .2-1.1 .2-1 .2-1 .3-.9 .2-1 .3-1 .3-1 .3-1.1 .3-1.1 .3-1 .3-1.1 .4-1.1 .5-.7 .8-.4 .9 0 1.2 .3 1.1 .4 1.2 .5 1.1 .6 1.2 .6 1.1 .5 1.2 .4 1 .2 1.1 0 1 .2 1 .3 1.1 .4 1 .6 1.1 .5 1.1 .4 1.1 .3 1.1 .2 1 .3 1.1 .3 .9 .3 1 .4 .9 .5 .8 .5 .8 .5 .8 .6 .7 .6 .6 .7 .6 .7 .5 .7 .6 .6 .6 .6 .8 .6 .8 .5 .8 .6 .8 .7 .7 .8 .7 .8 .8 .5 .9 .1 1-.2 1.1-.6 1.1-.7 1-.7 .9-.6 1-.8 .9-.5 1-.4 1-.3 1.1-.1 1.1-.2 1.1-.1 1.1-.1 1.1-.2 1-.1 1-.2 1-.1 1 0 1-.2 1.1-.1 1.1-.2 1.2-.2 1.1-.2 1.1-.2 1.1-.3 1.1-.3 1-.2 1.1-.3 1-.2 1.1-.1 1-.2 1.1 0 1.1 0 1.2 0 .8 .1 .6 0 .2 0 M733.0 211.3l.3 0 .6-.1 1-.1 1.2-.2 1.2-.2 1.3-.3 1.2-.4 1.3-.4 1.2-.2 1.1-.1 1 .2 .9 .4 .9 .3 .9 .4 .9 .3 1 .2 .8 .3 .9 .3 .8 .4 .8 .3 .8 .4 .9 .3 .9 .3 1 .3 .9 .5 .8 .8 .7 .9 .7 1.1 .6 1.1 .5 1.1 .4 1 .4 1.1 .3 1 .3 1.1 .3 1 .2 1.1 .3 1.1 .2 1.1 .1 1 .1 1 .1 1.1 .1 1 0 1.1 .1 1.1 .1 1.1 0 1.1 0 1 .1 1.1 0 1 .1 1 .2 1 .1 1 .4 .7 .6 .6 .9 .2 1.1 .1 1.2 .1 1.2 .1 1.4 .1 1.4 .1 1.2 .3 1 .5 .6 .8 .5 .9 .5 .9 .7 .9 .7 1 .9 .9 .8 .9 .7 1 .5 .8 .4 .9 .5 .9 .6 .9 .7 .9 .8 1 .8 .9 .7 .8 .6 .9 .6 .7 .5 .6 .3 .4 .1 .2 M758.5 214.7l.3 0 .5 0 .9-.1 1.1-.2 1.1-.1 1.1-.2 1-.3 1.1-.3 1-.3 1-.2 1.1-.3 1-.2 1.1-.3 .9-.3 1-.4 .9-.5 .9-.3 1-.2 1-.1 1 .1 1.1 .1 1.2 .2 1.3 .1 1.3 .3 1.3 .2 1.2 .1 1.1 .1 1.1 0 1.1 .1 1.2 0 1.3 .1 1.4 .1 1.3 .1 1.1 0 1-.1 .8-.1 .9-.1 .9 0 1 .1 1.1 .2 1 .1 1 .2 .8 .1 .8 .1 .6 0 .4 .1 .2 0 M786.5 262.3l.3-.3 .5-.4 .7-.8 1-.9 1-1 1-.9 1-1 1-.9 1.2-1 1.3-1 1.6-1 1.6-1 1.3-1 1-1 .6-1 .2-1 .3-1 .4-1.1 .4-1 .5-1 .5-1.1 .5-1.1 .4-1.2 .4-1.3 .4-1.1 .5-1.1 .6-1 .6-.9 .3-1 .1-.9 -.2-1 -.5-1.1 -.4-1 -.2-.9 -.2-.9 -.1-.9 0-.9 -.1-1.1 -.1-1.2 -.1-1.2 -.1-1 0-.6 -.1-.3 M828.5 161.1l.2 .1 .4 .3 .6 .4 .8 .5 .8 .5 .9 .5 .8 .5 .9 .4 1 .5 1 .6 1 .6 1 .8 1 .7 .9 .6 .8 .6 .8 .4 .8 .6 .9 .7 1 .8 1.1 .9 1 .8 1 .7 1 .6 .9 .4 .9 .5 .9 .4 .9 .5 .9 .4 .9 .5 .7 .4 .6 .3 .6 .3 .6 .4 .6 .5 .7 .7 .8 .7 .7 .7 .8 .8 .9 .7 .8 .8 1 .7 1 .5 1.2 .5 1.2 .4 1.1 .4 1.1 .3 .9 .3 .9 .3 .8 .4 .8 .4 .8 .4 .8 .4 .7 .4 .9 .3 .9 .2 .9 .2 1 .2 1 .2 1 .2 1.1 .1 1.1 .2 1.2 .1 1.2 .1 1.2 .1 1.1 .1 1.2 .1 1 .2 1 .3 1.1 .2 1 .2 1.1 .2 1 .1 1.1 .2 1.1 .2 1.1 .2 1.1 .2 1.1 .2 1.1 .1 1.1 .1 1 .1 1 0 .9-.3 .9-.4 .8-.6 .8-.6 .8-.6 .9-.6 .9-.5 .9-.5 1-.6 1.1-.5 1.1-.5 1.1-.5 1.2-.6 1.3-.7 1.4-.6 1.2-.7 1.2-.8 1-.9 1-.8 1-.9 .9-.7 1-.7 1-.7 .9-.6 .8-.6 .8-.6 .7-.6 .7-.6 .9-.6 .9-.6 1-.5 .9-.7 .9-.7 .8-.8 .8-.9 .4-.8 .1-.8 -.4-.6 -.7-.6 -.8-.7 -.9-.6 -.9-.7 -1-.7 -.9-.7 -.9-.7 -.9-.6 -.9-.6 -.8-.6 -.9-.6 -1-.6 -.9-.7 -1-.7 -.9-.6 -.9-.6 -.8-.7 -.9-.4 -.9-.3 -.9 0 -.9 .2 -1 .1 -1 .3 -1 .3 -1 .3 -1 .3 -1.1 .2 -1.1 .3 -1.1 .2 -1.1 .2 -1.2 .1 -1.1 .1 -1.1 0 -1.1 0 -1 0 -.9-.1 -.9 0 -.8 .1 -.9 .1 -.9 .2 -.9 .2 -.9 .1 -1 0 -1-.1 -1-.2 -1.1-.2 -1.1-.3 -1.1-.4 -1.2-.4 -1.1-.4 -1.1-.5 -1.1-.5 -1-.6 -1.1-.5 -1.1-.4 -1.2-.4 -1.2-.4 -1.2-.3 -1.2-.2 -1.2-.3 -1.3-.2 -1.2-.2 -1.2-.2 -1.1-.1 -1.1-.2 -1.2-.2 -1.1-.3 -1.1-.3 -1.1-.3 -1-.4 -1.1-.4 -1-.4 -1-.4 -1-.4 -1-.4 -1-.3 -1-.3 -1-.2 -.9 0 -1 .2 -.9 .3 -.9 .3 -.9 .4 -.9 .4 -.9 .4 -.9 .4 -1 .4 -1 .4 -1 .4 -1 .4 -.9 .4 -.9 .5 -.8 .5 -.7 .6 -.8 .5 -.8 .6 -.8 .5 -.8 .5 -.9 .4 -.8 .3 -.9 .2 -1 .2 -1 .3 -1.1 .3 -1.2 .4 -.9 .2 -.6 .2 -.3 .1 M688.0 125.3l.1-.3 .2-.6 .3-.8 .3-1.1 .4-.6 .3-.1 .3 .5 .3 1 .3 1 .2 1 .3 1 .3 1.1 .3 1.1 .4 1.1 .4 1 .5 1.1 .4 .8 .2 .5 .2 .2 M136.0 141.0l.1-.2 .3-.3 .4-.6 .6-.7 .5-.7 .5-.8 .5-.7 .5-.7 .5-.6 .4-.7 .6-.6 .5-.6 .3-.6 0-.7 -.2-.6 -.4-.7 -.4-.7 -.4-.7 -.4-.7 -.4-.7 -.4-.7 -.4-.7 -.5-.7 -.4-.7 -.4-.7 -.5-.7 -.4-.7 -.5-.7 -.5-.6 -.5-.5 -.6-.4 -.6-.2 -.7-.3 -.6-.3 -.7-.3 -.6-.3 -.6-.3 -.7-.3 -.7-.3 -.7-.3 -.7-.2 -.7-.3 -.7-.2 -.8-.2 -.7-.2 -.7-.1 -.8-.2 -.8-.2 -.7-.2 -.7-.1 -.8-.2 -.7-.2 -.7-.1 -.8-.2 -.8-.1 -.8-.2 -.8-.1 -.8-.1 -.8-.2 -.8-.1 -.8-.1 -.8-.2 -.8-.1 -.7-.1 -.7-.1 -.8 0 -.8 .1 -.8 .1 -.9 .2 -.8 .1 -.9 .2 -.9 .2 -.9 .2 -.8 .2 -.9 .2 -.8 .1 -.8 .2 -.8 .3 -.8 .2 -.8 .3 -.8 .3 -.8 .2 -.7 .2 -.8 .2 -.7 .2 -.8 .1 -.8 .3 -.7 .2 -.8 .2 -.8 .2 -.8 .2 -.8 .1 -.8 .3 -.8 .2 -.8 .4 -.8 .3 -.8 .4 -.8 .3 -.8 .3 -.8 .4 -.8 .3 -.8 .3 -.8 .3 -.8 .4 -.8 .3 -.8 .3 -.7 .3 -.7 .3 -.7 .3 -.7 .3 -.7 .3 -.7 .3 -.6 .4 -.7 .3 -.7 .3 -.7 .3 -.7 .4 -.7 .3 -.7 .4 -.8 .3 -.7 .4 -.8 .4 -.8 .4 -.8 .4 -.8 .4 -.8 .3 -.8 .4 -.8 .4 -.9 .4 -.8 .4 -.8 .4 -.8 .4 -.8 .4 -.7 .4 -.8 .4 -.8 .4 -.7 .4 -.8 .3 -.8 .4 -.8 .4 -.7 .3 -.8 .3 -.8 .2 -.7 .2 -.4 0 0-.1 .3-.2 .7-.4 .7-.4 .7-.4 .6-.4 .7-.4 .7-.4 .7-.5 .6-.4 .7-.4 .6-.4 .7-.5 .6-.4 .6-.4 .6-.4 .7-.5 .6-.4 .7-.3 .6-.4 .7-.4 .6-.4 .7-.4 .6-.4 .6-.4 .7-.4 .6-.5 .6-.4 .6-.4 .6-.3 .6-.4 .2-.3 -.1-.3 -.5-.2 -.9-.1 -.9-.2 -.9-.1 -.9-.2 -.8-.1 -.9-.1 -.9-.2 -.8-.1 -.9-.2 -.7-.4 -.6-.6 -.5-.8 -.4-1.1 -.1-.8 .2-.8 .4-.6 .6-.4 .6-.4 .7-.5 .6-.5 .6-.5 .7-.5 .6-.5 .6-.4 .6-.5 .6-.5 .6-.4 .6-.4 .7-.5 .6-.4 .6-.4 .6-.3 .6-.4 .7-.4 .7-.3 .7-.3 .7-.3 .8-.3 .7-.3 .7-.3 .7-.3 .7-.3 .7-.3 .6-.3 .7-.3 .7-.3 .7-.3 .7-.2 .7-.3 .7-.3 .7-.3 .7-.2 .7-.3 .7-.2 .7-.3 .7-.3 .8-.3 .3-.2 -.1-.2 -.4-.2 -.9-.1 -.9-.1 -.8-.1 -.9-.1 -.9-.1 -.8-.2 -.9-.1 -.8-.1 -.9-.1 -.6-.4 -.4-.5 -.1-.7 .2-.9 .3-.7 .5-.5 .6-.4 .7-.1 .8-.1 .8-.2 .8-.1 .8 0 .9-.1 .8-.1 .8 0 .8-.1 .7 0 .8-.1 .8-.1 .8-.1 .8-.1 .7-.1 .8-.1 .7-.1 .7-.1 .8-.1 .7-.1 .7-.2 .8-.1 .7-.1 .8-.1 .8-.1 .5-.3 .1-.5 -.2-.6 -.6-.8 -.6-.8 -.5-.8 -.5-.8 -.4-.7 -.2-.7 0-.7 .3-.6 .5-.5 .6-.4 .8-.4 .8-.3 .9-.3 .9-.3 .8-.2 .8-.3 .8-.3 .8-.2 .8-.3 .8-.2 .7-.3 .8-.2 .8-.3 .7-.2 .8-.2 .7-.3 .8-.2 .8-.3 .8-.2 .8-.3 .8-.2 .8-.3 .8-.2 .8-.3 .8-.2 .9-.2 .8-.2 .8-.2 .8-.3 .8-.2 .8-.2 .8-.2 .8-.2 .8-.1 .8-.1 .9-.1 .8-.1 .8-.1 .8-.1 .9 0 .8-.1 .9 0 .9 0 .9 0 .8-.1 .9 0 .8 0 .9 0 .8 0 .8-.1 .8 0 .8-.1 .8 0 .7 .1 .8 .1 .8 .1 .8 .1 .8 0 .8 .1 .9 .1 .8 .1 .8 .2 .7 .1 .8 .2 .8 .1 .7 .2 .8 .1 .7 .1 .8 .1 .8 .2 .7 .1 .8 .2 .8 .1 .8 .1 .8 .1 .8 .1 .8 .1 .8 .1 .8 .2 .8 .1 .7 .1 .7 .1 .7 .1 .8 .1 .7 .1 .8 .1 .7 .2 .8 .1 .8 .1 .7 .1 .8 .1 .8 .2 .8 .1 .8 .2 .8 .3 .9 .2 .8 .2 .8 .2 .8 .2 .8 .2 .8 .2 .9 .2 .9 .2 .8 .1 .8 0 .8-.1 .8-.1 .7-.2 .8-.1 .8-.2 .8-.1 .7-.1 .8-.1 .7-.1 .7 0 .7 0 .7-.1 .7 0 .8-.1 .7 0 .6-.1 .7-.1 .7 0 .7-.1 .7-.1 .7-.2 .7-.1 .8-.1 .8-.2 .8-.1 .8-.1 .8-.1 .8-.1 .8-.1 .7-.1 .8 0 .8-.1 .7-.1 .8-.1 .7 0 .7 .1 .8 .1 .7 .2 .7 .3 .8 .2 .7 .2 .8 .2 .8 .2 .8 .3 .8 .2 .8 .2 .8 .3 .7 .2 .8 .1 .8 .2 .8 .2 .8 .2 .8 .1 .8 .2 .8 .1 .7 .2 .8 .1 .8 .1 .8 .1 .8 .1 .9 .1 .9 .1 .9 0 .9 .1 1 .1 .9 0 1 .1 .9 0 1 .2 .9 .1 .9 .1 .8 .1 .8 0 .8 0 .7 .1 .7 0 .7 0 .8 0 .7-.1 .7 0 .8 0 .8-.1 .8 0 .8 0 .8 0 .8 0 .7 0 .8 0 .7 0 .7 .1 .7 0 .7 0 .7 .1 .8 0 .7 0 .8 .1 .7 0 .8-.1 .7 0 .8 0 .8 0 .8 0 .8 0 .9 0 .8 .1 .8 .1 .9 .1 .8 .1 .8 .2 .9 .1 .8 .2 .8 .1 .9 .1 .8 .2 .8 .1 .8 .2 .9 .1 .8 .2 .8 .2 .8 .1 .8 .2 .8 .1 .8 .2 .9 .1 .8 .1 .9 .1 .9 .1 .8 .1 .9 .1 .9 0 .9 .1 .9 .1 .9 .1 1 0 .9 .1 .9 0 .9 0 .9-.1 .7 0 .5 0 .2 0 M168.6 82.7l-.1 .1 -.3 .3 -.4 .3 -.5 .5 -.6 .5 -.5 .5 -.6 .5 -.6 .6 -.6 .5 -.7 .5 -.6 .5 -.6 .5 -.6 .4 -.6 .5 -.6 .5 -.6 .5 -.5 .4 -.6 .5 -.6 .5 -.5 .5 -.6 .4 -.6 .5 -.6 .5 -.6 .4 -.7 .5 -.6 .5 -.6 .4 -.6 .5 -.7 .4 -.6 .5 -.5 .5 -.6 .4 -.6 .5 -.5 .5 -.6 .5 -.6 .5 -.5 .5 -.6 .6 -.5 .5 -.6 .5 -.6 .5 -.5 .5 -.6 .5 -.5 .5 -.6 .5 -.5 .5 -.5 .5 -.6 .5 -.5 .5 -.5 .4 -.5 .5 -.6 .5 -.5 .4 -.5 .5 -.6 .5 -.5 .4 -.6 .5 -.5 .5 -.6 .5 -.5 .5 -.6 .5 -.5 .5 -.6 .5 -.5 .5 -.6 .5 -.5 .5 -.6 .5 -.5 .5 -.6 .5 -.6 .5 -.6 .6 -.6 .5 -.4 .4 -.3 .3 -.2 .1 M376.0 40.0l.1 .2 .1 .3 .2 .5 .3 .7 .3 .6 .3 .7 .4 .7 .3 .7 .4 .7 .3 .8 .3 .7 .3 .8 .4 .7 .3 .7 .4 .7 .4 .7 .3 .8 .4 .7 .3 .7 .3 .7 .5 .7 .5 .6 .6 .5 .8 .5 .7 .5 .6 .5 .7 .6 .5 .7 .7 .6 .6 .6 .6 .6 .6 .5 .7 .5 .6 .5 .8 .4 .7 .3 .8 .3 .8 .3 .8 .3 .8 .3 .8 .3 .8 .3 .8 .3 .8 .3 .8 .3 .8 .3 .8 .2 .8 .3 .8 .3 .8 .3 .8 .2 .8 .3 .8 .4 .6 .5 .5 .6 .4 .7 .4 .8 .4 .8 .4 .8 .4 .8 .4 .8 .4 .8 .4 .8 .3 .7 .4 .8 .4 .8 .3 .8 .4 .7 .1 .8 -.1 .7 -.4 .7 -.7 .7 -.6 .7 -.6 .7 -.7 .7 -.6 .8 -.6 .7 -.6 .7 -.7 .8 -.7 .7 -.5 .7 -.4 .7 -.3 .8 0 .8 -.1 .7 -.1 .8 -.1 .8 -.2 .8 -.1 .8 -.1 .8 -.1 .7 0 .8 -.1 .8 -.1 .8 -.2 .8 -.1 .8 0 .8 .1 .7 .2 .8 .4 .7 .3 .8 .4 .7 .3 .8 .4 .8 .3 .7 .4 .8 .3 .7 .3 .7 .4 .8 .3 .7 .3 .8 .3 .8 .4 .7 .5 .7 .7 .6 .8 .5 .8 .6 .8 .5 .7 .6 .8 .5 .8 .6 .8 .5 .8 .6 .8 .5 .8 .3 .6-.1 .5-.3 .5-.6 .4-.6 .5-.5 .5-.5 .5-.5 .5-.5 .5-.6 .5-.6 .5-.6 .5-.6 .5-.6 .5-.6 .5-.6 .5-.7 .6-.6 .4-.6 .5-.6 .6-.6 .5-.5 .6-.5 .7-.4 .6-.4 .7-.3 .6-.4 .7-.4 .6-.3 .7-.4 .7-.4 .6-.4 .7-.4 .7-.4 .7-.4 .6-.3 .7-.4 .7-.4 .6-.4 .7-.5 .6-.4 .6-.4 .7-.5 .6-.4 .6-.4 .7-.4 .6-.4 .7-.3 .7-.3 .7-.4 .7-.3 .7-.3 .8-.3 .7-.3 .7-.3 .7-.3 .7-.2 .7-.3 .8-.3 .7-.3 .8-.3 .7-.2 .7-.3 .7-.3 .7-.3 .7-.3 .8-.4 .7-.3 .7-.3 .7-.3 .7-.3 .6-.3 .7-.3 .7-.2 .8-.3 .8-.2 .8-.2 .8-.2 .8-.2 .8-.2 .8-.2 .7-.2 .8-.2 .8-.3 .7-.3 .8-.2 .7-.3 .7-.2 .8-.2 .8-.2 .8-.3 .8-.2 .8-.2 .8-.3 .9-.2 .9-.2 .9-.3 .9-.2 .8-.3 .9-.3 .8-.3 .8-.5 .7-.5 .6-.7 .6-.6 .6-.6 .6-.6 .5-.6 .6-.6 .6-.5 .6-.6 .7-.5 .2-.6 -.1-.7 -.5-.8 -.9-.9 -.5-.8 -.1-.6 .4-.6 .8-.4 .7-.5 .8-.4 .7-.5 .8-.6 .7-.5 .8-.4 .7-.4 .8-.4 .8-.4 .8-.4 .8-.5 .8-.4 .6-.6 .6-.7 .3-.7 .3-.9 .2-.9 .2-.9 .3-.9 .2-.9 .4-.8 .4-.7 .6-.6 .6-.6 .7-.5 .6-.6 .7-.5 .6-.5 .7-.5 .6-.5 .6-.5 .6-.6 .6-.5 .7-.6 .6-.5 .7-.6 .7-.6 .7-.6 .9-.7 .9-.6 .9-.7 .9-.7 .9-.7 1-.7 .9-.6 .8-.6 .8-.5 .7-.4 .7-.5 .7-.4 .7-.5 .7-.4 .7-.4 .7-.5 .7-.5 .8-.5 .5-.3 .4-.3 .2-.1 M486.0 97.6l1.2-.5 1.2-.3 1-.3 1-.2 .9 0 .9-.1 .9 0 .9-.1 .9-.1 .9-.1 .9 0 .9-.1 .9-.1 1-.1 .9 0 1 0 .9 0 .9 .1 .9 .1 .9 .1 .9 .1 .9 0 .9 .1 .8 .1 .8 .1 .7 .4 .4 .7 .1 1 0 1.4 -.2 1.1 -.3 .8 -.6 .5 -.6 .3 -.7 .2 -.7 .3 -.7 .3 -.7 .3 -.7 .2 -.7 .3 -.7 .3 -.7 .2 -.7 .3 -.7 .3 -.8 .2 -.7 .3 -.7 .2 -.7 .3 -.7 .3 -.7 .2 -.6 .1 -.7 0 -.7-.2 -.7-.3 -.7-.3 -.7-.3 -.7-.3 -.8-.2 -.7-.3 -.7-.2 -.7-.3 -.7-.3 -.8-.5 -.8-.6 -.9-.7 -1-.8 -.7-.8 -.4-.7 -.3-.5 0-.5Z M316.3 78.2l.6-.5 .6-.5 .6-.4 .7-.5 .6-.4 .6-.5 .6-.4 .6-.4 .6-.4 .6-.5 .6-.4 .6-.5 .7-.4 .7-.4 .8-.3 .8-.3 .9-.2 .9-.2 .9-.2 .9-.2 1-.3 .9-.2 .9-.1 .9-.1 .9 0 1 .1 .9-.1 1 0 .9 0 1-.1 1 0 .9 0 1 0 .8 .1 .9 .1 .7 .3 .7 .3 .7 .3 .7 .3 .7 .4 .7 .4 .7 .3 .8 .4 .8 .3 .9 .3 .8 .3 .9 .3 .9 .2 1 .3 .9 .3 .9 .2 .9 .3 .9 .3 .8 .3 .9 .3 .9 .4 .9 .3 .8 .3 .7 .5 .7 .5 .6 .6 .5 .6 .6 .6 .6 .5 .6 .6 .3 .7 0 .7 -.2 1 -.5 1 -.2 .9 .1 .7 .4 .6 .7 .4 .8 .5 .7 .4 .7 .5 .7 .4 .7 .5 .8 .5 .7 .5 .7 .5 .6 .7 .5 .8 .4 1 .4 1.1 0 .9 -.2 .8 -.6 .7 -.8 .5 -.9 .5 -.9 .5 -.9 .5 -.9 .5 -.8 .3 -.8 .1 -.8-.1 -.7-.4 -.7-.3 -.7-.3 -.7-.3 -.7-.3 -.7-.3 -.7-.4 -.8-.3 -.7-.4 -.6-.1 -.5 .2 -.5 .4 -.4 .7 -.1 .7 .1 .6 .3 .5 .6 .4 .5 .5 .6 .5 .6 .4 .6 .5 .6 .5 .6 .4 .6 .5 .6 .5 .3 .4 -.2 .4 -.4 .4 -.8 .3 -.8 .3 -.8 .4 -.8 .4 -.8 .4 -.8 .3 -.8 .4 -.8 .4 -.8 .3 -.7 .4 -.8 .3 -.8 .4 -.8 .4 -.7 .2 -.8 0 -.8-.2 -.8-.4 -.9-.4 -.8-.3 -.7-.4 -.8-.3 -.8-.4 -.8-.4 -.8-.4 -.9-.3 -.8-.4 -.7-.3 -.7-.4 -.7-.3 -.7-.3 -.8-.3 -.7-.3 -.8-.2 -.7-.3 -.8-.3 -.7-.2 -.6-.3 -.7-.3 -.7-.2 -.7-.3 -.8-.3 -.7-.3 -.7-.3 -.7-.2 -.6-.3 -.4-.5 0-.5 .3-.6 .6-.7 .7-.6 .8-.4 .7-.3 .9-.2 .8-.1 .8-.2 .8-.1 .8-.1 .9-.2 .8-.1 .9-.1 .8-.1 .9-.2 .8-.1 .8-.2 .8-.1 .8-.3 .6-.5 .6-.6 .6-.7 .5-.7 .5-.7 .6-.7 .5-.7 .2-.7 0-.7 -.2-.6 -.6-.6 -.5-.6 -.5-.6 -.5-.6 -.5-.6 -.5-.6 -.5-.7 -.5-.6 -.5-.7 -.7-.5 -.7-.4 -.9-.3 -1.1-.2 -1-.2 -1.1-.2 -1.1-.2 -1.1-.1 -1.1 0 -1.1 .1 -1.1 .2 -1 .4 -1.1 .4 -1 .4 -1.1 .3 -1 .3 -1.1 .5 -1 .7 -1 .9 -.9 1 -1 .8 -1 .6 -.9 .4 -1 .2 -.9 .2 -.9 .3 -1 .2 -.9 .3 -1 .3 -.9 .2 -1 .3 -1 .3 -1 0 -1-.2 -1.1-.4 -1.1-.7 -.8-.7 -.4-.7 0-.9 .4-.9 .3-.9 .4-.9 .4-1 .3-.9 .7-.8 .9-.7 1.2-.5 1.4-.3Z M299.8 63.1l.1 .3 .1 .2 -.1 .2 -.3 .1 -.3 0 -.3 .1 -.2 .1 -.1 .2 0 .2 -.1 .1 -.1 0 -.3-.1 -.3-.1 -.3-.1 -.3 0 -.3 0 -.2 .2 -.2 0 -.2 .1 -.2-.1 -.1-.1 -.2-.1 -.2-.2 -.1-.1 -.2-.1 -.1-.2 -.2-.1 -.1-.1 -.2-.1 0-.2 -.1-.1 .1-.1 .1-.2 0-.2 -.2-.1 -.2-.3 -.3-.2 -.2-.2 0-.2 0-.1 .3-.2 .2-.1 .2-.1 .3-.1 .3 0 .3-.1 .2 0 .3 0 .2 0 .3-.1 .2-.1 .3-.1 .2-.1 .2-.1 .2 .1 .2 .1 .1 .3 .2 .2 .2 .1 .3 0 .3 0 .2 0 .2 .1 .1 .2 .1 .2 0 .2 .1 .1 0 .2 -.1 .2Z M311.0 63.0l.3 .2 .1 .2 -.1 .2 -.2 .1 -.4 .2 -.3 .1 -.4 .1 -.3 .1 -.3 0 -.4 .1 -.3 .1 -.3 .1 -.3 .1 -.3 0 -.3 0 -.3 0 -.4-.1 -.3 0 -.3 0 -.4 0 -.3 0 -.4-.1 -.3 0 -.4-.1 -.4-.1 -.3-.2 -.2-.1 -.1-.2 -.1-.2 0-.2 -.1-.1 0-.2 -.1-.2 -.1-.1 0-.1 -.1-.2 -.1-.1 0-.1 .1-.2 .2-.1 .2-.2 .2-.2 .2-.1 .2-.3 .2-.2 .2-.2 .3-.1 .4 0 .5 .1 .4 0 .4-.1 .5-.1 .3-.2 .4-.1 .4 0 .3 .1 .4 .2 .3 .2 .3 .1 .3 .2 .2 .1 .2 .2 .1 .1 0 .2 0 .2 0 .2 .1 .2 .1 .1 .1 .2Z M347.5 62.9l-.9 .1 -.7 .2 -.4 .2 -.1 .2 .2 .3 0 .2 -.2 .2 -.4 .2 -.7 .2 -.8 .2 -.9 .1 -1.1 .1 -1.3 .1 -1.2 .1 -1.2 0 -1.2 .1 -1.2 0 -1.1 .1 -1 0 -.9-.1 -.8 0 -1 0 -1-.1 -1.1 0 -1.1 0 -1.2 0 -1.1-.1 -1-.1 -1.1-.1 -.6-.1 -.3-.1 .1-.2 .4-.3 .3-.2 .3-.2 .3-.2 .1-.2 .3-.1 .4-.2 .6-.2 .6-.2 .8-.2 .7-.1 .9-.2 .9-.1 .8-.2 .9-.1 .9-.2 .9-.2 1-.2 1.1-.1 1.2-.2 1.3-.1 1.3-.1 1.3 0 1.3 0 1.2 0 1 .1 .9 .1 .7 .2 .5 .2 .5 .2 .3 .2 .2 .1 .2 .1 .2 .2 .4 .1 .5 .1 .6 .1Z M353.1 52.2l.5 .2 .2 .3 -.1 .2 -.5 .2 -.8 .2 -.7 .2 -.7 .1 -.7 .2 -.6 .2 -.7 .2 -.8 .1 -.9 .1 -1 0 -.9 0 -.9 .1 -.8 .1 -.8 .1 -.8 .1 -.8 .1 -.8 .1 -.8 0 -.9 0 -.9 .1 -.9 0 -1 0 -.7 0 -.4-.1 -.1-.2 .3-.2 .1-.2 -.1-.1 -.3-.2 -.4-.1 -.2-.1 .2-.1 .4-.2 .8-.1 .5-.1 .3-.2 .1-.2 -.1-.2 .2-.2 .3-.2 .6-.2 .8-.2 .7-.1 .8-.2 .7-.1 .7-.2 .7-.1 .7 0 .7-.1 .7 0 .8 0 .9-.1 1-.2 1-.2 1-.1 .8-.1 .8 0 .6 .1 .5 .1 .3 .1 .2 .1 .1 .2 .1 .1 .1 .1 0 .2 0 .1Z M350.3 58.9l-.2 .1 -.1 .1 -.2 .2 -.3 .1 -.2 .2 -.3 .1 -.3 .2 -.4 .1 -.3 .1 -.5 .1 -.6 .1 -.6 .1 -.8 .1 -.7 0 -.7 .1 -.7 0 -.7 .1 -.7 0 -.6 0 -.6-.1 -.6 0 -.6 0 -.6-.1 -.8 0 -.8 0 -.7 0 -.6-.1 -.6-.1 -.6-.1 -.3-.1 -.3-.2 0-.1 0-.2 .2-.1 .3-.2 .4-.1 .5-.1 .4-.2 .3-.1 .2-.1 .1-.2 .3-.1 .3-.1 .4-.1 .5-.1 .5-.1 .6-.1 .6-.1 .6-.1 .6-.1 .7-.1 .7 0 .7 0 .7 0 .8-.1 .7 0 .8 0 .6 0 .5 .1 .4 .1 .2 .1 .3 .1 .4 .2 .3 .1 .4 .1 .3 .1 .3 .1 .2 .1 .1 .1Z M354.3 70.8l.1 .2 0 .2 -.2 .2 -.3 .1 -.5 .1 -.4 .1 -.2 .2 -.2 .2 -.2 .2 -.1 .2 -.3 .2 -.2 .2 -.4 .1 -.4 .1 -.3 0 -.4 0 -.5 0 -.4 0 -.4-.1 -.5 0 -.4-.1 -.4 0 -.4-.1 -.4-.1 -.3-.2 -.3-.2 -.3-.2 -.2-.2 -.2-.2 -.1-.2 -.2-.3 -.1-.2 -.2-.2 -.1-.2 0-.3 0-.2 .1-.2 .1-.3 .2-.2 .3-.2 .4-.1 .4-.2 .3-.2 .3-.1 .3-.2 .3-.2 .3-.1 .3-.1 .4-.2 .4-.1 .4 0 .4 0 .4 0 .5 0 .4 0 .4 .1 .5 0 .4 .1 .3 .1 .4 .2 .3 .2 .2 .2 .2 .2 .1 .2 .1 .3 0 .2 .1 .2 0 .2 0 .2Z M302.3 75.0l0 .4 -.1 .3 -.2 .3 -.2 .3 -.4 .2 -.4 .2 -.4 .1 -.4 .1 -.5 0 -.5 .1 -.4 .2 -.4 .2 -.4 .2 -.5 .1 -.4-.1 -.5-.2 -.5-.3 -.5-.3 -.5-.4 -.4-.4 -.3-.5 -.4-.4 -.4-.4 -.3-.4 -.4-.3 -.4-.4 -.4-.3 -.3-.4 -.4-.3 -.2-.4 -.3-.4 -.1-.4 -.2-.4 0-.3 -.1-.4 0-.3 0-.4 .1-.3 .2-.2 .3-.2 .4-.3 .4-.2 .2-.3 .2-.4 .2-.4 .3-.2 .4-.1 .5 .2 .7 .3 .6 .2 .6 .1 .6 0 .5-.1 .5 .1 .5 .3 .3 .5 .4 .6 .4 .6 .4 .4 .6 .3 .6 .2 .4 .4 .2 .4 0 .5 -.2 .5 -.1 .5 .2 .5 .3 .3 .4 .3Z M314.2 102.2l.3 .4 .1 .3 0 .4 -.2 .3 -.4 .3 -.4 .2 -.5 .2 -.4 .2 -.6 .1 -.5 .2 -.5 .2 -.6 .1 -.5 .2 -.5 .1 -.6 .1 -.6 .1 -.6 .1 -.7 .1 -.6 0 -.6 0 -.7-.1 -.6-.1 -.4-.3 -.4-.3 -.3-.4 -.4-.3 -.3-.4 -.3-.2 -.3-.3 -.1-.3 0-.3 .2-.4 .3-.3 .1-.4 -.1-.4 -.3-.4 -.6-.4 -.4-.4 -.2-.5 -.1-.4 .1-.6 .2-.3 .5-.3 .7-.1 .9-.1 .8 0 .7 .1 .7 0 .6 .1 .6 0 .5 0 .6 0 .5-.1 .6 0 .5 0 .6 0 .5 0 .6 .1 .6 0 .6 .1 .6 .2 .5 .1 .5 .3 .4 .3 .3 .3 .2 .4 0 .4 -.2 .4 -.4 .4Z M255.3 67.7l-.7 .5 -.3 .6 -.1 .8 .2 .8 .5 1 .2 .7 -.3 .6 -.6 .4 -1 .3 -1 .2 -1 .3 -1 .3 -.9 .3 -.9 .3 -.9 .3 -.7 .3 -.7 .3 -.7 .3 -.7 .3 -.8 .2 -.7 .3 -.9 .2 -1.1 .2 -1.2 .2 -1.4 .2 -1.3 .1 -1.2 .2 -1.2 .2 -1.1 .1 -.9 .2 -.8 0 -.7 .1 -.5 0 -.7 0 -.9 0 -1.1 0 -1.2 .1 -1.1-.1 -.9-.2 -.8-.2 -.5-.4 -.2-.4 0-.4 .3-.5 .5-.6 .3-.6 0-.8 -.3-.8 -.6-1 -.3-.8 0-.6 .4-.6 .7-.3 .7-.4 .7-.4 .7-.3 .7-.4 .7-.3 .9-.2 .9-.2 .9-.1 1-.1 1-.1 1-.1 1-.1 .9-.1 .9-.2 .8-.3 .8-.3 .7-.3 .8-.3 .7-.3 .8-.3 .8-.3 .9-.2 1.1-.1 1.1 0 1-.1 .9 0 .8 0 .8 0 .9 0 1 .1 1.3 0 1.3 0 1.1 .2 .9 .3 .6 .3 .3 .5Z M280.1 80.5l-.7 .3 -.7 .4 -.7 .3 -.7 .4 -.7 .3 -.8 .4 -.9 .4 -1.1 .5 -1.1 .5 -1.1 .6 -.9 .6 -.8 .7 -.7 .8 -.8 .6 -.8 .4 -1 .1 -1.1 0 -1 0 -1-.1 -1.1 0 -1-.1 -1 0 -.9 0 -.9-.1 -.8-.1 -.8 0 -.8-.1 -.9-.1 -.8-.1 -.9 0 -.9 0 -1 .1 -1.1 .1 -1.1 .1 -1 .1 -1.1 .1 -1 .1 -1 0 -.8-.1 -.8-.2 -.7-.3 -.7-.3 -.7-.2 -.7-.3 -.7-.3 -.8-.4 -.8-.4 -1-.6 -1.1-.6 -.8-.7 -.7-.7 -.5-.7 -.2-.8 -.2-.7 .1-.8 .3-.7 .5-.8 .6-.7 .7-.7 1-.6 1.1-.6 1-.4 1-.4 1-.2 .9-.1 1 0 .9-.1 1-.1 .9 0 1-.2 1.1-.4 1.2-.5 1.2-.7 1.2-.6 1.1-.3 1-.2 1 0 1-.1 1 0 1 0 .9 0 1 0 1 .1 1 .1 1 .1 1 .1 .9 .1 1 .2 1 .1 .9 .3 .8 .4 .8 .7 .7 .7 .8 .7 1 .7 1 .5 1.2 .5 1.3 .6 1.2 .6 1.3 .6 1.3 .7Z M290.1 85.3l0 .2 0 .2 -.1 .2 -.2 .1 -.3 .2 -.3 .1 -.3 .2 -.2 .2 -.3 .1 -.3 .1 -.4 .1 -.5 0 -.6-.1 -.5-.1 -.5 0 -.4-.1 -.4-.1 -.4 0 -.4 0 -.5 0 -.5 .1 -.5 .1 -.5-.1 -.4 0 -.4-.1 -.3-.1 -.3-.2 -.3-.1 -.2-.2 -.1-.2 -.2-.2 -.2-.1 -.1-.2 0-.2 .2-.1 .3-.2 .5-.1 .4-.1 .4-.1 .2-.1 .2-.2 .2-.1 .1-.2 .1-.2 .1-.3 .1-.1 .3-.2 .3-.1 .5-.1 .4-.1 .5 0 .4 .1 .5 .1 .5 .1 .4 0 .5 .1 .4 .1 .4 .1 .4 .1 .3 .1 .3 .1 .2 .2 .1 .1 .2 .2 0 .1 .1 .1 .2 .2 .2 .1 .3 .1Z M264.9 57.9l0 .2 0 .3 -.1 .2 -.3 .2 -.3 .2 -.2 .2 -.3 .3 -.2 .3 -.1 .3 -.4 .2 -.6 .1 -.7 0 -1-.1 -.9 .1 -.8 .1 -.8 .2 -.7 .2 -.8 .2 -.7 .2 -.7 0 -.7 0 -.6-.1 -.7 0 -.6-.1 -.5-.1 -.6-.1 -.5-.1 -.6-.1 -.5-.1 -.3-.2 -.1-.1 .2-.2 .4-.3 .3-.2 0-.2 -.1-.3 -.4-.2 -.2-.2 -.1-.3 .1-.2 .2-.3 .3-.3 .4-.3 .6-.2 .6-.2 .7-.2 .8-.2 .9-.1 .9 0 .8-.1 .9-.1 .8-.1 .8-.2 .8-.1 .7-.1 .8 0 .8 0 .7 0 .6 .1 .5 .1 .4 .2 .5 .1 .4 .1 .5 .2 .6 .1 .3 .1 0 .2 -.1 .1 -.5 .3Z M288.5 63.7l.1 .3 -.1 .2 -.3 .3 -.7 .1 -.9 .2 -.8 .1 -.8 .2 -.7 .2 -.7 .2 -.8 .2 -1 .1 -1.1 0 -1.3-.1 -1.3 0 -1.3 .1 -1.3 0 -1.3 .2 -1.2 0 -1.2-.1 -1.2-.2 -1.1-.2 -.9-.3 -.7-.3 -.4-.4 -.1-.4 -.3-.4 -.5-.2 -.7-.2 -.9 0 -.8-.1 -.9 0 -.9 0 -.8-.1 -.8-.1 -.6-.1 -.4-.3 -.4-.3 -.2-.3 0-.3 .2-.3 .3-.3 .5-.3 .5-.2 .7-.3 .8-.2 .8-.3 .9-.2 .9-.2 1-.2 1-.1 1.1-.2 1.2-.2 1.2-.1 1.2-.1 1.2 0 1.3 .1 1.3 .3 1.3 .2 1.2 .2 1.1 .2 1.1 .2 1 .2 1 .2 1 .2 .9 .2 .9 .2 .9 .3 .8 .3 .8 .3 .5 .3 .4 .3 .2 .3 -.1 .3Z M289.5 56.7l-.1 .1 -.2 .2 -.2 .1 -.2 .2 -.2 .1 -.3 .1 -.2 .1 -.3 .1 -.4 .1 -.3 .1 -.4 0 -.4 .1 -.4 0 -.4 0 -.4 0 -.3-.1 -.4-.1 -.4 0 -.3-.1 -.4 0 -.4 0 -.4-.1 -.4 0 -.4-.1 -.4 0 -.3-.1 -.3-.1 -.1-.2 0-.1 0-.2 -.1-.1 -.2-.1 -.1-.1 -.2 0 -.1-.1 0-.2 0-.1 .1-.1 .1-.1 .3 0 .3-.1 .3-.1 .3-.1 .2-.1 .1-.3 .3-.1 .3-.1 .4-.1 .4 0 .5 0 .4 0 .4 0 .3-.1 .3 0 .3 0 .4 .1 .2 .1 .4 .1 .3 .1 .4 .1 .4 .1 .3 .1 .2 .1 .1 .1 0 .2 .1 .2 .3 .1 .3 .1 .5 .1Z" fill="none" stroke="#aad0da" stroke-width="0.9" stroke-linejoin="round"/></svg>
<div id="panel"></div>
<div id="title" class="a">Emergency Lighting Market 2024 to 2032</div>

<!-- logo -->
<svg class="a" style="left:918px;top:22px" width="40" height="36" viewBox="0 0 40 36">
  <circle cx="19" cy="20" r="11.3" fill="none" stroke="#4f5f6c" stroke-width="3.2"/>
  <path d="M7.2 24 L6 32 L12.5 29 Z" fill="#4f5f6c"/>
  <rect x="11.8" y="19.8" width="3.2" height="9.5" fill="#22b3d3"/>
  <rect x="17" y="15.6" width="3.2" height="14" fill="#22b3d3"/>
  <rect x="22.4" y="11" width="3.2" height="18" fill="#4f5f6c"/>
</svg>
<div class="a" style="left:954px;top:30px;font-size:16px;color:#2aaecb;transform:scaleX(1.03);transform-origin:0 0">Credence <span style="color:#5b6b78">Research</span></div>
<div class="a" style="left:955px;top:48px;font-size:5px;font-weight:bold;color:#505050;letter-spacing:2.6px">Actionable Insights Delivered</div>

<!-- chart -->
<div class="a" style="left:200px;top:140px;font-size:16px;color:#3a3a3a;transform:scaleX(1.046);transform-origin:0 0">Global Market Size,&nbsp; 2024 and 2032</div>
<div class="a" style="left:281px;top:165px;font-size:16px;font-weight:bold;color:#111;transform:scaleX(1.063);transform-origin:0 0">(USD Billion)</div>
<div id="frame"></div>
<div class="grid" style="top:262px"></div>
<div class="grid" style="top:294px"></div>
<div class="grid" style="top:326px"></div>
<div class="grid" style="top:357px"></div>
<div class="grid" style="top:389px"></div>
<div class="grid" style="top:421px"></div>
<div class="grid" style="top:453px"></div>
<div class="bar" style="left:198px;top:377px;width:96px;height:76px;background:#33a2a2"></div>
<div class="bar" style="left:392px;top:286px;width:97px;height:167px;background:#0680b0"></div>
<div class="a" style="left:232px;top:354px;font-size:17px;color:#333">6.9</div>
<div class="a" style="left:424px;top:263px;font-size:17px;color:#333">18</div>
<div class="a" style="left:231px;top:463px;font-size:14px;color:#45545c">2024</div>
<div class="a" style="left:426px;top:463px;font-size:14px;color:#45545c">2032</div>

<!-- card -->
<div id="shade"></div>
<div id="card"></div>

<div class="a seg segb" style="left:843px;top:183px;"><span class="it b" style="transform:scaleX(1.098)">Market Segments</span></div>
<div id="list" class="a seg" style="left:843px;top:220px;line-height:19.23px;">
<div class="segb"><span class="it b" style="transform:scaleX(1.096)">Based on Component:</span></div>
<div><span class="bul">&bull;</span><span class="it" style="transform:scaleX(1.24)">Hardware</span></div>
<div><span class="bul">&bull;</span><span class="it" style="transform:scaleX(1.21)">Software</span></div>
<div><span class="bul">&bull;</span><span class="it" style="transform:scaleX(1.127)">Services</span></div>
<div class="segb"><span class="it b" style="transform:scaleX(1.054)">Based on Light Type:</span></div>
<div><span class="bul">&bull;</span><span class="it" style="transform:scaleX(1.15)">Fluorescent</span></div>
<div><span class="bul">&bull;</span><span class="it" style="transform:scaleX(1.0)">LED</span></div>
<div><span class="bul">&bull;</span><span class="it" style="transform:scaleX(1.25)">Incandescent</span></div>
<div><span class="bul">&bull;</span><span class="it" style="transform:scaleX(1.21)">Others</span></div>
<div class="segb"><span class="it b" style="transform:scaleX(1.064)">Based on End-Use:</span></div>
<div><span class="bul">&bull;</span><span class="it" style="transform:scaleX(1.155)">Residential</span></div>
<div><span class="bul">&bull;</span><span class="it" style="transform:scaleX(1.21)">Commercial</span></div>
<div><span class="bul">&bull;</span><span class="it" style="transform:scaleX(1.18)">Industrial</span></div>
<div><span class="bul">&bull;</span><span class="it" style="transform:scaleX(1.21)">Others</span></div>
</div>

<!-- CAGR -->
<div id="cagr"></div>
<div class="a" style="left:685px;top:306px;font-size:30px;font-weight:bold;color:#fff;-webkit-text-stroke:0.3px #1b3e4e;transform:scaleX(0.91);transform-origin:0 0">CAGR</div>
<div class="a" style="left:691px;top:340px;font-size:30px;font-weight:bold;color:#fff;-webkit-text-stroke:0.3px #1b3e4e;transform:scaleX(0.864);transform-origin:0 0">12.8%</div>
</body>
</html>
